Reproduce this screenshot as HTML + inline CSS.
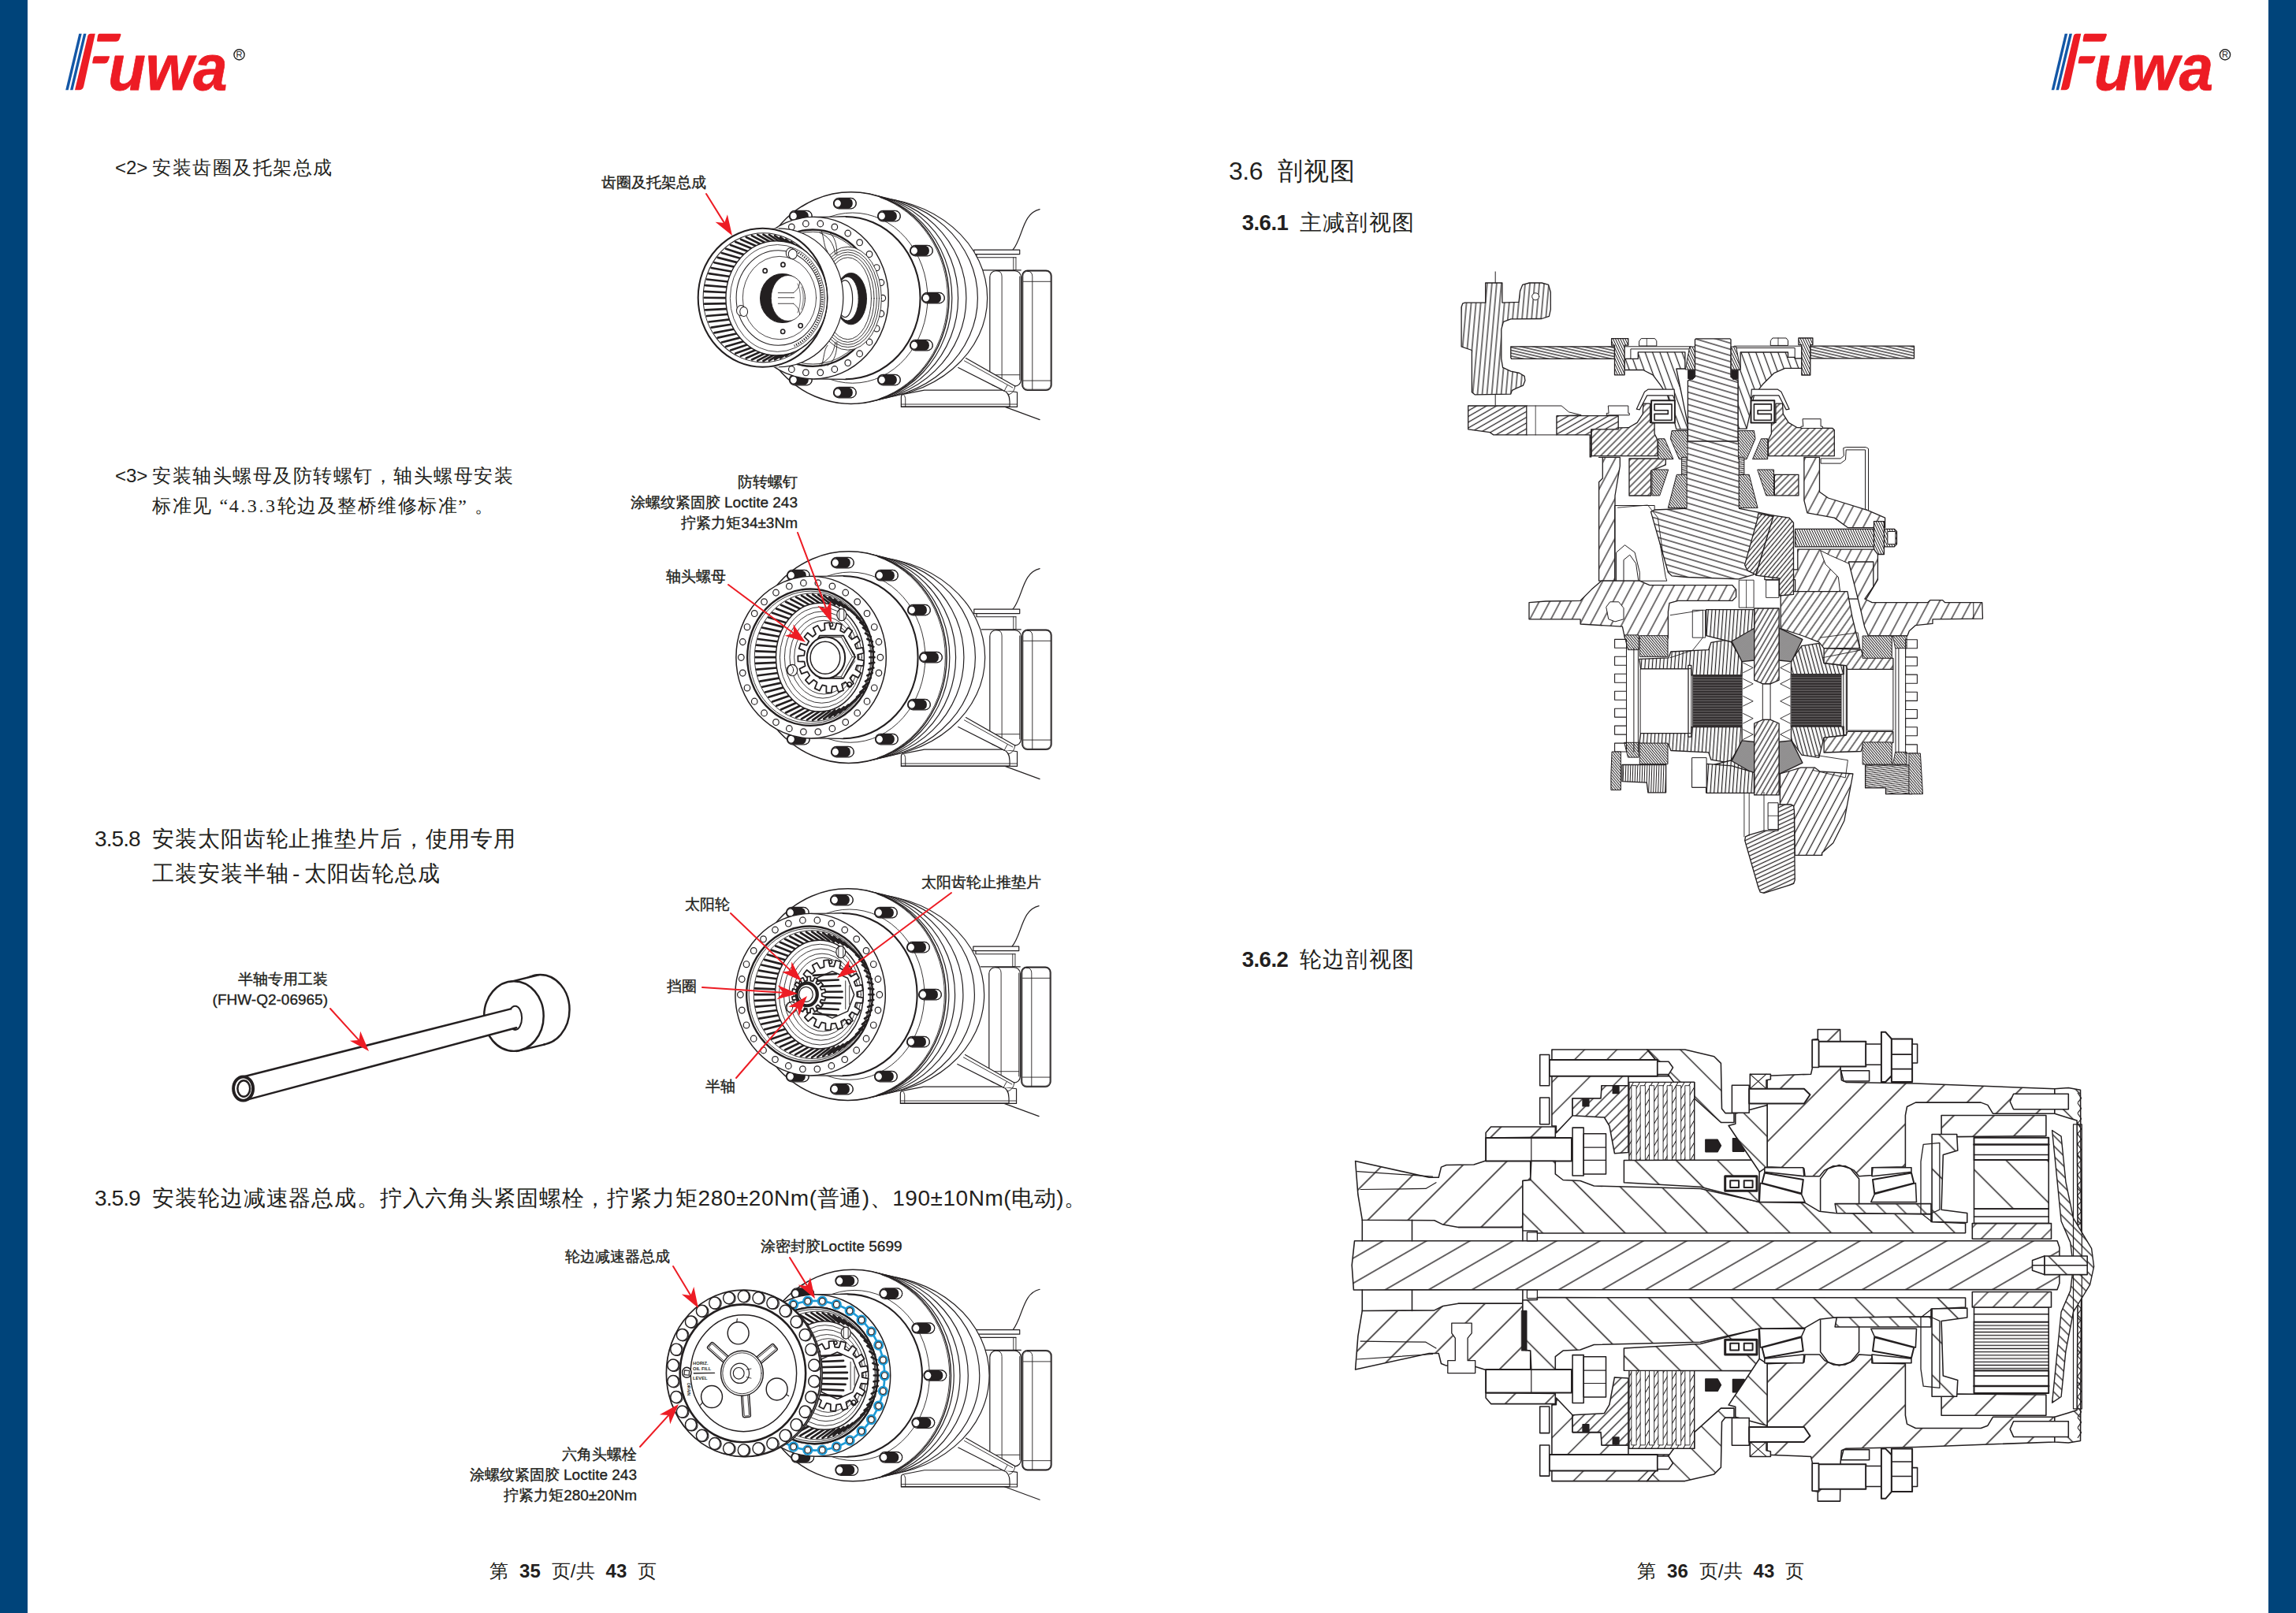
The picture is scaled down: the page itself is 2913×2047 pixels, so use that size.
<!DOCTYPE html>
<html lang="zh"><head><meta charset="utf-8"><title>Fuwa manual p35-36</title>
<style>
html,body{margin:0;padding:0;background:#fff;}
body{width:2913px;height:2047px;position:relative;overflow:hidden;font-family:"Liberation Sans",sans-serif;color:#231f20;}
.bar{position:absolute;top:0;width:35px;height:2047px;background:#00447a;}
svg.g{position:absolute;left:0;top:0;}
.t{position:absolute;white-space:nowrap;line-height:1.5;font-family:"Liberation Sans",sans-serif;}
.serif{font-family:"Liberation Serif",serif;}
.b{font-weight:500;-webkit-text-stroke:0.35px #231f20;}
</style></head><body>
<div class="bar" style="left:0"></div><div class="bar" style="right:0"></div>
<svg class="g" width="2913" height="2047" viewBox="0 0 2913 2047" fill="none" stroke-linecap="round" stroke-linejoin="round">
<defs><pattern id="HP" width="7.50" height="7.50" patternUnits="userSpaceOnUse" patternTransform="rotate(16.7)"><path d="M-1,3.75 L8.50,3.75" stroke="#231f20" stroke-width="1.25" stroke-linecap="butt"/></pattern><pattern id="HY" width="8.80" height="8.80" patternUnits="userSpaceOnUse" patternTransform="rotate(70.0)"><path d="M-1,4.40 L9.80,4.40" stroke="#231f20" stroke-width="1.25" stroke-linecap="butt"/></pattern><pattern id="HC" width="6.00" height="6.00" patternUnits="userSpaceOnUse" patternTransform="rotate(-85.0)"><path d="M-1,3.00 L7.00,3.00" stroke="#231f20" stroke-width="1.25" stroke-linecap="butt"/></pattern><pattern id="HD" width="3.60" height="3.60" patternUnits="userSpaceOnUse" patternTransform="rotate(13.0)"><path d="M-1,1.80 L4.60,1.80" stroke="#231f20" stroke-width="1.25" stroke-linecap="butt"/></pattern><pattern id="H45" width="6.00" height="6.00" patternUnits="userSpaceOnUse" patternTransform="rotate(-45.0)"><path d="M-1,3.00 L7.00,3.00" stroke="#231f20" stroke-width="1.25" stroke-linecap="butt"/></pattern><pattern id="H45s" width="11.80" height="11.80" patternUnits="userSpaceOnUse" patternTransform="rotate(-62.0)"><path d="M-1,5.90 L12.80,5.90" stroke="#231f20" stroke-width="1.25" stroke-linecap="butt"/></pattern><pattern id="HB" width="2.50" height="2.50" patternUnits="userSpaceOnUse" patternTransform="rotate(50.0)"><path d="M-1,1.25 L3.50,1.25" stroke="#231f20" stroke-width="1.00" stroke-linecap="butt"/></pattern><pattern id="HBh" width="2.40" height="2.40" patternUnits="userSpaceOnUse" patternTransform="rotate(-8.0)"><path d="M-1,1.20 L3.40,1.20" stroke="#231f20" stroke-width="1.00" stroke-linecap="butt"/></pattern><pattern id="HBv" width="2.50" height="2.50" patternUnits="userSpaceOnUse" patternTransform="rotate(-80.0)"><path d="M-1,1.25 L3.50,1.25" stroke="#231f20" stroke-width="1.00" stroke-linecap="butt"/></pattern><pattern id="HR" width="4.40" height="4.40" patternUnits="userSpaceOnUse" patternTransform="rotate(-50.0)"><path d="M-1,2.20 L5.40,2.20" stroke="#231f20" stroke-width="1.25" stroke-linecap="butt"/></pattern><pattern id="HV" width="4.70" height="4.70" patternUnits="userSpaceOnUse" patternTransform="rotate(-86.0)"><path d="M-1,2.35 L5.70,2.35" stroke="#231f20" stroke-width="1.25" stroke-linecap="butt"/></pattern><pattern id="HRG" width="5.00" height="5.00" patternUnits="userSpaceOnUse" patternTransform="rotate(-25.0)"><path d="M-1,2.50 L6.00,2.50" stroke="#231f20" stroke-width="1.25" stroke-linecap="butt"/></pattern><pattern id="HX" width="5.50" height="5.50" patternUnits="userSpaceOnUse" patternTransform="rotate(-60.0)"><path d="M-1,2.75 L6.50,2.75" stroke="#231f20" stroke-width="1.25" stroke-linecap="butt"/></pattern><pattern id="HS" width="4.70" height="4.70" patternUnits="userSpaceOnUse" patternTransform="rotate(75.0)"><path d="M-1,2.35 L5.70,2.35" stroke="#231f20" stroke-width="1.25" stroke-linecap="butt"/></pattern><pattern id="HCR" width="8.00" height="8.00" patternUnits="userSpaceOnUse" patternTransform="rotate(-55.0)"><path d="M-1,4.00 L9.00,4.00" stroke="#231f20" stroke-width="1.25" stroke-linecap="butt"/></pattern><pattern id="HVd" width="3.00" height="3.00" patternUnits="userSpaceOnUse" patternTransform="rotate(-88.0)"><path d="M-1,1.50 L4.00,1.50" stroke="#231f20" stroke-width="1.00" stroke-linecap="butt"/></pattern><pattern id="W1" width="19.00" height="19.00" patternUnits="userSpaceOnUse" patternTransform="rotate(-45.0)"><path d="M-1,9.50 L20.00,9.50" stroke="#231f20" stroke-width="1.25" stroke-linecap="butt"/></pattern><pattern id="W2" width="19.00" height="19.00" patternUnits="userSpaceOnUse" patternTransform="rotate(45.0)"><path d="M-1,9.50 L20.00,9.50" stroke="#231f20" stroke-width="1.25" stroke-linecap="butt"/></pattern><pattern id="W3" width="9.00" height="9.00" patternUnits="userSpaceOnUse" patternTransform="rotate(-45.0)"><path d="M-1,4.50 L10.00,4.50" stroke="#231f20" stroke-width="1.25" stroke-linecap="butt"/></pattern><pattern id="W4" width="9.00" height="9.00" patternUnits="userSpaceOnUse" patternTransform="rotate(45.0)"><path d="M-1,4.50 L10.00,4.50" stroke="#231f20" stroke-width="1.25" stroke-linecap="butt"/></pattern><pattern id="W5" width="5.00" height="5.00" patternUnits="userSpaceOnUse" patternTransform="rotate(-45.0)"><path d="M-1,2.50 L6.00,2.50" stroke="#231f20" stroke-width="1.25" stroke-linecap="butt"/></pattern><pattern id="HSc" width="2.80" height="2.80" patternUnits="userSpaceOnUse" patternTransform="rotate(65.0)"><path d="M-1,1.40 L3.80,1.40" stroke="#231f20" stroke-width="1.00" stroke-linecap="butt"/></pattern><pattern id="H45b" width="6.30" height="6.30" patternUnits="userSpaceOnUse" patternTransform="rotate(-30.0)"><path d="M-1,3.15 L7.30,3.15" stroke="#231f20" stroke-width="1.25" stroke-linecap="butt"/></pattern><pattern id="HBd" width="1.70" height="1.70" patternUnits="userSpaceOnUse" patternTransform="rotate(-45.0)"><path d="M-1,0.85 L2.70,0.85" stroke="#231f20" stroke-width="0.85" stroke-linecap="butt"/></pattern><pattern id="HSP" width="3.30" height="3.30" patternUnits="userSpaceOnUse" patternTransform="rotate(0.0)"><path d="M-1,1.65 L4.30,1.65" stroke="#9a9697" stroke-width="0.70" stroke-linecap="butt"/></pattern><pattern id="HCR2" width="8.60" height="8.60" patternUnits="userSpaceOnUse" patternTransform="rotate(-62.0)"><path d="M-1,4.30 L9.60,4.30" stroke="#231f20" stroke-width="1.25" stroke-linecap="butt"/></pattern><pattern id="WA" width="36.00" height="36.00" patternUnits="userSpaceOnUse" patternTransform="rotate(-45.0)"><path d="M-1,18.00 L37.00,18.00" stroke="#231f20" stroke-width="1.40" stroke-linecap="butt"/></pattern><pattern id="WS" width="37.00" height="37.00" patternUnits="userSpaceOnUse" patternTransform="rotate(45.0)"><path d="M-1,18.50 L38.00,18.50" stroke="#231f20" stroke-width="1.40" stroke-linecap="butt"/></pattern><pattern id="WSh" width="27.50" height="27.50" patternUnits="userSpaceOnUse" patternTransform="rotate(-30.0)"><path d="M-1,13.75 L28.50,13.75" stroke="#231f20" stroke-width="1.40" stroke-linecap="butt"/></pattern><pattern id="WB" width="29.00" height="29.00" patternUnits="userSpaceOnUse" patternTransform="rotate(-45.0)"><path d="M-1,14.50 L30.00,14.50" stroke="#231f20" stroke-width="1.40" stroke-linecap="butt"/></pattern><pattern id="WBr" width="29.00" height="29.00" patternUnits="userSpaceOnUse" patternTransform="rotate(45.0)"><path d="M-1,14.50 L30.00,14.50" stroke="#231f20" stroke-width="1.40" stroke-linecap="butt"/></pattern><pattern id="WP" width="9.20" height="9.20" patternUnits="userSpaceOnUse" patternTransform="rotate(-45.0)"><path d="M-1,4.60 L10.20,4.60" stroke="#231f20" stroke-width="1.30" stroke-linecap="butt"/></pattern><pattern id="WPr" width="9.20" height="9.20" patternUnits="userSpaceOnUse" patternTransform="rotate(45.0)"><path d="M-1,4.60 L10.20,4.60" stroke="#231f20" stroke-width="1.30" stroke-linecap="butt"/></pattern><pattern id="WH" width="36.00" height="36.00" patternUnits="userSpaceOnUse" patternTransform="rotate(-45.0)"><path d="M-1,18.00 L37.00,18.00" stroke="#231f20" stroke-width="1.40" stroke-linecap="butt"/></pattern><pattern id="WHd" width="18.00" height="18.00" patternUnits="userSpaceOnUse" patternTransform="rotate(-45.0)"><path d="M-1,9.00 L19.00,9.00" stroke="#231f20" stroke-width="1.30" stroke-linecap="butt"/></pattern><pattern id="WSd" width="18.00" height="18.00" patternUnits="userSpaceOnUse" patternTransform="rotate(45.0)"><path d="M-1,9.00 L19.00,9.00" stroke="#231f20" stroke-width="1.30" stroke-linecap="butt"/></pattern><pattern id="WDK" width="7.00" height="7.00" patternUnits="userSpaceOnUse" patternTransform="rotate(-60.0)"><path d="M-1,3.50 L8.00,3.50" stroke="#231f20" stroke-width="1.00" stroke-linecap="butt"/></pattern><pattern id="WVL" width="4.20" height="4.20" patternUnits="userSpaceOnUse" patternTransform="rotate(0.0)"><path d="M-1,2.10 L5.20,2.10" stroke="#231f20" stroke-width="1.30" stroke-linecap="butt"/></pattern></defs>
<g transform="translate(0.0,0)"><polygon points="83.2,114.3 86.7,114.3 103.7,42.8 100.2,42.8" fill="#1357a6"/><polygon points="89.0,114.3 92.5,114.3 109.5,42.8 106.0,42.8" fill="#1357a6"/><path d="M95,114.3 L111.2,46 Q112,42.8 115,42.8 L120.8,42.8 L106.2,109.5 Q105,114.3 100.5,114.3 Z" fill="#ed1c24"/><path d="M126.3,42.8 L152.4,42.8 Q153.8,42.8 153.4,44.5 L151.6,49.5 Q150.4,52.7 146.9,52.7 L123.9,52.7 Q122.7,52.7 123.1,51 L123.9,46 Q124.5,42.8 126.3,42.8 Z" fill="#ed1c24"/><path d="M120.6,71.3 L138.4,71.3 Q139.4,71.3 139,72.6 L137,77.8 Q136,80.4 132.9,80.4 L117.9,80.4 Q116.9,80.4 117.2,79.2 L118.1,74.5 Q118.7,71.3 120.6,71.3 Z" fill="#ed1c24"/><text x="0" y="0" transform="translate(137.2,113.6) scale(0.955,1)" stroke="#ed1c24" stroke-width="0.8" font-family="Liberation Sans, sans-serif" font-weight="bold" font-style="italic" font-size="81.5" fill="#ed1c24">uwa</text><circle cx="303.5" cy="69.4" r="6.6" fill="none" stroke="#222" stroke-width="1.4"/><text x="303.5" y="73.4" text-anchor="middle" font-family="Liberation Sans, sans-serif" font-size="11" fill="#222">R</text></g>
<g transform="translate(2519.5,0)"><polygon points="83.2,114.3 86.7,114.3 103.7,42.8 100.2,42.8" fill="#1357a6"/><polygon points="89.0,114.3 92.5,114.3 109.5,42.8 106.0,42.8" fill="#1357a6"/><path d="M95,114.3 L111.2,46 Q112,42.8 115,42.8 L120.8,42.8 L106.2,109.5 Q105,114.3 100.5,114.3 Z" fill="#ed1c24"/><path d="M126.3,42.8 L152.4,42.8 Q153.8,42.8 153.4,44.5 L151.6,49.5 Q150.4,52.7 146.9,52.7 L123.9,52.7 Q122.7,52.7 123.1,51 L123.9,46 Q124.5,42.8 126.3,42.8 Z" fill="#ed1c24"/><path d="M120.6,71.3 L138.4,71.3 Q139.4,71.3 139,72.6 L137,77.8 Q136,80.4 132.9,80.4 L117.9,80.4 Q116.9,80.4 117.2,79.2 L118.1,74.5 Q118.7,71.3 120.6,71.3 Z" fill="#ed1c24"/><text x="0" y="0" transform="translate(137.2,113.6) scale(0.955,1)" stroke="#ed1c24" stroke-width="0.8" font-family="Liberation Sans, sans-serif" font-weight="bold" font-style="italic" font-size="81.5" fill="#ed1c24">uwa</text><circle cx="303.5" cy="69.4" r="6.6" fill="none" stroke="#222" stroke-width="1.4"/><text x="303.5" y="73.4" text-anchor="middle" font-family="Liberation Sans, sans-serif" font-size="11" fill="#222">R</text></g>
<g transform="translate(0,-456)"><g transform="translate(920,680) scale(0.19837)"><path d="M1840,470 C1905,390 1900,235 2012,210" stroke="#231f20" stroke-width="6.00" fill="none" /><path d="M1780.0,1470.0 L2012.0,1556.0" stroke="#231f20" stroke-width="6.00"/><path d="M1592.0,469.0 L1884.0,469.0 L1884.0,497.0 L1592.0,497.0Z" stroke="#231f20" stroke-width="6.00" fill="#fff" /><path d="M1608.0,497.0 L1608.0,518.0 L1860.0,518.0" stroke="#231f20" stroke-width="6.00" fill="none" /><path d="M1844.0,518.0 L1844.0,599.0 L1860.0,599.0 L1860.0,518.0" stroke="#231f20" stroke-width="4.50" fill="none" /><path d="M1640.0,599.0 L1892.0,599.0" stroke="#231f20" stroke-width="6.00"/><rect x="1693.0" y="603.0" width="199.0" height="739.0" rx="40.0" stroke="#231f20" stroke-width="6.00" fill="#fff"/><path d="M1770,1342 L1770,640 Q1770,603 1735,603" stroke="#231f20" stroke-width="4.50" fill="none" /><path d="M1884.0,640.0 L1884.0,1300.0" stroke="#231f20" stroke-width="4.50"/><path d="M1700.0,1269.0 L1884.0,1269.0" stroke="#231f20" stroke-width="4.50"/><rect x="1900.0" y="601.0" width="187.0" height="766.0" rx="34.0" stroke="#231f20" stroke-width="7.50" fill="#fff"/><rect x="1905.0" y="606.0" width="177.0" height="756.0" rx="30.0" stroke="#231f20" stroke-width="3.75" fill="none"/><path d="M1965,1362 L1965,640 Q1965,606 1935,606" stroke="#231f20" stroke-width="4.50" fill="none" /><path d="M1908.0,672.0 L2082.0,672.0" stroke="#231f20" stroke-width="4.50"/><path d="M1908.0,1306.0 L2082.0,1306.0" stroke="#231f20" stroke-width="4.50"/><path d="M1274,1367 L1776,1367 Q1820,1380 1820,1440 L1820,1472 L1126,1472 L1126,1410 Q1126,1394 1145,1392 Z" stroke="#231f20" stroke-width="6.00" fill="#fff" /><path d="M1776.0,1367.0 L1868.0,1380.0 L1868.0,1474.0 L1126.0,1474.0" stroke="#231f20" stroke-width="6.00" fill="none" /><path d="M1126.0,1457.0 L1868.0,1457.0" stroke="#231f20" stroke-width="4.50"/><path d="M1153,1472 L1153,1420 Q1150,1398 1140,1394" stroke="#231f20" stroke-width="4.50" fill="none" /><path d="M1540.0,1162.0 L1854.0,1341.0 L1845.0,1372.0 L1786.0,1372.0 L1491.0,1222.0Z" stroke="none" stroke-width="0.00" fill="#fff" /><path d="M1540.0,1162.0 L1854.0,1341.0" stroke="#231f20" stroke-width="6.00"/><path d="M1530.0,1179.0 L1839.0,1351.0" stroke="#231f20" stroke-width="4.50"/><path d="M1491.0,1222.0 L1786.0,1372.0" stroke="#231f20" stroke-width="6.00"/><path d="M1854,1341 Q1850,1385 1815,1395" stroke="#231f20" stroke-width="4.50" fill="none" /><path d="M1805,1336 Q1790,1360 1786,1372" stroke="#231f20" stroke-width="4.50" fill="none" /><g transform="translate(15,0)"><ellipse cx="904.0" cy="777.0" rx="758.0" ry="642.0" stroke="#231f20" stroke-width="6.00" fill="#fff" /><ellipse cx="875.2" cy="777.0" rx="724.8" ry="650.9" stroke="#231f20" stroke-width="6.00" fill="#fff" /><ellipse cx="841.2" cy="777.0" rx="685.8" ry="661.3" stroke="#231f20" stroke-width="6.00" fill="#fff" /><ellipse cx="817.0" cy="777.0" rx="658.0" ry="668.7" stroke="#231f20" stroke-width="6.00" fill="#fff" /><ellipse cx="798.8" cy="777.0" rx="637.2" ry="674.3" stroke="#231f20" stroke-width="6.00" fill="#fff" /><ellipse cx="790.0" cy="777.0" rx="627.0" ry="677.0" stroke="#231f20" stroke-width="7.50" fill="#fff" /><path d="M974.8,133.1 A627.0,677.0 0 0 1 974.8,1420.9" stroke="#231f20" stroke-width="4.50" fill="none" /><ellipse cx="800.0" cy="777.0" rx="480.0" ry="545.0" stroke="#231f20" stroke-width="4.50" fill="none" /><rect x="395.5" y="219.1" width="145.0" height="68.0" rx="34.0" stroke="#231f20" stroke-width="6.00" fill="#fff"/><path d="M427.5,220.1 L492.5,220.1 A34,34 0 0 1 492.5,286.1 L427.5,286.1 Z" fill="#231f20" stroke="none"/><path d="M512.4,219.6 A34.0,34.0 0 0 1 512.4,286.5" stroke="#231f20" stroke-width="4.50" fill="none" /><ellipse cx="422.5" cy="253.1" rx="24.0" ry="26.0" stroke="#231f20" stroke-width="7.50" fill="#fff" /><rect x="678.0" y="138.0" width="145.0" height="68.0" rx="34.0" stroke="#231f20" stroke-width="6.00" fill="#fff"/><path d="M710.0,139.0 L775.0,139.0 A34,34 0 0 1 775.0,205.0 L710.0,205.0 Z" fill="#231f20" stroke="none"/><path d="M794.9,138.5 A34.0,34.0 0 0 1 794.9,205.5" stroke="#231f20" stroke-width="4.50" fill="none" /><ellipse cx="705.0" cy="172.0" rx="24.0" ry="26.0" stroke="#231f20" stroke-width="7.50" fill="#fff" /><rect x="960.5" y="219.1" width="145.0" height="68.0" rx="34.0" stroke="#231f20" stroke-width="6.00" fill="#fff"/><path d="M992.5,220.1 L1057.5,220.1 A34,34 0 0 1 1057.5,286.1 L992.5,286.1 Z" fill="#231f20" stroke="none"/><path d="M1077.4,219.6 A34.0,34.0 0 0 1 1077.4,286.5" stroke="#231f20" stroke-width="4.50" fill="none" /><ellipse cx="987.5" cy="253.1" rx="24.0" ry="26.0" stroke="#231f20" stroke-width="7.50" fill="#fff" /><rect x="1167.3" y="440.5" width="145.0" height="68.0" rx="34.0" stroke="#231f20" stroke-width="6.00" fill="#fff"/><path d="M1199.3,441.5 L1264.3,441.5 A34,34 0 0 1 1264.3,507.5 L1199.3,507.5 Z" fill="#231f20" stroke="none"/><path d="M1284.2,441.0 A34.0,34.0 0 0 1 1284.2,508.0" stroke="#231f20" stroke-width="4.50" fill="none" /><ellipse cx="1194.3" cy="474.5" rx="24.0" ry="26.0" stroke="#231f20" stroke-width="7.50" fill="#fff" /><rect x="1243.0" y="743.0" width="145.0" height="68.0" rx="34.0" stroke="#231f20" stroke-width="6.00" fill="#fff"/><path d="M1275.0,744.0 L1340.0,744.0 A34,34 0 0 1 1340.0,810.0 L1275.0,810.0 Z" fill="#231f20" stroke="none"/><path d="M1359.9,743.5 A34.0,34.0 0 0 1 1359.9,810.5" stroke="#231f20" stroke-width="4.50" fill="none" /><ellipse cx="1270.0" cy="777.0" rx="24.0" ry="26.0" stroke="#231f20" stroke-width="7.50" fill="#fff" /><rect x="1167.3" y="1045.5" width="145.0" height="68.0" rx="34.0" stroke="#231f20" stroke-width="6.00" fill="#fff"/><path d="M1199.3,1046.5 L1264.3,1046.5 A34,34 0 0 1 1264.3,1112.5 L1199.3,1112.5 Z" fill="#231f20" stroke="none"/><path d="M1284.2,1046.0 A34.0,34.0 0 0 1 1284.2,1113.0" stroke="#231f20" stroke-width="4.50" fill="none" /><ellipse cx="1194.3" cy="1079.5" rx="24.0" ry="26.0" stroke="#231f20" stroke-width="7.50" fill="#fff" /><rect x="960.5" y="1266.9" width="145.0" height="68.0" rx="34.0" stroke="#231f20" stroke-width="6.00" fill="#fff"/><path d="M992.5,1267.9 L1057.5,1267.9 A34,34 0 0 1 1057.5,1333.9 L992.5,1333.9 Z" fill="#231f20" stroke="none"/><path d="M1077.4,1267.5 A34.0,34.0 0 0 1 1077.4,1334.4" stroke="#231f20" stroke-width="4.50" fill="none" /><ellipse cx="987.5" cy="1300.9" rx="24.0" ry="26.0" stroke="#231f20" stroke-width="7.50" fill="#fff" /><rect x="678.0" y="1348.0" width="145.0" height="68.0" rx="34.0" stroke="#231f20" stroke-width="6.00" fill="#fff"/><path d="M710.0,1349.0 L775.0,1349.0 A34,34 0 0 1 775.0,1415.0 L710.0,1415.0 Z" fill="#231f20" stroke="none"/><path d="M794.9,1348.5 A34.0,34.0 0 0 1 794.9,1415.5" stroke="#231f20" stroke-width="4.50" fill="none" /><ellipse cx="705.0" cy="1382.0" rx="24.0" ry="26.0" stroke="#231f20" stroke-width="7.50" fill="#fff" /><rect x="395.5" y="1266.9" width="145.0" height="68.0" rx="34.0" stroke="#231f20" stroke-width="6.00" fill="#fff"/><path d="M427.5,1267.9 L492.5,1267.9 A34,34 0 0 1 492.5,1333.9 L427.5,1333.9 Z" fill="#231f20" stroke="none"/><path d="M512.4,1267.5 A34.0,34.0 0 0 1 512.4,1334.4" stroke="#231f20" stroke-width="4.50" fill="none" /><ellipse cx="422.5" cy="1300.9" rx="24.0" ry="26.0" stroke="#231f20" stroke-width="7.50" fill="#fff" /><ellipse cx="755.0" cy="777.0" rx="478.0" ry="520.0" stroke="#231f20" stroke-width="10.50" fill="#fff" /><path d="M550.0,259.0 L755.0,257.0 L755.0,1297.0 L550.0,1295.0Z" stroke="none" stroke-width="0.00" fill="#fff" /><path d="M550.0,259.0 L760.0,257.0" stroke="#231f20" stroke-width="6.00"/><path d="M550.0,1295.0 L760.0,1297.0" stroke="#231f20" stroke-width="6.00"/><ellipse cx="550.0" cy="777.0" rx="480.0" ry="518.0" stroke="#231f20" stroke-width="7.50" fill="#fff" /><ellipse cx="594.0" cy="302.0" rx="19.0" ry="20.0" stroke="#231f20" stroke-width="6.00" fill="none" /><ellipse cx="685.0" cy="322.8" rx="19.0" ry="20.0" stroke="#231f20" stroke-width="6.00" fill="none" /><ellipse cx="770.0" cy="363.5" rx="19.0" ry="20.0" stroke="#231f20" stroke-width="6.00" fill="none" /><ellipse cx="845.3" cy="422.3" rx="19.0" ry="20.0" stroke="#231f20" stroke-width="6.00" fill="none" /><ellipse cx="907.5" cy="496.7" rx="19.0" ry="20.0" stroke="#231f20" stroke-width="6.00" fill="none" /><ellipse cx="954.0" cy="583.3" rx="19.0" ry="20.0" stroke="#231f20" stroke-width="6.00" fill="none" /><ellipse cx="982.8" cy="678.5" rx="19.0" ry="20.0" stroke="#231f20" stroke-width="6.00" fill="none" /><ellipse cx="992.5" cy="778.0" rx="19.0" ry="20.0" stroke="#231f20" stroke-width="6.00" fill="none" /><ellipse cx="982.8" cy="877.5" rx="19.0" ry="20.0" stroke="#231f20" stroke-width="6.00" fill="none" /><ellipse cx="954.0" cy="972.7" rx="19.0" ry="20.0" stroke="#231f20" stroke-width="6.00" fill="none" /><ellipse cx="907.5" cy="1059.3" rx="19.0" ry="20.0" stroke="#231f20" stroke-width="6.00" fill="none" /><ellipse cx="845.3" cy="1133.7" rx="19.0" ry="20.0" stroke="#231f20" stroke-width="6.00" fill="none" /><ellipse cx="770.0" cy="1192.5" rx="19.0" ry="20.0" stroke="#231f20" stroke-width="6.00" fill="none" /><ellipse cx="685.0" cy="1233.2" rx="19.0" ry="20.0" stroke="#231f20" stroke-width="6.00" fill="none" /><ellipse cx="594.0" cy="1254.0" rx="19.0" ry="20.0" stroke="#231f20" stroke-width="6.00" fill="none" /><ellipse cx="501.0" cy="1254.0" rx="19.0" ry="20.0" stroke="#231f20" stroke-width="6.00" fill="none" /><ellipse cx="410.0" cy="1233.2" rx="19.0" ry="20.0" stroke="#231f20" stroke-width="6.00" fill="none" /><ellipse cx="325.0" cy="1192.5" rx="19.0" ry="20.0" stroke="#231f20" stroke-width="6.00" fill="none" /><ellipse cx="249.7" cy="1133.7" rx="19.0" ry="20.0" stroke="#231f20" stroke-width="6.00" fill="none" /><ellipse cx="187.5" cy="1059.3" rx="19.0" ry="20.0" stroke="#231f20" stroke-width="6.00" fill="none" /><ellipse cx="141.0" cy="972.7" rx="19.0" ry="20.0" stroke="#231f20" stroke-width="6.00" fill="none" /><ellipse cx="112.2" cy="877.5" rx="19.0" ry="20.0" stroke="#231f20" stroke-width="6.00" fill="none" /><ellipse cx="102.5" cy="778.0" rx="19.0" ry="20.0" stroke="#231f20" stroke-width="6.00" fill="none" /><ellipse cx="112.2" cy="678.5" rx="19.0" ry="20.0" stroke="#231f20" stroke-width="6.00" fill="none" /><ellipse cx="141.0" cy="583.3" rx="19.0" ry="20.0" stroke="#231f20" stroke-width="6.00" fill="none" /><ellipse cx="187.5" cy="496.7" rx="19.0" ry="20.0" stroke="#231f20" stroke-width="6.00" fill="none" /><ellipse cx="249.7" cy="422.3" rx="19.0" ry="20.0" stroke="#231f20" stroke-width="6.00" fill="none" /><ellipse cx="325.0" cy="363.5" rx="19.0" ry="20.0" stroke="#231f20" stroke-width="6.00" fill="none" /><ellipse cx="410.0" cy="322.8" rx="19.0" ry="20.0" stroke="#231f20" stroke-width="6.00" fill="none" /><ellipse cx="501.0" cy="302.0" rx="19.0" ry="20.0" stroke="#231f20" stroke-width="6.00" fill="none" /><ellipse cx="545.0" cy="777.0" rx="403.0" ry="437.0" stroke="#231f20" stroke-width="12.00" fill="#fff" /><ellipse cx="547.0" cy="777.0" rx="390.0" ry="423.0" stroke="#231f20" stroke-width="4.50" fill="none" /><ellipse cx="770.0" cy="780.0" rx="215.0" ry="330.0" stroke="#231f20" stroke-width="4.50" fill="#fff" /><ellipse cx="770.0" cy="780.0" rx="200.0" ry="312.0" stroke="#231f20" stroke-width="4.50" fill="#fff" /><ellipse cx="770.0" cy="780.0" rx="185.0" ry="296.0" stroke="#231f20" stroke-width="4.50" fill="#fff" /><ellipse cx="770.0" cy="780.0" rx="168.0" ry="280.0" stroke="#231f20" stroke-width="4.50" fill="#fff" /><ellipse cx="770.0" cy="780.0" rx="150.0" ry="262.0" stroke="#231f20" stroke-width="4.50" fill="#fff" /><ellipse cx="790.0" cy="782.0" rx="100.0" ry="165.0" stroke="#231f20" stroke-width="4.50" fill="#231f20" /><ellipse cx="768.0" cy="782.0" rx="70.0" ry="140.0" stroke="#231f20" stroke-width="4.50" fill="#fff" /><ellipse cx="752.0" cy="782.0" rx="48.0" ry="118.0" stroke="#231f20" stroke-width="6.00" fill="none" /><path d="M590,360 C640,380 680,420 690,500" stroke="#231f20" stroke-width="4.50" fill="none" /><path d="M640,350 C690,380 700,440 700,500" stroke="#231f20" stroke-width="4.50" fill="none" /><path d="M600,345 C620,400 615,450 640,480" stroke="#231f20" stroke-width="4.50" fill="none" /><path d="M590,1200 C640,1180 680,1140 690,1060" stroke="#231f20" stroke-width="4.50" fill="none" /><path d="M640,1210 C690,1180 700,1120 700,1060" stroke="#231f20" stroke-width="4.50" fill="none" /><path d="M600,1215 C620,1160 615,1110 640,1080" stroke="#231f20" stroke-width="4.50" fill="none" /></g></g></g><g transform="translate(870,270) scale(0.13641)"><ellipse cx="865.0" cy="790.0" rx="600.0" ry="645.0" stroke="#231f20" stroke-width="9.00" fill="#fff" /><path d="M715.0,145.0 L865.0,145.0 L865.0,1435.0 L715.0,1435.0Z" stroke="none" stroke-width="0.00" fill="#fff" /><ellipse cx="715.0" cy="790.0" rx="600.0" ry="645.0" stroke="#231f20" stroke-width="15.00" fill="#fff" /><ellipse cx="722.0" cy="790.0" rx="560.0" ry="602.0" stroke="#231f20" stroke-width="7.50" fill="none" /><path d="M1270.0,790.0 L1300.0,793.0 M1267.4,847.6 L1297.8,843.5 M1259.5,904.7 L1291.3,893.5 M1246.4,960.7 L1280.4,942.5 M1228.3,1015.0 L1265.4,990.1 M1205.3,1067.2 L1246.3,1035.8 M1177.6,1116.7 L1223.3,1079.1 M1145.6,1163.0 L1196.7,1119.7 M1109.5,1205.8 L1166.7,1157.2 M1069.6,1244.5 L1133.6,1191.1 M1026.5,1278.9 L1097.8,1221.2 M980.3,1308.6 L1059.5,1247.2 M931.7,1333.2 L1019.1,1268.8 M881.1,1352.7 L977.1,1285.8 M828.9,1366.7 L933.8,1298.1 M775.7,1375.2 L889.6,1305.5 M722.0,1378.0 L845.0,1308.0 M668.3,1375.2 L800.4,1305.5 M615.1,1366.7 L756.2,1298.1 M562.9,1352.7 L712.9,1285.8 M512.3,1333.2 L670.9,1268.8 M463.7,1308.6 L630.5,1247.2 M417.5,1278.9 L592.2,1221.2 M374.4,1244.5 L556.4,1191.1 M334.5,1205.8 L523.3,1157.2 M298.4,1163.0 L493.3,1119.7 M266.4,1116.7 L466.7,1079.1 M238.7,1067.2 L443.7,1035.8 M215.7,1015.0 L424.6,990.1 M197.6,960.7 L409.6,942.5 M184.5,904.7 L398.7,893.5 M176.6,847.6 L392.2,843.5 M174.0,790.0 L390.0,793.0 M176.6,732.4 L392.2,742.5 M184.5,675.3 L398.7,692.5 M197.6,619.3 L409.6,643.5 M215.7,565.0 L424.6,595.9 M238.7,512.8 L443.7,550.2 M266.4,463.3 L466.7,506.9 M298.4,417.0 L493.3,466.3 M334.5,374.2 L523.3,428.8 M374.4,335.5 L556.4,394.9 M417.5,301.1 L592.2,364.8 M463.7,271.4 L630.5,338.8 M512.3,246.8 L670.9,317.2 M562.9,227.3 L712.9,300.2 M615.1,213.3 L756.2,287.9 M668.3,204.8 L800.4,280.5 M722.0,202.0 L845.0,278.0 M775.7,204.8 L889.6,280.5 M828.9,213.3 L933.8,287.9 M881.1,227.3 L977.1,300.2 M931.7,246.8 L1019.1,317.2 M980.3,271.4 L1059.5,338.8 M1026.5,301.1 L1097.8,364.8 M1069.6,335.5 L1133.6,394.9 M1109.5,374.2 L1166.7,428.8 M1145.6,417.0 L1196.7,466.3 M1177.6,463.3 L1223.3,506.9 M1205.3,512.8 L1246.3,550.2 M1228.3,565.0 L1265.4,595.9 M1246.4,619.3 L1280.4,643.5 M1259.5,675.3 L1291.3,692.5 M1267.4,732.4 L1297.8,742.5 " stroke="#231f20" stroke-width="19.50" fill="none" /><ellipse cx="845.0" cy="795.0" rx="472.0" ry="532.0" stroke="#231f20" stroke-width="10.50" fill="#fff" /><ellipse cx="853.0" cy="795.0" rx="440.0" ry="498.0" stroke="#231f20" stroke-width="6.00" fill="none" /><ellipse cx="862.0" cy="792.0" rx="392.0" ry="442.0" stroke="#231f20" stroke-width="7.50" fill="none" /><ellipse cx="872.0" cy="792.0" rx="342.0" ry="386.0" stroke="#231f20" stroke-width="6.00" fill="none" /><path d="M1009.6,351.8 A418,478 0 0 1 1009.6,1238.2" stroke="#231f20" stroke-width="22" stroke-dasharray="9 13" stroke-linecap="butt" fill="none"/><ellipse cx="900.0" cy="795.0" rx="207.0" ry="227.0" stroke="#231f20" stroke-width="7.50" fill="#231f20" /><ellipse cx="952.0" cy="795.0" rx="158.0" ry="212.0" stroke="#231f20" stroke-width="6.00" fill="#fff" /><path d="M860,745 L1000,745 M860,790 L985,790 M860,845 L1000,845" stroke="#231f20" stroke-width="6.00" fill="none" /><path d="M1000,745 C1040,720 1060,680 1060,640 M1000,845 C1040,870 1060,910 1060,950 M985,790 L1010,790" stroke="#231f20" stroke-width="6.00" fill="none" /><path d="M1040,660 C1075,720 1075,860 1040,930 M1075,690 C1100,740 1100,840 1075,900" stroke="#231f20" stroke-width="4.50" fill="none" /><ellipse cx="738.0" cy="540.0" rx="19.0" ry="20.0" stroke="#231f20" stroke-width="12.00" fill="none" /><ellipse cx="905.0" cy="483.0" rx="19.0" ry="20.0" stroke="#231f20" stroke-width="12.00" fill="none" /><ellipse cx="1068.0" cy="1050.0" rx="19.0" ry="20.0" stroke="#231f20" stroke-width="12.00" fill="none" /><ellipse cx="903.0" cy="1105.0" rx="19.0" ry="20.0" stroke="#231f20" stroke-width="12.00" fill="none" /><ellipse cx="975.0" cy="375.0" rx="42.0" ry="48.0" stroke="#231f20" stroke-width="7.50" fill="#fff" /><ellipse cx="995.0" cy="385.0" rx="40.0" ry="46.0" stroke="#231f20" stroke-width="7.50" fill="#fff" /><ellipse cx="515.0" cy="910.0" rx="42.0" ry="48.0" stroke="#231f20" stroke-width="7.50" fill="#fff" /><ellipse cx="540.0" cy="920.0" rx="36.0" ry="44.0" stroke="#231f20" stroke-width="7.50" fill="#fff" /></g><path d="M896.0,246.0 L919.1,283.1" stroke="#ed1c24" stroke-width="2.0"/><path d="M929.0,299.0 L907.6,281.7 L919.1,283.1 L922.9,272.2 Z" fill="#ed1c24" stroke="none"/>
<g transform="translate(920,680) scale(0.19837)"><path d="M1840,470 C1905,390 1900,235 2012,210" stroke="#231f20" stroke-width="6.00" fill="none" /><path d="M1780.0,1470.0 L2012.0,1556.0" stroke="#231f20" stroke-width="6.00"/><path d="M1592.0,469.0 L1884.0,469.0 L1884.0,497.0 L1592.0,497.0Z" stroke="#231f20" stroke-width="6.00" fill="#fff" /><path d="M1608.0,497.0 L1608.0,518.0 L1860.0,518.0" stroke="#231f20" stroke-width="6.00" fill="none" /><path d="M1844.0,518.0 L1844.0,599.0 L1860.0,599.0 L1860.0,518.0" stroke="#231f20" stroke-width="4.50" fill="none" /><path d="M1640.0,599.0 L1892.0,599.0" stroke="#231f20" stroke-width="6.00"/><rect x="1693.0" y="603.0" width="199.0" height="739.0" rx="40.0" stroke="#231f20" stroke-width="6.00" fill="#fff"/><path d="M1770,1342 L1770,640 Q1770,603 1735,603" stroke="#231f20" stroke-width="4.50" fill="none" /><path d="M1884.0,640.0 L1884.0,1300.0" stroke="#231f20" stroke-width="4.50"/><path d="M1700.0,1269.0 L1884.0,1269.0" stroke="#231f20" stroke-width="4.50"/><rect x="1900.0" y="601.0" width="187.0" height="766.0" rx="34.0" stroke="#231f20" stroke-width="7.50" fill="#fff"/><rect x="1905.0" y="606.0" width="177.0" height="756.0" rx="30.0" stroke="#231f20" stroke-width="3.75" fill="none"/><path d="M1965,1362 L1965,640 Q1965,606 1935,606" stroke="#231f20" stroke-width="4.50" fill="none" /><path d="M1908.0,672.0 L2082.0,672.0" stroke="#231f20" stroke-width="4.50"/><path d="M1908.0,1306.0 L2082.0,1306.0" stroke="#231f20" stroke-width="4.50"/><path d="M1274,1367 L1776,1367 Q1820,1380 1820,1440 L1820,1472 L1126,1472 L1126,1410 Q1126,1394 1145,1392 Z" stroke="#231f20" stroke-width="6.00" fill="#fff" /><path d="M1776.0,1367.0 L1868.0,1380.0 L1868.0,1474.0 L1126.0,1474.0" stroke="#231f20" stroke-width="6.00" fill="none" /><path d="M1126.0,1457.0 L1868.0,1457.0" stroke="#231f20" stroke-width="4.50"/><path d="M1153,1472 L1153,1420 Q1150,1398 1140,1394" stroke="#231f20" stroke-width="4.50" fill="none" /><path d="M1540.0,1162.0 L1854.0,1341.0 L1845.0,1372.0 L1786.0,1372.0 L1491.0,1222.0Z" stroke="none" stroke-width="0.00" fill="#fff" /><path d="M1540.0,1162.0 L1854.0,1341.0" stroke="#231f20" stroke-width="6.00"/><path d="M1530.0,1179.0 L1839.0,1351.0" stroke="#231f20" stroke-width="4.50"/><path d="M1491.0,1222.0 L1786.0,1372.0" stroke="#231f20" stroke-width="6.00"/><path d="M1854,1341 Q1850,1385 1815,1395" stroke="#231f20" stroke-width="4.50" fill="none" /><path d="M1805,1336 Q1790,1360 1786,1372" stroke="#231f20" stroke-width="4.50" fill="none" /><ellipse cx="904.0" cy="777.0" rx="758.0" ry="642.0" stroke="#231f20" stroke-width="6.00" fill="#fff" /><ellipse cx="875.2" cy="777.0" rx="724.8" ry="650.9" stroke="#231f20" stroke-width="6.00" fill="#fff" /><ellipse cx="841.2" cy="777.0" rx="685.8" ry="661.3" stroke="#231f20" stroke-width="6.00" fill="#fff" /><ellipse cx="817.0" cy="777.0" rx="658.0" ry="668.7" stroke="#231f20" stroke-width="6.00" fill="#fff" /><ellipse cx="798.8" cy="777.0" rx="637.2" ry="674.3" stroke="#231f20" stroke-width="6.00" fill="#fff" /><ellipse cx="790.0" cy="777.0" rx="627.0" ry="677.0" stroke="#231f20" stroke-width="7.50" fill="#fff" /><path d="M974.8,133.1 A627.0,677.0 0 0 1 974.8,1420.9" stroke="#231f20" stroke-width="4.50" fill="none" /><ellipse cx="800.0" cy="777.0" rx="480.0" ry="545.0" stroke="#231f20" stroke-width="4.50" fill="none" /><rect x="395.5" y="219.1" width="145.0" height="68.0" rx="34.0" stroke="#231f20" stroke-width="6.00" fill="#fff"/><path d="M427.5,220.1 L492.5,220.1 A34,34 0 0 1 492.5,286.1 L427.5,286.1 Z" fill="#231f20" stroke="none"/><path d="M512.4,219.6 A34.0,34.0 0 0 1 512.4,286.5" stroke="#231f20" stroke-width="4.50" fill="none" /><ellipse cx="422.5" cy="253.1" rx="24.0" ry="26.0" stroke="#231f20" stroke-width="7.50" fill="#fff" /><rect x="678.0" y="138.0" width="145.0" height="68.0" rx="34.0" stroke="#231f20" stroke-width="6.00" fill="#fff"/><path d="M710.0,139.0 L775.0,139.0 A34,34 0 0 1 775.0,205.0 L710.0,205.0 Z" fill="#231f20" stroke="none"/><path d="M794.9,138.5 A34.0,34.0 0 0 1 794.9,205.5" stroke="#231f20" stroke-width="4.50" fill="none" /><ellipse cx="705.0" cy="172.0" rx="24.0" ry="26.0" stroke="#231f20" stroke-width="7.50" fill="#fff" /><rect x="960.5" y="219.1" width="145.0" height="68.0" rx="34.0" stroke="#231f20" stroke-width="6.00" fill="#fff"/><path d="M992.5,220.1 L1057.5,220.1 A34,34 0 0 1 1057.5,286.1 L992.5,286.1 Z" fill="#231f20" stroke="none"/><path d="M1077.4,219.6 A34.0,34.0 0 0 1 1077.4,286.5" stroke="#231f20" stroke-width="4.50" fill="none" /><ellipse cx="987.5" cy="253.1" rx="24.0" ry="26.0" stroke="#231f20" stroke-width="7.50" fill="#fff" /><rect x="1167.3" y="440.5" width="145.0" height="68.0" rx="34.0" stroke="#231f20" stroke-width="6.00" fill="#fff"/><path d="M1199.3,441.5 L1264.3,441.5 A34,34 0 0 1 1264.3,507.5 L1199.3,507.5 Z" fill="#231f20" stroke="none"/><path d="M1284.2,441.0 A34.0,34.0 0 0 1 1284.2,508.0" stroke="#231f20" stroke-width="4.50" fill="none" /><ellipse cx="1194.3" cy="474.5" rx="24.0" ry="26.0" stroke="#231f20" stroke-width="7.50" fill="#fff" /><rect x="1243.0" y="743.0" width="145.0" height="68.0" rx="34.0" stroke="#231f20" stroke-width="6.00" fill="#fff"/><path d="M1275.0,744.0 L1340.0,744.0 A34,34 0 0 1 1340.0,810.0 L1275.0,810.0 Z" fill="#231f20" stroke="none"/><path d="M1359.9,743.5 A34.0,34.0 0 0 1 1359.9,810.5" stroke="#231f20" stroke-width="4.50" fill="none" /><ellipse cx="1270.0" cy="777.0" rx="24.0" ry="26.0" stroke="#231f20" stroke-width="7.50" fill="#fff" /><rect x="1167.3" y="1045.5" width="145.0" height="68.0" rx="34.0" stroke="#231f20" stroke-width="6.00" fill="#fff"/><path d="M1199.3,1046.5 L1264.3,1046.5 A34,34 0 0 1 1264.3,1112.5 L1199.3,1112.5 Z" fill="#231f20" stroke="none"/><path d="M1284.2,1046.0 A34.0,34.0 0 0 1 1284.2,1113.0" stroke="#231f20" stroke-width="4.50" fill="none" /><ellipse cx="1194.3" cy="1079.5" rx="24.0" ry="26.0" stroke="#231f20" stroke-width="7.50" fill="#fff" /><rect x="960.5" y="1266.9" width="145.0" height="68.0" rx="34.0" stroke="#231f20" stroke-width="6.00" fill="#fff"/><path d="M992.5,1267.9 L1057.5,1267.9 A34,34 0 0 1 1057.5,1333.9 L992.5,1333.9 Z" fill="#231f20" stroke="none"/><path d="M1077.4,1267.5 A34.0,34.0 0 0 1 1077.4,1334.4" stroke="#231f20" stroke-width="4.50" fill="none" /><ellipse cx="987.5" cy="1300.9" rx="24.0" ry="26.0" stroke="#231f20" stroke-width="7.50" fill="#fff" /><rect x="678.0" y="1348.0" width="145.0" height="68.0" rx="34.0" stroke="#231f20" stroke-width="6.00" fill="#fff"/><path d="M710.0,1349.0 L775.0,1349.0 A34,34 0 0 1 775.0,1415.0 L710.0,1415.0 Z" fill="#231f20" stroke="none"/><path d="M794.9,1348.5 A34.0,34.0 0 0 1 794.9,1415.5" stroke="#231f20" stroke-width="4.50" fill="none" /><ellipse cx="705.0" cy="1382.0" rx="24.0" ry="26.0" stroke="#231f20" stroke-width="7.50" fill="#fff" /><rect x="395.5" y="1266.9" width="145.0" height="68.0" rx="34.0" stroke="#231f20" stroke-width="6.00" fill="#fff"/><path d="M427.5,1267.9 L492.5,1267.9 A34,34 0 0 1 492.5,1333.9 L427.5,1333.9 Z" fill="#231f20" stroke="none"/><path d="M512.4,1267.5 A34.0,34.0 0 0 1 512.4,1334.4" stroke="#231f20" stroke-width="4.50" fill="none" /><ellipse cx="422.5" cy="1300.9" rx="24.0" ry="26.0" stroke="#231f20" stroke-width="7.50" fill="#fff" /><ellipse cx="755.0" cy="777.0" rx="478.0" ry="520.0" stroke="#231f20" stroke-width="10.50" fill="#fff" /><path d="M550.0,259.0 L755.0,257.0 L755.0,1297.0 L550.0,1295.0Z" stroke="none" stroke-width="0.00" fill="#fff" /><path d="M550.0,259.0 L760.0,257.0" stroke="#231f20" stroke-width="6.00"/><path d="M550.0,1295.0 L760.0,1297.0" stroke="#231f20" stroke-width="6.00"/><ellipse cx="550.0" cy="777.0" rx="480.0" ry="518.0" stroke="#231f20" stroke-width="7.50" fill="#fff" /><ellipse cx="594.0" cy="302.0" rx="19.0" ry="20.0" stroke="#231f20" stroke-width="6.00" fill="none" /><ellipse cx="685.0" cy="322.8" rx="19.0" ry="20.0" stroke="#231f20" stroke-width="6.00" fill="none" /><ellipse cx="770.0" cy="363.5" rx="19.0" ry="20.0" stroke="#231f20" stroke-width="6.00" fill="none" /><ellipse cx="845.3" cy="422.3" rx="19.0" ry="20.0" stroke="#231f20" stroke-width="6.00" fill="none" /><ellipse cx="907.5" cy="496.7" rx="19.0" ry="20.0" stroke="#231f20" stroke-width="6.00" fill="none" /><ellipse cx="954.0" cy="583.3" rx="19.0" ry="20.0" stroke="#231f20" stroke-width="6.00" fill="none" /><ellipse cx="982.8" cy="678.5" rx="19.0" ry="20.0" stroke="#231f20" stroke-width="6.00" fill="none" /><ellipse cx="992.5" cy="778.0" rx="19.0" ry="20.0" stroke="#231f20" stroke-width="6.00" fill="none" /><ellipse cx="982.8" cy="877.5" rx="19.0" ry="20.0" stroke="#231f20" stroke-width="6.00" fill="none" /><ellipse cx="954.0" cy="972.7" rx="19.0" ry="20.0" stroke="#231f20" stroke-width="6.00" fill="none" /><ellipse cx="907.5" cy="1059.3" rx="19.0" ry="20.0" stroke="#231f20" stroke-width="6.00" fill="none" /><ellipse cx="845.3" cy="1133.7" rx="19.0" ry="20.0" stroke="#231f20" stroke-width="6.00" fill="none" /><ellipse cx="770.0" cy="1192.5" rx="19.0" ry="20.0" stroke="#231f20" stroke-width="6.00" fill="none" /><ellipse cx="685.0" cy="1233.2" rx="19.0" ry="20.0" stroke="#231f20" stroke-width="6.00" fill="none" /><ellipse cx="594.0" cy="1254.0" rx="19.0" ry="20.0" stroke="#231f20" stroke-width="6.00" fill="none" /><ellipse cx="501.0" cy="1254.0" rx="19.0" ry="20.0" stroke="#231f20" stroke-width="6.00" fill="none" /><ellipse cx="410.0" cy="1233.2" rx="19.0" ry="20.0" stroke="#231f20" stroke-width="6.00" fill="none" /><ellipse cx="325.0" cy="1192.5" rx="19.0" ry="20.0" stroke="#231f20" stroke-width="6.00" fill="none" /><ellipse cx="249.7" cy="1133.7" rx="19.0" ry="20.0" stroke="#231f20" stroke-width="6.00" fill="none" /><ellipse cx="187.5" cy="1059.3" rx="19.0" ry="20.0" stroke="#231f20" stroke-width="6.00" fill="none" /><ellipse cx="141.0" cy="972.7" rx="19.0" ry="20.0" stroke="#231f20" stroke-width="6.00" fill="none" /><ellipse cx="112.2" cy="877.5" rx="19.0" ry="20.0" stroke="#231f20" stroke-width="6.00" fill="none" /><ellipse cx="102.5" cy="778.0" rx="19.0" ry="20.0" stroke="#231f20" stroke-width="6.00" fill="none" /><ellipse cx="112.2" cy="678.5" rx="19.0" ry="20.0" stroke="#231f20" stroke-width="6.00" fill="none" /><ellipse cx="141.0" cy="583.3" rx="19.0" ry="20.0" stroke="#231f20" stroke-width="6.00" fill="none" /><ellipse cx="187.5" cy="496.7" rx="19.0" ry="20.0" stroke="#231f20" stroke-width="6.00" fill="none" /><ellipse cx="249.7" cy="422.3" rx="19.0" ry="20.0" stroke="#231f20" stroke-width="6.00" fill="none" /><ellipse cx="325.0" cy="363.5" rx="19.0" ry="20.0" stroke="#231f20" stroke-width="6.00" fill="none" /><ellipse cx="410.0" cy="322.8" rx="19.0" ry="20.0" stroke="#231f20" stroke-width="6.00" fill="none" /><ellipse cx="501.0" cy="302.0" rx="19.0" ry="20.0" stroke="#231f20" stroke-width="6.00" fill="none" /><ellipse cx="545.0" cy="777.0" rx="403.0" ry="437.0" stroke="#231f20" stroke-width="12.00" fill="#fff" /><ellipse cx="547.0" cy="777.0" rx="390.0" ry="423.0" stroke="#231f20" stroke-width="4.50" fill="none" /><ellipse cx="560.0" cy="777.0" rx="372.0" ry="410.0" stroke="#231f20" stroke-width="4.50" fill="none" /><path d="M925.0,777.0 L955.0,777.0 M923.2,816.4 L953.5,810.8 M918.0,855.4 L948.9,844.3 M909.3,893.7 L941.4,877.1 M897.2,930.8 L931.0,909.0 M881.9,966.5 L917.8,939.6 M863.5,1000.3 L901.9,968.7 M842.1,1032.0 L883.5,995.9 M818.1,1061.3 L862.7,1021.0 M791.6,1087.8 L839.8,1043.7 M762.8,1111.3 L815.0,1063.9 M732.1,1131.5 L788.5,1081.3 M699.7,1148.4 L760.5,1095.7 M666.0,1161.7 L731.4,1107.1 M631.2,1171.3 L701.5,1115.4 M595.8,1177.1 L670.9,1120.3 M560.0,1179.0 L640.0,1122.0 M524.2,1177.1 L609.1,1120.3 M488.8,1171.3 L578.5,1115.4 M454.0,1161.7 L548.6,1107.1 M420.3,1148.4 L519.5,1095.7 M387.9,1131.5 L491.5,1081.3 M357.2,1111.3 L465.0,1063.9 M328.4,1087.8 L440.2,1043.7 M301.9,1061.3 L417.3,1021.0 M277.9,1032.0 L396.5,995.9 M256.5,1000.3 L378.1,968.7 M238.1,966.5 L362.2,939.6 M222.8,930.8 L349.0,909.0 M210.7,893.7 L338.6,877.1 M202.0,855.4 L331.1,844.3 M196.8,816.4 L326.5,810.8 M195.0,777.0 L325.0,777.0 M196.8,737.6 L326.5,743.2 M202.0,698.6 L331.1,709.7 M210.7,660.3 L338.6,676.9 M222.8,623.2 L349.0,645.0 M238.1,587.5 L362.2,614.4 M256.5,553.7 L378.1,585.3 M277.9,522.0 L396.5,558.1 M301.9,492.7 L417.3,533.0 M328.4,466.2 L440.2,510.3 M357.2,442.7 L465.0,490.1 M387.9,422.5 L491.5,472.7 M420.3,405.6 L519.5,458.3 M454.0,392.3 L548.6,446.9 M488.8,382.7 L578.5,438.6 M524.2,376.9 L609.1,433.7 M560.0,375.0 L640.0,432.0 M595.8,376.9 L670.9,433.7 M631.2,382.7 L701.5,438.6 M666.0,392.3 L731.4,446.9 M699.7,405.6 L760.5,458.3 M732.1,422.5 L788.5,472.7 M762.8,442.7 L815.0,490.1 M791.6,466.2 L839.8,510.3 M818.1,492.7 L862.7,533.0 M842.1,522.0 L883.5,558.1 M863.5,553.7 L901.9,585.3 M881.9,587.5 L917.8,614.4 M897.2,623.2 L931.0,645.0 M909.3,660.3 L941.4,676.9 M918.0,698.6 L948.9,709.7 M923.2,737.6 L953.5,743.2 " stroke="#231f20" stroke-width="13.50" fill="none" /><ellipse cx="607.0" cy="777.0" rx="282.0" ry="347.0" stroke="#231f20" stroke-width="7.50" fill="#fff" /><ellipse cx="612.0" cy="777.0" rx="262.0" ry="322.0" stroke="#231f20" stroke-width="4.50" fill="#fff" /><ellipse cx="618.0" cy="777.0" rx="238.0" ry="293.0" stroke="#231f20" stroke-width="4.50" fill="#fff" /><ellipse cx="625.0" cy="777.0" rx="212.0" ry="262.0" stroke="#231f20" stroke-width="4.50" fill="#fff" /><ellipse cx="632.0" cy="777.0" rx="190.0" ry="236.0" stroke="#231f20" stroke-width="4.50" fill="#fff" /><ellipse cx="745.0" cy="505.0" rx="30.0" ry="38.0" stroke="#231f20" stroke-width="6.00" fill="#fff" /><path d="M730.0,470.0 L730.0,540.0" stroke="#231f20" stroke-width="4.50"/><path d="M760.0,470.0 L760.0,540.0" stroke="#231f20" stroke-width="4.50"/><ellipse cx="430.0" cy="860.0" rx="32.0" ry="36.0" stroke="#231f20" stroke-width="6.00" fill="#fff" /><ellipse cx="415.0" cy="858.0" rx="22.0" ry="30.0" stroke="#231f20" stroke-width="4.50" fill="none" /><path d="M848.8,789.2 L888.3,797.9 L883.2,832.3 L843.0,828.1 L834.1,855.0 L868.0,877.7 L851.4,907.9 L815.6,889.0 L798.2,910.6 L821.8,944.3 L796.1,966.1 L769.4,935.2 L745.9,948.6 L756.1,988.7 L724.8,999.2 L710.8,960.4 L684.3,963.8 L679.7,1005.0 L646.9,1002.7 L647.6,961.3 L621.7,954.2 L603.0,990.8 L573.1,976.1 L588.3,937.7 L566.6,921.1 L536.2,948.2 L513.4,923.1 L541.1,892.8 L526.4,868.9 L488.5,882.9 L475.7,850.7 L512.2,832.6 L506.6,804.7 L466.2,803.6 L465.3,768.8 L505.5,765.4 L509.7,737.2 L472.4,721.2 L483.4,688.3 L522.1,700.1 L535.5,675.4 L506.2,646.7 L527.7,620.3 L559.5,645.6 L580.3,627.8 L563.1,590.2 L592.1,573.8 L612.8,609.3 L638.3,600.7 L635.4,559.4 L668.0,555.2 L674.8,596.0 L701.4,597.9 L713.3,558.3 L745.1,566.9 L737.1,607.6 L761.3,619.6 L786.3,587.2 L813.1,607.4 L791.2,642.4 L809.7,663.0 L844.5,642.1 L862.6,671.3 L830.0,695.9 L840.3,722.2 L880.1,715.7 L887.1,749.8 L848.0,760.7Z" stroke="#231f20" stroke-width="9.00" fill="#fff" /><path d="M832.0,775.0 L756.0,911.8 L604.0,911.8 L528.0,775.0 L604.0,638.2 L756.0,638.2Z" stroke="#231f20" stroke-width="9.00" fill="#fff" /><path d="M812.0,775.0 L742.0,901.4 L602.0,901.4 L532.0,775.0 L602.0,648.6 L742.0,648.6Z" stroke="#231f20" stroke-width="4.50" fill="none" /><path d="M832.0,775.0 L812.0,775.0" stroke="#231f20" stroke-width="4.50"/><path d="M756.0,911.8 L742.0,901.4" stroke="#231f20" stroke-width="4.50"/><path d="M756.0,638.2 L742.0,648.6" stroke="#231f20" stroke-width="4.50"/><path d="M770.0,670.0 L830.0,760.0" stroke="#231f20" stroke-width="4.50"/><path d="M770.0,890.0 L830.0,800.0" stroke="#231f20" stroke-width="4.50"/><ellipse cx="645.0" cy="780.0" rx="122.0" ry="132.0" stroke="#231f20" stroke-width="10.50" fill="#fff" /><ellipse cx="640.0" cy="780.0" rx="95.0" ry="103.0" stroke="#231f20" stroke-width="7.50" fill="#fff" /><ellipse cx="678.0" cy="568.0" rx="11.0" ry="11.0" stroke="#231f20" stroke-width="7.50" fill="none" /><ellipse cx="795.0" cy="952.0" rx="14.0" ry="16.0" stroke="#231f20" stroke-width="7.50" fill="none" /></g><path d="M1012.0,676.0 L1048.4,772.5" stroke="#ed1c24" stroke-width="2.0"/><path d="M1055.0,790.0 L1037.4,768.8 L1048.4,772.5 L1054.2,762.5 Z" fill="#ed1c24" stroke="none"/><path d="M924.0,742.0 L1007.0,803.8" stroke="#ed1c24" stroke-width="2.0"/><path d="M1022.0,815.0 L995.8,806.7 L1007.0,803.8 L1006.5,792.3 Z" fill="#ed1c24" stroke="none"/>
<g transform="translate(-1,428)"><g transform="translate(920,680) scale(0.19837)"><path d="M1840,470 C1905,390 1900,235 2012,210" stroke="#231f20" stroke-width="6.00" fill="none" /><path d="M1780.0,1470.0 L2012.0,1556.0" stroke="#231f20" stroke-width="6.00"/><path d="M1592.0,469.0 L1884.0,469.0 L1884.0,497.0 L1592.0,497.0Z" stroke="#231f20" stroke-width="6.00" fill="#fff" /><path d="M1608.0,497.0 L1608.0,518.0 L1860.0,518.0" stroke="#231f20" stroke-width="6.00" fill="none" /><path d="M1844.0,518.0 L1844.0,599.0 L1860.0,599.0 L1860.0,518.0" stroke="#231f20" stroke-width="4.50" fill="none" /><path d="M1640.0,599.0 L1892.0,599.0" stroke="#231f20" stroke-width="6.00"/><rect x="1693.0" y="603.0" width="199.0" height="739.0" rx="40.0" stroke="#231f20" stroke-width="6.00" fill="#fff"/><path d="M1770,1342 L1770,640 Q1770,603 1735,603" stroke="#231f20" stroke-width="4.50" fill="none" /><path d="M1884.0,640.0 L1884.0,1300.0" stroke="#231f20" stroke-width="4.50"/><path d="M1700.0,1269.0 L1884.0,1269.0" stroke="#231f20" stroke-width="4.50"/><rect x="1900.0" y="601.0" width="187.0" height="766.0" rx="34.0" stroke="#231f20" stroke-width="7.50" fill="#fff"/><rect x="1905.0" y="606.0" width="177.0" height="756.0" rx="30.0" stroke="#231f20" stroke-width="3.75" fill="none"/><path d="M1965,1362 L1965,640 Q1965,606 1935,606" stroke="#231f20" stroke-width="4.50" fill="none" /><path d="M1908.0,672.0 L2082.0,672.0" stroke="#231f20" stroke-width="4.50"/><path d="M1908.0,1306.0 L2082.0,1306.0" stroke="#231f20" stroke-width="4.50"/><path d="M1274,1367 L1776,1367 Q1820,1380 1820,1440 L1820,1472 L1126,1472 L1126,1410 Q1126,1394 1145,1392 Z" stroke="#231f20" stroke-width="6.00" fill="#fff" /><path d="M1776.0,1367.0 L1868.0,1380.0 L1868.0,1474.0 L1126.0,1474.0" stroke="#231f20" stroke-width="6.00" fill="none" /><path d="M1126.0,1457.0 L1868.0,1457.0" stroke="#231f20" stroke-width="4.50"/><path d="M1153,1472 L1153,1420 Q1150,1398 1140,1394" stroke="#231f20" stroke-width="4.50" fill="none" /><path d="M1540.0,1162.0 L1854.0,1341.0 L1845.0,1372.0 L1786.0,1372.0 L1491.0,1222.0Z" stroke="none" stroke-width="0.00" fill="#fff" /><path d="M1540.0,1162.0 L1854.0,1341.0" stroke="#231f20" stroke-width="6.00"/><path d="M1530.0,1179.0 L1839.0,1351.0" stroke="#231f20" stroke-width="4.50"/><path d="M1491.0,1222.0 L1786.0,1372.0" stroke="#231f20" stroke-width="6.00"/><path d="M1854,1341 Q1850,1385 1815,1395" stroke="#231f20" stroke-width="4.50" fill="none" /><path d="M1805,1336 Q1790,1360 1786,1372" stroke="#231f20" stroke-width="4.50" fill="none" /><ellipse cx="904.0" cy="777.0" rx="758.0" ry="642.0" stroke="#231f20" stroke-width="6.00" fill="#fff" /><ellipse cx="875.2" cy="777.0" rx="724.8" ry="650.9" stroke="#231f20" stroke-width="6.00" fill="#fff" /><ellipse cx="841.2" cy="777.0" rx="685.8" ry="661.3" stroke="#231f20" stroke-width="6.00" fill="#fff" /><ellipse cx="817.0" cy="777.0" rx="658.0" ry="668.7" stroke="#231f20" stroke-width="6.00" fill="#fff" /><ellipse cx="798.8" cy="777.0" rx="637.2" ry="674.3" stroke="#231f20" stroke-width="6.00" fill="#fff" /><ellipse cx="790.0" cy="777.0" rx="627.0" ry="677.0" stroke="#231f20" stroke-width="7.50" fill="#fff" /><path d="M974.8,133.1 A627.0,677.0 0 0 1 974.8,1420.9" stroke="#231f20" stroke-width="4.50" fill="none" /><ellipse cx="800.0" cy="777.0" rx="480.0" ry="545.0" stroke="#231f20" stroke-width="4.50" fill="none" /><rect x="395.5" y="219.1" width="145.0" height="68.0" rx="34.0" stroke="#231f20" stroke-width="6.00" fill="#fff"/><path d="M427.5,220.1 L492.5,220.1 A34,34 0 0 1 492.5,286.1 L427.5,286.1 Z" fill="#231f20" stroke="none"/><path d="M512.4,219.6 A34.0,34.0 0 0 1 512.4,286.5" stroke="#231f20" stroke-width="4.50" fill="none" /><ellipse cx="422.5" cy="253.1" rx="24.0" ry="26.0" stroke="#231f20" stroke-width="7.50" fill="#fff" /><rect x="678.0" y="138.0" width="145.0" height="68.0" rx="34.0" stroke="#231f20" stroke-width="6.00" fill="#fff"/><path d="M710.0,139.0 L775.0,139.0 A34,34 0 0 1 775.0,205.0 L710.0,205.0 Z" fill="#231f20" stroke="none"/><path d="M794.9,138.5 A34.0,34.0 0 0 1 794.9,205.5" stroke="#231f20" stroke-width="4.50" fill="none" /><ellipse cx="705.0" cy="172.0" rx="24.0" ry="26.0" stroke="#231f20" stroke-width="7.50" fill="#fff" /><rect x="960.5" y="219.1" width="145.0" height="68.0" rx="34.0" stroke="#231f20" stroke-width="6.00" fill="#fff"/><path d="M992.5,220.1 L1057.5,220.1 A34,34 0 0 1 1057.5,286.1 L992.5,286.1 Z" fill="#231f20" stroke="none"/><path d="M1077.4,219.6 A34.0,34.0 0 0 1 1077.4,286.5" stroke="#231f20" stroke-width="4.50" fill="none" /><ellipse cx="987.5" cy="253.1" rx="24.0" ry="26.0" stroke="#231f20" stroke-width="7.50" fill="#fff" /><rect x="1167.3" y="440.5" width="145.0" height="68.0" rx="34.0" stroke="#231f20" stroke-width="6.00" fill="#fff"/><path d="M1199.3,441.5 L1264.3,441.5 A34,34 0 0 1 1264.3,507.5 L1199.3,507.5 Z" fill="#231f20" stroke="none"/><path d="M1284.2,441.0 A34.0,34.0 0 0 1 1284.2,508.0" stroke="#231f20" stroke-width="4.50" fill="none" /><ellipse cx="1194.3" cy="474.5" rx="24.0" ry="26.0" stroke="#231f20" stroke-width="7.50" fill="#fff" /><rect x="1243.0" y="743.0" width="145.0" height="68.0" rx="34.0" stroke="#231f20" stroke-width="6.00" fill="#fff"/><path d="M1275.0,744.0 L1340.0,744.0 A34,34 0 0 1 1340.0,810.0 L1275.0,810.0 Z" fill="#231f20" stroke="none"/><path d="M1359.9,743.5 A34.0,34.0 0 0 1 1359.9,810.5" stroke="#231f20" stroke-width="4.50" fill="none" /><ellipse cx="1270.0" cy="777.0" rx="24.0" ry="26.0" stroke="#231f20" stroke-width="7.50" fill="#fff" /><rect x="1167.3" y="1045.5" width="145.0" height="68.0" rx="34.0" stroke="#231f20" stroke-width="6.00" fill="#fff"/><path d="M1199.3,1046.5 L1264.3,1046.5 A34,34 0 0 1 1264.3,1112.5 L1199.3,1112.5 Z" fill="#231f20" stroke="none"/><path d="M1284.2,1046.0 A34.0,34.0 0 0 1 1284.2,1113.0" stroke="#231f20" stroke-width="4.50" fill="none" /><ellipse cx="1194.3" cy="1079.5" rx="24.0" ry="26.0" stroke="#231f20" stroke-width="7.50" fill="#fff" /><rect x="960.5" y="1266.9" width="145.0" height="68.0" rx="34.0" stroke="#231f20" stroke-width="6.00" fill="#fff"/><path d="M992.5,1267.9 L1057.5,1267.9 A34,34 0 0 1 1057.5,1333.9 L992.5,1333.9 Z" fill="#231f20" stroke="none"/><path d="M1077.4,1267.5 A34.0,34.0 0 0 1 1077.4,1334.4" stroke="#231f20" stroke-width="4.50" fill="none" /><ellipse cx="987.5" cy="1300.9" rx="24.0" ry="26.0" stroke="#231f20" stroke-width="7.50" fill="#fff" /><rect x="678.0" y="1348.0" width="145.0" height="68.0" rx="34.0" stroke="#231f20" stroke-width="6.00" fill="#fff"/><path d="M710.0,1349.0 L775.0,1349.0 A34,34 0 0 1 775.0,1415.0 L710.0,1415.0 Z" fill="#231f20" stroke="none"/><path d="M794.9,1348.5 A34.0,34.0 0 0 1 794.9,1415.5" stroke="#231f20" stroke-width="4.50" fill="none" /><ellipse cx="705.0" cy="1382.0" rx="24.0" ry="26.0" stroke="#231f20" stroke-width="7.50" fill="#fff" /><rect x="395.5" y="1266.9" width="145.0" height="68.0" rx="34.0" stroke="#231f20" stroke-width="6.00" fill="#fff"/><path d="M427.5,1267.9 L492.5,1267.9 A34,34 0 0 1 492.5,1333.9 L427.5,1333.9 Z" fill="#231f20" stroke="none"/><path d="M512.4,1267.5 A34.0,34.0 0 0 1 512.4,1334.4" stroke="#231f20" stroke-width="4.50" fill="none" /><ellipse cx="422.5" cy="1300.9" rx="24.0" ry="26.0" stroke="#231f20" stroke-width="7.50" fill="#fff" /><ellipse cx="755.0" cy="777.0" rx="478.0" ry="520.0" stroke="#231f20" stroke-width="10.50" fill="#fff" /><path d="M550.0,259.0 L755.0,257.0 L755.0,1297.0 L550.0,1295.0Z" stroke="none" stroke-width="0.00" fill="#fff" /><path d="M550.0,259.0 L760.0,257.0" stroke="#231f20" stroke-width="6.00"/><path d="M550.0,1295.0 L760.0,1297.0" stroke="#231f20" stroke-width="6.00"/><ellipse cx="550.0" cy="777.0" rx="480.0" ry="518.0" stroke="#231f20" stroke-width="7.50" fill="#fff" /><ellipse cx="594.0" cy="302.0" rx="19.0" ry="20.0" stroke="#231f20" stroke-width="6.00" fill="none" /><ellipse cx="685.0" cy="322.8" rx="19.0" ry="20.0" stroke="#231f20" stroke-width="6.00" fill="none" /><ellipse cx="770.0" cy="363.5" rx="19.0" ry="20.0" stroke="#231f20" stroke-width="6.00" fill="none" /><ellipse cx="845.3" cy="422.3" rx="19.0" ry="20.0" stroke="#231f20" stroke-width="6.00" fill="none" /><ellipse cx="907.5" cy="496.7" rx="19.0" ry="20.0" stroke="#231f20" stroke-width="6.00" fill="none" /><ellipse cx="954.0" cy="583.3" rx="19.0" ry="20.0" stroke="#231f20" stroke-width="6.00" fill="none" /><ellipse cx="982.8" cy="678.5" rx="19.0" ry="20.0" stroke="#231f20" stroke-width="6.00" fill="none" /><ellipse cx="992.5" cy="778.0" rx="19.0" ry="20.0" stroke="#231f20" stroke-width="6.00" fill="none" /><ellipse cx="982.8" cy="877.5" rx="19.0" ry="20.0" stroke="#231f20" stroke-width="6.00" fill="none" /><ellipse cx="954.0" cy="972.7" rx="19.0" ry="20.0" stroke="#231f20" stroke-width="6.00" fill="none" /><ellipse cx="907.5" cy="1059.3" rx="19.0" ry="20.0" stroke="#231f20" stroke-width="6.00" fill="none" /><ellipse cx="845.3" cy="1133.7" rx="19.0" ry="20.0" stroke="#231f20" stroke-width="6.00" fill="none" /><ellipse cx="770.0" cy="1192.5" rx="19.0" ry="20.0" stroke="#231f20" stroke-width="6.00" fill="none" /><ellipse cx="685.0" cy="1233.2" rx="19.0" ry="20.0" stroke="#231f20" stroke-width="6.00" fill="none" /><ellipse cx="594.0" cy="1254.0" rx="19.0" ry="20.0" stroke="#231f20" stroke-width="6.00" fill="none" /><ellipse cx="501.0" cy="1254.0" rx="19.0" ry="20.0" stroke="#231f20" stroke-width="6.00" fill="none" /><ellipse cx="410.0" cy="1233.2" rx="19.0" ry="20.0" stroke="#231f20" stroke-width="6.00" fill="none" /><ellipse cx="325.0" cy="1192.5" rx="19.0" ry="20.0" stroke="#231f20" stroke-width="6.00" fill="none" /><ellipse cx="249.7" cy="1133.7" rx="19.0" ry="20.0" stroke="#231f20" stroke-width="6.00" fill="none" /><ellipse cx="187.5" cy="1059.3" rx="19.0" ry="20.0" stroke="#231f20" stroke-width="6.00" fill="none" /><ellipse cx="141.0" cy="972.7" rx="19.0" ry="20.0" stroke="#231f20" stroke-width="6.00" fill="none" /><ellipse cx="112.2" cy="877.5" rx="19.0" ry="20.0" stroke="#231f20" stroke-width="6.00" fill="none" /><ellipse cx="102.5" cy="778.0" rx="19.0" ry="20.0" stroke="#231f20" stroke-width="6.00" fill="none" /><ellipse cx="112.2" cy="678.5" rx="19.0" ry="20.0" stroke="#231f20" stroke-width="6.00" fill="none" /><ellipse cx="141.0" cy="583.3" rx="19.0" ry="20.0" stroke="#231f20" stroke-width="6.00" fill="none" /><ellipse cx="187.5" cy="496.7" rx="19.0" ry="20.0" stroke="#231f20" stroke-width="6.00" fill="none" /><ellipse cx="249.7" cy="422.3" rx="19.0" ry="20.0" stroke="#231f20" stroke-width="6.00" fill="none" /><ellipse cx="325.0" cy="363.5" rx="19.0" ry="20.0" stroke="#231f20" stroke-width="6.00" fill="none" /><ellipse cx="410.0" cy="322.8" rx="19.0" ry="20.0" stroke="#231f20" stroke-width="6.00" fill="none" /><ellipse cx="501.0" cy="302.0" rx="19.0" ry="20.0" stroke="#231f20" stroke-width="6.00" fill="none" /><ellipse cx="545.0" cy="777.0" rx="403.0" ry="437.0" stroke="#231f20" stroke-width="12.00" fill="#fff" /><ellipse cx="547.0" cy="777.0" rx="390.0" ry="423.0" stroke="#231f20" stroke-width="4.50" fill="none" /><ellipse cx="560.0" cy="777.0" rx="372.0" ry="410.0" stroke="#231f20" stroke-width="4.50" fill="none" /><path d="M925.0,777.0 L955.0,777.0 M923.2,816.4 L953.5,810.8 M918.0,855.4 L948.9,844.3 M909.3,893.7 L941.4,877.1 M897.2,930.8 L931.0,909.0 M881.9,966.5 L917.8,939.6 M863.5,1000.3 L901.9,968.7 M842.1,1032.0 L883.5,995.9 M818.1,1061.3 L862.7,1021.0 M791.6,1087.8 L839.8,1043.7 M762.8,1111.3 L815.0,1063.9 M732.1,1131.5 L788.5,1081.3 M699.7,1148.4 L760.5,1095.7 M666.0,1161.7 L731.4,1107.1 M631.2,1171.3 L701.5,1115.4 M595.8,1177.1 L670.9,1120.3 M560.0,1179.0 L640.0,1122.0 M524.2,1177.1 L609.1,1120.3 M488.8,1171.3 L578.5,1115.4 M454.0,1161.7 L548.6,1107.1 M420.3,1148.4 L519.5,1095.7 M387.9,1131.5 L491.5,1081.3 M357.2,1111.3 L465.0,1063.9 M328.4,1087.8 L440.2,1043.7 M301.9,1061.3 L417.3,1021.0 M277.9,1032.0 L396.5,995.9 M256.5,1000.3 L378.1,968.7 M238.1,966.5 L362.2,939.6 M222.8,930.8 L349.0,909.0 M210.7,893.7 L338.6,877.1 M202.0,855.4 L331.1,844.3 M196.8,816.4 L326.5,810.8 M195.0,777.0 L325.0,777.0 M196.8,737.6 L326.5,743.2 M202.0,698.6 L331.1,709.7 M210.7,660.3 L338.6,676.9 M222.8,623.2 L349.0,645.0 M238.1,587.5 L362.2,614.4 M256.5,553.7 L378.1,585.3 M277.9,522.0 L396.5,558.1 M301.9,492.7 L417.3,533.0 M328.4,466.2 L440.2,510.3 M357.2,442.7 L465.0,490.1 M387.9,422.5 L491.5,472.7 M420.3,405.6 L519.5,458.3 M454.0,392.3 L548.6,446.9 M488.8,382.7 L578.5,438.6 M524.2,376.9 L609.1,433.7 M560.0,375.0 L640.0,432.0 M595.8,376.9 L670.9,433.7 M631.2,382.7 L701.5,438.6 M666.0,392.3 L731.4,446.9 M699.7,405.6 L760.5,458.3 M732.1,422.5 L788.5,472.7 M762.8,442.7 L815.0,490.1 M791.6,466.2 L839.8,510.3 M818.1,492.7 L862.7,533.0 M842.1,522.0 L883.5,558.1 M863.5,553.7 L901.9,585.3 M881.9,587.5 L917.8,614.4 M897.2,623.2 L931.0,645.0 M909.3,660.3 L941.4,676.9 M918.0,698.6 L948.9,709.7 M923.2,737.6 L953.5,743.2 " stroke="#231f20" stroke-width="13.50" fill="none" /><ellipse cx="607.0" cy="777.0" rx="282.0" ry="347.0" stroke="#231f20" stroke-width="7.50" fill="#fff" /><ellipse cx="612.0" cy="777.0" rx="262.0" ry="322.0" stroke="#231f20" stroke-width="4.50" fill="#fff" /><ellipse cx="618.0" cy="777.0" rx="238.0" ry="293.0" stroke="#231f20" stroke-width="4.50" fill="#fff" /><ellipse cx="625.0" cy="777.0" rx="212.0" ry="262.0" stroke="#231f20" stroke-width="4.50" fill="#fff" /><ellipse cx="632.0" cy="777.0" rx="190.0" ry="236.0" stroke="#231f20" stroke-width="4.50" fill="#fff" /><ellipse cx="745.0" cy="505.0" rx="30.0" ry="38.0" stroke="#231f20" stroke-width="6.00" fill="#fff" /><path d="M730.0,470.0 L730.0,540.0" stroke="#231f20" stroke-width="4.50"/><path d="M760.0,470.0 L760.0,540.0" stroke="#231f20" stroke-width="4.50"/><ellipse cx="430.0" cy="860.0" rx="32.0" ry="36.0" stroke="#231f20" stroke-width="6.00" fill="#fff" /><ellipse cx="415.0" cy="858.0" rx="22.0" ry="30.0" stroke="#231f20" stroke-width="4.50" fill="none" /><path d="M848.8,789.2 L888.3,797.9 L883.2,832.3 L843.0,828.1 L834.1,855.0 L868.0,877.7 L851.4,907.9 L815.6,889.0 L798.2,910.6 L821.8,944.3 L796.1,966.1 L769.4,935.2 L745.9,948.6 L756.1,988.7 L724.8,999.2 L710.8,960.4 L684.3,963.8 L679.7,1005.0 L646.9,1002.7 L647.6,961.3 L621.7,954.2 L603.0,990.8 L573.1,976.1 L588.3,937.7 L566.6,921.1 L536.2,948.2 L513.4,923.1 L541.1,892.8 L526.4,868.9 L488.5,882.9 L475.7,850.7 L512.2,832.6 L506.6,804.7 L466.2,803.6 L465.3,768.8 L505.5,765.4 L509.7,737.2 L472.4,721.2 L483.4,688.3 L522.1,700.1 L535.5,675.4 L506.2,646.7 L527.7,620.3 L559.5,645.6 L580.3,627.8 L563.1,590.2 L592.1,573.8 L612.8,609.3 L638.3,600.7 L635.4,559.4 L668.0,555.2 L674.8,596.0 L701.4,597.9 L713.3,558.3 L745.1,566.9 L737.1,607.6 L761.3,619.6 L786.3,587.2 L813.1,607.4 L791.2,642.4 L809.7,663.0 L844.5,642.1 L862.6,671.3 L830.0,695.9 L840.3,722.2 L880.1,715.7 L887.1,749.8 L848.0,760.7Z" stroke="#231f20" stroke-width="9.00" fill="#fff" /><ellipse cx="678.0" cy="568.0" rx="11.0" ry="11.0" stroke="#231f20" stroke-width="7.50" fill="none" /><ellipse cx="795.0" cy="952.0" rx="14.0" ry="16.0" stroke="#231f20" stroke-width="7.50" fill="none" /><path d="M830.0,778.0 L789.0,884.1 L690.0,928.0 L591.0,884.1 L550.0,778.0 L591.0,671.9 L690.0,628.0 L789.0,671.9Z" stroke="#231f20" stroke-width="7.50" fill="#fff" /><path d="M775.0,690.0 L775.0,870.0" stroke="#231f20" stroke-width="4.50"/><path d="M800.0,720.0 L800.0,840.0" stroke="#231f20" stroke-width="4.50"/><path d="M569.2,655.0 L717.0,645.2 M578.0,690.0 L729.2,683.0 M586.8,725.0 L741.5,720.8 M595.5,760.0 L753.7,758.6 M595.8,795.0 L754.0,796.4 M587.0,830.0 L741.8,834.2 M578.2,865.0 L729.5,872.0 M569.5,900.0 L717.3,909.8 " stroke="#231f20" stroke-width="13.50" fill="none" /><path d="M623.6,787.0 L647.0,793.7 L642.4,815.0 L618.6,809.7 L611.7,824.9 L630.1,842.0 L617.3,859.0 L598.0,843.1 L585.6,853.6 L595.3,877.7 L576.9,887.0 L565.9,863.6 L550.4,867.3 L549.5,893.5 L529.2,893.4 L528.6,867.2 L513.2,863.3 L501.9,886.6 L483.7,877.0 L493.6,853.0 L481.3,842.4 L461.8,858.1 L449.3,840.9 L467.8,824.1 L461.1,808.8 L437.2,813.7 L432.8,792.4 L456.3,786.0 L456.4,769.0 L433.0,762.3 L437.6,741.0 L461.4,746.3 L468.3,731.1 L449.9,714.0 L462.7,697.0 L482.0,712.9 L494.4,702.4 L484.7,678.3 L503.1,669.0 L514.1,692.4 L529.6,688.7 L530.5,662.5 L550.8,662.6 L551.4,688.8 L566.8,692.7 L578.1,669.4 L596.3,679.0 L586.4,703.0 L598.7,713.6 L618.2,697.9 L630.7,715.1 L612.2,731.9 L618.9,747.2 L642.8,742.3 L647.2,763.6 L623.7,770.0Z" stroke="#231f20" stroke-width="9.00" fill="#fff" /><ellipse cx="528.0" cy="776.0" rx="66.0" ry="72.0" stroke="#231f20" stroke-width="21.00" fill="#fff" /><ellipse cx="522.0" cy="776.0" rx="44.0" ry="48.0" stroke="#231f20" stroke-width="6.00" fill="#fff" /></g></g><path d="M927.0,1159.0 L1003.5,1232.1" stroke="#ed1c24" stroke-width="2.0"/><path d="M1017.0,1245.0 L992.0,1233.5 L1003.5,1232.1 L1004.4,1220.5 Z" fill="#ed1c24" stroke="none"/><path d="M1207.0,1133.0 L1077.0,1229.8" stroke="#ed1c24" stroke-width="2.0"/><path d="M1062.0,1241.0 L1077.5,1218.3 L1077.0,1229.8 L1088.2,1232.7 Z" fill="#ed1c24" stroke="none"/><path d="M891.0,1253.0 L993.3,1259.8" stroke="#ed1c24" stroke-width="2.0"/><path d="M1012.0,1261.0 L985.5,1268.3 L993.3,1259.8 L986.7,1250.3 Z" fill="#ed1c24" stroke="none"/><path d="M934.0,1368.0 L1011.8,1278.2" stroke="#ed1c24" stroke-width="2.0"/><path d="M1024.0,1264.0 L1013.8,1289.5 L1011.8,1278.2 L1000.2,1277.8 Z" fill="#ed1c24" stroke="none"/>
<g transform="translate(0,914.6)"><g transform="translate(920,680) scale(0.19837)"><path d="M1840,470 C1905,390 1900,235 2012,210" stroke="#231f20" stroke-width="6.00" fill="none" /><path d="M1780.0,1470.0 L2012.0,1556.0" stroke="#231f20" stroke-width="6.00"/><path d="M1592.0,469.0 L1884.0,469.0 L1884.0,497.0 L1592.0,497.0Z" stroke="#231f20" stroke-width="6.00" fill="#fff" /><path d="M1608.0,497.0 L1608.0,518.0 L1860.0,518.0" stroke="#231f20" stroke-width="6.00" fill="none" /><path d="M1844.0,518.0 L1844.0,599.0 L1860.0,599.0 L1860.0,518.0" stroke="#231f20" stroke-width="4.50" fill="none" /><path d="M1640.0,599.0 L1892.0,599.0" stroke="#231f20" stroke-width="6.00"/><rect x="1693.0" y="603.0" width="199.0" height="739.0" rx="40.0" stroke="#231f20" stroke-width="6.00" fill="#fff"/><path d="M1770,1342 L1770,640 Q1770,603 1735,603" stroke="#231f20" stroke-width="4.50" fill="none" /><path d="M1884.0,640.0 L1884.0,1300.0" stroke="#231f20" stroke-width="4.50"/><path d="M1700.0,1269.0 L1884.0,1269.0" stroke="#231f20" stroke-width="4.50"/><rect x="1900.0" y="601.0" width="187.0" height="766.0" rx="34.0" stroke="#231f20" stroke-width="7.50" fill="#fff"/><rect x="1905.0" y="606.0" width="177.0" height="756.0" rx="30.0" stroke="#231f20" stroke-width="3.75" fill="none"/><path d="M1965,1362 L1965,640 Q1965,606 1935,606" stroke="#231f20" stroke-width="4.50" fill="none" /><path d="M1908.0,672.0 L2082.0,672.0" stroke="#231f20" stroke-width="4.50"/><path d="M1908.0,1306.0 L2082.0,1306.0" stroke="#231f20" stroke-width="4.50"/><path d="M1274,1367 L1776,1367 Q1820,1380 1820,1440 L1820,1472 L1126,1472 L1126,1410 Q1126,1394 1145,1392 Z" stroke="#231f20" stroke-width="6.00" fill="#fff" /><path d="M1776.0,1367.0 L1868.0,1380.0 L1868.0,1474.0 L1126.0,1474.0" stroke="#231f20" stroke-width="6.00" fill="none" /><path d="M1126.0,1457.0 L1868.0,1457.0" stroke="#231f20" stroke-width="4.50"/><path d="M1153,1472 L1153,1420 Q1150,1398 1140,1394" stroke="#231f20" stroke-width="4.50" fill="none" /><path d="M1540.0,1162.0 L1854.0,1341.0 L1845.0,1372.0 L1786.0,1372.0 L1491.0,1222.0Z" stroke="none" stroke-width="0.00" fill="#fff" /><path d="M1540.0,1162.0 L1854.0,1341.0" stroke="#231f20" stroke-width="6.00"/><path d="M1530.0,1179.0 L1839.0,1351.0" stroke="#231f20" stroke-width="4.50"/><path d="M1491.0,1222.0 L1786.0,1372.0" stroke="#231f20" stroke-width="6.00"/><path d="M1854,1341 Q1850,1385 1815,1395" stroke="#231f20" stroke-width="4.50" fill="none" /><path d="M1805,1336 Q1790,1360 1786,1372" stroke="#231f20" stroke-width="4.50" fill="none" /></g></g><g transform="translate(5.4,911.4)"><g transform="translate(920,680) scale(0.19837)"><ellipse cx="904.0" cy="777.0" rx="758.0" ry="642.0" stroke="#231f20" stroke-width="6.00" fill="#fff" /><ellipse cx="875.2" cy="777.0" rx="724.8" ry="650.9" stroke="#231f20" stroke-width="6.00" fill="#fff" /><ellipse cx="841.2" cy="777.0" rx="685.8" ry="661.3" stroke="#231f20" stroke-width="6.00" fill="#fff" /><ellipse cx="817.0" cy="777.0" rx="658.0" ry="668.7" stroke="#231f20" stroke-width="6.00" fill="#fff" /><ellipse cx="798.8" cy="777.0" rx="637.2" ry="674.3" stroke="#231f20" stroke-width="6.00" fill="#fff" /><ellipse cx="790.0" cy="777.0" rx="627.0" ry="677.0" stroke="#231f20" stroke-width="7.50" fill="#fff" /><path d="M974.8,133.1 A627.0,677.0 0 0 1 974.8,1420.9" stroke="#231f20" stroke-width="4.50" fill="none" /><ellipse cx="800.0" cy="777.0" rx="480.0" ry="545.0" stroke="#231f20" stroke-width="4.50" fill="none" /><rect x="395.5" y="219.1" width="145.0" height="68.0" rx="34.0" stroke="#231f20" stroke-width="6.00" fill="#fff"/><path d="M427.5,220.1 L492.5,220.1 A34,34 0 0 1 492.5,286.1 L427.5,286.1 Z" fill="#231f20" stroke="none"/><path d="M512.4,219.6 A34.0,34.0 0 0 1 512.4,286.5" stroke="#231f20" stroke-width="4.50" fill="none" /><ellipse cx="422.5" cy="253.1" rx="24.0" ry="26.0" stroke="#231f20" stroke-width="7.50" fill="#fff" /><rect x="678.0" y="138.0" width="145.0" height="68.0" rx="34.0" stroke="#231f20" stroke-width="6.00" fill="#fff"/><path d="M710.0,139.0 L775.0,139.0 A34,34 0 0 1 775.0,205.0 L710.0,205.0 Z" fill="#231f20" stroke="none"/><path d="M794.9,138.5 A34.0,34.0 0 0 1 794.9,205.5" stroke="#231f20" stroke-width="4.50" fill="none" /><ellipse cx="705.0" cy="172.0" rx="24.0" ry="26.0" stroke="#231f20" stroke-width="7.50" fill="#fff" /><rect x="960.5" y="219.1" width="145.0" height="68.0" rx="34.0" stroke="#231f20" stroke-width="6.00" fill="#fff"/><path d="M992.5,220.1 L1057.5,220.1 A34,34 0 0 1 1057.5,286.1 L992.5,286.1 Z" fill="#231f20" stroke="none"/><path d="M1077.4,219.6 A34.0,34.0 0 0 1 1077.4,286.5" stroke="#231f20" stroke-width="4.50" fill="none" /><ellipse cx="987.5" cy="253.1" rx="24.0" ry="26.0" stroke="#231f20" stroke-width="7.50" fill="#fff" /><rect x="1167.3" y="440.5" width="145.0" height="68.0" rx="34.0" stroke="#231f20" stroke-width="6.00" fill="#fff"/><path d="M1199.3,441.5 L1264.3,441.5 A34,34 0 0 1 1264.3,507.5 L1199.3,507.5 Z" fill="#231f20" stroke="none"/><path d="M1284.2,441.0 A34.0,34.0 0 0 1 1284.2,508.0" stroke="#231f20" stroke-width="4.50" fill="none" /><ellipse cx="1194.3" cy="474.5" rx="24.0" ry="26.0" stroke="#231f20" stroke-width="7.50" fill="#fff" /><rect x="1243.0" y="743.0" width="145.0" height="68.0" rx="34.0" stroke="#231f20" stroke-width="6.00" fill="#fff"/><path d="M1275.0,744.0 L1340.0,744.0 A34,34 0 0 1 1340.0,810.0 L1275.0,810.0 Z" fill="#231f20" stroke="none"/><path d="M1359.9,743.5 A34.0,34.0 0 0 1 1359.9,810.5" stroke="#231f20" stroke-width="4.50" fill="none" /><ellipse cx="1270.0" cy="777.0" rx="24.0" ry="26.0" stroke="#231f20" stroke-width="7.50" fill="#fff" /><rect x="1167.3" y="1045.5" width="145.0" height="68.0" rx="34.0" stroke="#231f20" stroke-width="6.00" fill="#fff"/><path d="M1199.3,1046.5 L1264.3,1046.5 A34,34 0 0 1 1264.3,1112.5 L1199.3,1112.5 Z" fill="#231f20" stroke="none"/><path d="M1284.2,1046.0 A34.0,34.0 0 0 1 1284.2,1113.0" stroke="#231f20" stroke-width="4.50" fill="none" /><ellipse cx="1194.3" cy="1079.5" rx="24.0" ry="26.0" stroke="#231f20" stroke-width="7.50" fill="#fff" /><rect x="960.5" y="1266.9" width="145.0" height="68.0" rx="34.0" stroke="#231f20" stroke-width="6.00" fill="#fff"/><path d="M992.5,1267.9 L1057.5,1267.9 A34,34 0 0 1 1057.5,1333.9 L992.5,1333.9 Z" fill="#231f20" stroke="none"/><path d="M1077.4,1267.5 A34.0,34.0 0 0 1 1077.4,1334.4" stroke="#231f20" stroke-width="4.50" fill="none" /><ellipse cx="987.5" cy="1300.9" rx="24.0" ry="26.0" stroke="#231f20" stroke-width="7.50" fill="#fff" /><rect x="678.0" y="1348.0" width="145.0" height="68.0" rx="34.0" stroke="#231f20" stroke-width="6.00" fill="#fff"/><path d="M710.0,1349.0 L775.0,1349.0 A34,34 0 0 1 775.0,1415.0 L710.0,1415.0 Z" fill="#231f20" stroke="none"/><path d="M794.9,1348.5 A34.0,34.0 0 0 1 794.9,1415.5" stroke="#231f20" stroke-width="4.50" fill="none" /><ellipse cx="705.0" cy="1382.0" rx="24.0" ry="26.0" stroke="#231f20" stroke-width="7.50" fill="#fff" /><rect x="395.5" y="1266.9" width="145.0" height="68.0" rx="34.0" stroke="#231f20" stroke-width="6.00" fill="#fff"/><path d="M427.5,1267.9 L492.5,1267.9 A34,34 0 0 1 492.5,1333.9 L427.5,1333.9 Z" fill="#231f20" stroke="none"/><path d="M512.4,1267.5 A34.0,34.0 0 0 1 512.4,1334.4" stroke="#231f20" stroke-width="4.50" fill="none" /><ellipse cx="422.5" cy="1300.9" rx="24.0" ry="26.0" stroke="#231f20" stroke-width="7.50" fill="#fff" /><ellipse cx="755.0" cy="777.0" rx="478.0" ry="520.0" stroke="#231f20" stroke-width="10.50" fill="#fff" /><path d="M550.0,259.0 L755.0,257.0 L755.0,1297.0 L550.0,1295.0Z" stroke="none" stroke-width="0.00" fill="#fff" /><path d="M550.0,259.0 L760.0,257.0" stroke="#231f20" stroke-width="6.00"/><path d="M550.0,1295.0 L760.0,1297.0" stroke="#231f20" stroke-width="6.00"/><ellipse cx="550.0" cy="777.0" rx="480.0" ry="518.0" stroke="#231f20" stroke-width="7.50" fill="#fff" /><ellipse cx="545.0" cy="777.0" rx="403.0" ry="437.0" stroke="#231f20" stroke-width="12.00" fill="#fff" /><ellipse cx="547.0" cy="777.0" rx="390.0" ry="423.0" stroke="#231f20" stroke-width="4.50" fill="none" /><ellipse cx="547.5" cy="778.0" rx="445.0" ry="478.6" stroke="#1d9ad6" stroke-width="13.50" fill="none" /><ellipse cx="594.0" cy="302.0" rx="27.0" ry="28.0" stroke="#1d9ad6" stroke-width="12.00" fill="#fff" /><ellipse cx="594.0" cy="302.0" rx="19.0" ry="20.0" stroke="#231f20" stroke-width="6.00" fill="none" /><ellipse cx="685.0" cy="322.8" rx="27.0" ry="28.0" stroke="#1d9ad6" stroke-width="12.00" fill="#fff" /><ellipse cx="685.0" cy="322.8" rx="19.0" ry="20.0" stroke="#231f20" stroke-width="6.00" fill="none" /><ellipse cx="770.0" cy="363.5" rx="27.0" ry="28.0" stroke="#1d9ad6" stroke-width="12.00" fill="#fff" /><ellipse cx="770.0" cy="363.5" rx="19.0" ry="20.0" stroke="#231f20" stroke-width="6.00" fill="none" /><ellipse cx="845.3" cy="422.3" rx="27.0" ry="28.0" stroke="#1d9ad6" stroke-width="12.00" fill="#fff" /><ellipse cx="845.3" cy="422.3" rx="19.0" ry="20.0" stroke="#231f20" stroke-width="6.00" fill="none" /><ellipse cx="907.5" cy="496.7" rx="27.0" ry="28.0" stroke="#1d9ad6" stroke-width="12.00" fill="#fff" /><ellipse cx="907.5" cy="496.7" rx="19.0" ry="20.0" stroke="#231f20" stroke-width="6.00" fill="none" /><ellipse cx="954.0" cy="583.3" rx="27.0" ry="28.0" stroke="#1d9ad6" stroke-width="12.00" fill="#fff" /><ellipse cx="954.0" cy="583.3" rx="19.0" ry="20.0" stroke="#231f20" stroke-width="6.00" fill="none" /><ellipse cx="982.8" cy="678.5" rx="27.0" ry="28.0" stroke="#1d9ad6" stroke-width="12.00" fill="#fff" /><ellipse cx="982.8" cy="678.5" rx="19.0" ry="20.0" stroke="#231f20" stroke-width="6.00" fill="none" /><ellipse cx="992.5" cy="778.0" rx="27.0" ry="28.0" stroke="#1d9ad6" stroke-width="12.00" fill="#fff" /><ellipse cx="992.5" cy="778.0" rx="19.0" ry="20.0" stroke="#231f20" stroke-width="6.00" fill="none" /><ellipse cx="982.8" cy="877.5" rx="27.0" ry="28.0" stroke="#1d9ad6" stroke-width="12.00" fill="#fff" /><ellipse cx="982.8" cy="877.5" rx="19.0" ry="20.0" stroke="#231f20" stroke-width="6.00" fill="none" /><ellipse cx="954.0" cy="972.7" rx="27.0" ry="28.0" stroke="#1d9ad6" stroke-width="12.00" fill="#fff" /><ellipse cx="954.0" cy="972.7" rx="19.0" ry="20.0" stroke="#231f20" stroke-width="6.00" fill="none" /><ellipse cx="907.5" cy="1059.3" rx="27.0" ry="28.0" stroke="#1d9ad6" stroke-width="12.00" fill="#fff" /><ellipse cx="907.5" cy="1059.3" rx="19.0" ry="20.0" stroke="#231f20" stroke-width="6.00" fill="none" /><ellipse cx="845.3" cy="1133.7" rx="27.0" ry="28.0" stroke="#1d9ad6" stroke-width="12.00" fill="#fff" /><ellipse cx="845.3" cy="1133.7" rx="19.0" ry="20.0" stroke="#231f20" stroke-width="6.00" fill="none" /><ellipse cx="770.0" cy="1192.5" rx="27.0" ry="28.0" stroke="#1d9ad6" stroke-width="12.00" fill="#fff" /><ellipse cx="770.0" cy="1192.5" rx="19.0" ry="20.0" stroke="#231f20" stroke-width="6.00" fill="none" /><ellipse cx="685.0" cy="1233.2" rx="27.0" ry="28.0" stroke="#1d9ad6" stroke-width="12.00" fill="#fff" /><ellipse cx="685.0" cy="1233.2" rx="19.0" ry="20.0" stroke="#231f20" stroke-width="6.00" fill="none" /><ellipse cx="594.0" cy="1254.0" rx="27.0" ry="28.0" stroke="#1d9ad6" stroke-width="12.00" fill="#fff" /><ellipse cx="594.0" cy="1254.0" rx="19.0" ry="20.0" stroke="#231f20" stroke-width="6.00" fill="none" /><ellipse cx="501.0" cy="1254.0" rx="27.0" ry="28.0" stroke="#1d9ad6" stroke-width="12.00" fill="#fff" /><ellipse cx="501.0" cy="1254.0" rx="19.0" ry="20.0" stroke="#231f20" stroke-width="6.00" fill="none" /><ellipse cx="410.0" cy="1233.2" rx="27.0" ry="28.0" stroke="#1d9ad6" stroke-width="12.00" fill="#fff" /><ellipse cx="410.0" cy="1233.2" rx="19.0" ry="20.0" stroke="#231f20" stroke-width="6.00" fill="none" /><ellipse cx="325.0" cy="1192.5" rx="27.0" ry="28.0" stroke="#1d9ad6" stroke-width="12.00" fill="#fff" /><ellipse cx="325.0" cy="1192.5" rx="19.0" ry="20.0" stroke="#231f20" stroke-width="6.00" fill="none" /><ellipse cx="249.7" cy="1133.7" rx="27.0" ry="28.0" stroke="#1d9ad6" stroke-width="12.00" fill="#fff" /><ellipse cx="249.7" cy="1133.7" rx="19.0" ry="20.0" stroke="#231f20" stroke-width="6.00" fill="none" /><ellipse cx="187.5" cy="1059.3" rx="27.0" ry="28.0" stroke="#1d9ad6" stroke-width="12.00" fill="#fff" /><ellipse cx="187.5" cy="1059.3" rx="19.0" ry="20.0" stroke="#231f20" stroke-width="6.00" fill="none" /><ellipse cx="141.0" cy="972.7" rx="27.0" ry="28.0" stroke="#1d9ad6" stroke-width="12.00" fill="#fff" /><ellipse cx="141.0" cy="972.7" rx="19.0" ry="20.0" stroke="#231f20" stroke-width="6.00" fill="none" /><ellipse cx="112.2" cy="877.5" rx="27.0" ry="28.0" stroke="#1d9ad6" stroke-width="12.00" fill="#fff" /><ellipse cx="112.2" cy="877.5" rx="19.0" ry="20.0" stroke="#231f20" stroke-width="6.00" fill="none" /><ellipse cx="102.5" cy="778.0" rx="27.0" ry="28.0" stroke="#1d9ad6" stroke-width="12.00" fill="#fff" /><ellipse cx="102.5" cy="778.0" rx="19.0" ry="20.0" stroke="#231f20" stroke-width="6.00" fill="none" /><ellipse cx="112.2" cy="678.5" rx="27.0" ry="28.0" stroke="#1d9ad6" stroke-width="12.00" fill="#fff" /><ellipse cx="112.2" cy="678.5" rx="19.0" ry="20.0" stroke="#231f20" stroke-width="6.00" fill="none" /><ellipse cx="141.0" cy="583.3" rx="27.0" ry="28.0" stroke="#1d9ad6" stroke-width="12.00" fill="#fff" /><ellipse cx="141.0" cy="583.3" rx="19.0" ry="20.0" stroke="#231f20" stroke-width="6.00" fill="none" /><ellipse cx="187.5" cy="496.7" rx="27.0" ry="28.0" stroke="#1d9ad6" stroke-width="12.00" fill="#fff" /><ellipse cx="187.5" cy="496.7" rx="19.0" ry="20.0" stroke="#231f20" stroke-width="6.00" fill="none" /><ellipse cx="249.7" cy="422.3" rx="27.0" ry="28.0" stroke="#1d9ad6" stroke-width="12.00" fill="#fff" /><ellipse cx="249.7" cy="422.3" rx="19.0" ry="20.0" stroke="#231f20" stroke-width="6.00" fill="none" /><ellipse cx="325.0" cy="363.5" rx="27.0" ry="28.0" stroke="#1d9ad6" stroke-width="12.00" fill="#fff" /><ellipse cx="325.0" cy="363.5" rx="19.0" ry="20.0" stroke="#231f20" stroke-width="6.00" fill="none" /><ellipse cx="410.0" cy="322.8" rx="27.0" ry="28.0" stroke="#1d9ad6" stroke-width="12.00" fill="#fff" /><ellipse cx="410.0" cy="322.8" rx="19.0" ry="20.0" stroke="#231f20" stroke-width="6.00" fill="none" /><ellipse cx="501.0" cy="302.0" rx="27.0" ry="28.0" stroke="#1d9ad6" stroke-width="12.00" fill="#fff" /><ellipse cx="501.0" cy="302.0" rx="19.0" ry="20.0" stroke="#231f20" stroke-width="6.00" fill="none" /><ellipse cx="545.0" cy="777.0" rx="403.0" ry="437.0" stroke="#231f20" stroke-width="12.00" fill="#fff" /><ellipse cx="547.0" cy="777.0" rx="390.0" ry="423.0" stroke="#231f20" stroke-width="4.50" fill="none" /><ellipse cx="560.0" cy="777.0" rx="372.0" ry="410.0" stroke="#231f20" stroke-width="4.50" fill="none" /><path d="M925.0,777.0 L955.0,777.0 M923.2,816.4 L953.5,810.8 M918.0,855.4 L948.9,844.3 M909.3,893.7 L941.4,877.1 M897.2,930.8 L931.0,909.0 M881.9,966.5 L917.8,939.6 M863.5,1000.3 L901.9,968.7 M842.1,1032.0 L883.5,995.9 M818.1,1061.3 L862.7,1021.0 M791.6,1087.8 L839.8,1043.7 M762.8,1111.3 L815.0,1063.9 M732.1,1131.5 L788.5,1081.3 M699.7,1148.4 L760.5,1095.7 M666.0,1161.7 L731.4,1107.1 M631.2,1171.3 L701.5,1115.4 M595.8,1177.1 L670.9,1120.3 M560.0,1179.0 L640.0,1122.0 M524.2,1177.1 L609.1,1120.3 M488.8,1171.3 L578.5,1115.4 M454.0,1161.7 L548.6,1107.1 M420.3,1148.4 L519.5,1095.7 M387.9,1131.5 L491.5,1081.3 M357.2,1111.3 L465.0,1063.9 M328.4,1087.8 L440.2,1043.7 M301.9,1061.3 L417.3,1021.0 M277.9,1032.0 L396.5,995.9 M256.5,1000.3 L378.1,968.7 M238.1,966.5 L362.2,939.6 M222.8,930.8 L349.0,909.0 M210.7,893.7 L338.6,877.1 M202.0,855.4 L331.1,844.3 M196.8,816.4 L326.5,810.8 M195.0,777.0 L325.0,777.0 M196.8,737.6 L326.5,743.2 M202.0,698.6 L331.1,709.7 M210.7,660.3 L338.6,676.9 M222.8,623.2 L349.0,645.0 M238.1,587.5 L362.2,614.4 M256.5,553.7 L378.1,585.3 M277.9,522.0 L396.5,558.1 M301.9,492.7 L417.3,533.0 M328.4,466.2 L440.2,510.3 M357.2,442.7 L465.0,490.1 M387.9,422.5 L491.5,472.7 M420.3,405.6 L519.5,458.3 M454.0,392.3 L548.6,446.9 M488.8,382.7 L578.5,438.6 M524.2,376.9 L609.1,433.7 M560.0,375.0 L640.0,432.0 M595.8,376.9 L670.9,433.7 M631.2,382.7 L701.5,438.6 M666.0,392.3 L731.4,446.9 M699.7,405.6 L760.5,458.3 M732.1,422.5 L788.5,472.7 M762.8,442.7 L815.0,490.1 M791.6,466.2 L839.8,510.3 M818.1,492.7 L862.7,533.0 M842.1,522.0 L883.5,558.1 M863.5,553.7 L901.9,585.3 M881.9,587.5 L917.8,614.4 M897.2,623.2 L931.0,645.0 M909.3,660.3 L941.4,676.9 M918.0,698.6 L948.9,709.7 M923.2,737.6 L953.5,743.2 " stroke="#231f20" stroke-width="13.50" fill="none" /><ellipse cx="607.0" cy="777.0" rx="282.0" ry="347.0" stroke="#231f20" stroke-width="7.50" fill="#fff" /><ellipse cx="612.0" cy="777.0" rx="262.0" ry="322.0" stroke="#231f20" stroke-width="4.50" fill="#fff" /><ellipse cx="618.0" cy="777.0" rx="238.0" ry="293.0" stroke="#231f20" stroke-width="4.50" fill="#fff" /><ellipse cx="625.0" cy="777.0" rx="212.0" ry="262.0" stroke="#231f20" stroke-width="4.50" fill="#fff" /><ellipse cx="632.0" cy="777.0" rx="190.0" ry="236.0" stroke="#231f20" stroke-width="4.50" fill="#fff" /><ellipse cx="745.0" cy="505.0" rx="30.0" ry="38.0" stroke="#231f20" stroke-width="6.00" fill="#fff" /><path d="M730.0,470.0 L730.0,540.0" stroke="#231f20" stroke-width="4.50"/><path d="M760.0,470.0 L760.0,540.0" stroke="#231f20" stroke-width="4.50"/><ellipse cx="430.0" cy="860.0" rx="32.0" ry="36.0" stroke="#231f20" stroke-width="6.00" fill="#fff" /><ellipse cx="415.0" cy="858.0" rx="22.0" ry="30.0" stroke="#231f20" stroke-width="4.50" fill="none" /><path d="M848.8,789.2 L888.3,797.9 L883.2,832.3 L843.0,828.1 L834.1,855.0 L868.0,877.7 L851.4,907.9 L815.6,889.0 L798.2,910.6 L821.8,944.3 L796.1,966.1 L769.4,935.2 L745.9,948.6 L756.1,988.7 L724.8,999.2 L710.8,960.4 L684.3,963.8 L679.7,1005.0 L646.9,1002.7 L647.6,961.3 L621.7,954.2 L603.0,990.8 L573.1,976.1 L588.3,937.7 L566.6,921.1 L536.2,948.2 L513.4,923.1 L541.1,892.8 L526.4,868.9 L488.5,882.9 L475.7,850.7 L512.2,832.6 L506.6,804.7 L466.2,803.6 L465.3,768.8 L505.5,765.4 L509.7,737.2 L472.4,721.2 L483.4,688.3 L522.1,700.1 L535.5,675.4 L506.2,646.7 L527.7,620.3 L559.5,645.6 L580.3,627.8 L563.1,590.2 L592.1,573.8 L612.8,609.3 L638.3,600.7 L635.4,559.4 L668.0,555.2 L674.8,596.0 L701.4,597.9 L713.3,558.3 L745.1,566.9 L737.1,607.6 L761.3,619.6 L786.3,587.2 L813.1,607.4 L791.2,642.4 L809.7,663.0 L844.5,642.1 L862.6,671.3 L830.0,695.9 L840.3,722.2 L880.1,715.7 L887.1,749.8 L848.0,760.7Z" stroke="#231f20" stroke-width="9.00" fill="#fff" /><ellipse cx="678.0" cy="568.0" rx="11.0" ry="11.0" stroke="#231f20" stroke-width="7.50" fill="none" /><ellipse cx="795.0" cy="952.0" rx="14.0" ry="16.0" stroke="#231f20" stroke-width="7.50" fill="none" /><path d="M830.0,778.0 L789.0,884.1 L690.0,928.0 L591.0,884.1 L550.0,778.0 L591.0,671.9 L690.0,628.0 L789.0,671.9Z" stroke="#231f20" stroke-width="7.50" fill="#fff" /><path d="M775.0,690.0 L775.0,870.0" stroke="#231f20" stroke-width="4.50"/><path d="M800.0,720.0 L800.0,840.0" stroke="#231f20" stroke-width="4.50"/><path d="M560.0,655.0 L717.0,645.2 M560.0,690.0 L729.2,683.0 M560.0,725.0 L741.5,720.8 M560.0,760.0 L753.7,758.6 M560.0,795.0 L754.0,796.4 M560.0,830.0 L741.8,834.2 M560.0,865.0 L729.5,872.0 M560.0,900.0 L717.3,909.8 " stroke="#231f20" stroke-width="13.50" fill="none" /></g></g><g transform="translate(830,1590) scale(0.19216)"><ellipse cx="600.0" cy="797.0" rx="510.0" ry="550.0" stroke="#231f20" stroke-width="7.50" fill="#fff" /><ellipse cx="590.0" cy="795.0" rx="510.0" ry="550.0" stroke="#231f20" stroke-width="9.00" fill="#fff" /><ellipse cx="1062.4" cy="850.1" rx="37.0" ry="39.0" stroke="#231f20" stroke-width="6.00" fill="#fff" /><ellipse cx="1055.4" cy="848.1" rx="37.0" ry="39.0" stroke="#231f20" stroke-width="7.50" fill="#fff" /><ellipse cx="1042.1" cy="954.0" rx="37.0" ry="39.0" stroke="#231f20" stroke-width="6.00" fill="#fff" /><ellipse cx="1035.1" cy="952.0" rx="37.0" ry="39.0" stroke="#231f20" stroke-width="7.50" fill="#fff" /><ellipse cx="1002.3" cy="1051.0" rx="37.0" ry="39.0" stroke="#231f20" stroke-width="6.00" fill="#fff" /><ellipse cx="995.3" cy="1049.0" rx="37.0" ry="39.0" stroke="#231f20" stroke-width="7.50" fill="#fff" /><ellipse cx="944.8" cy="1136.9" rx="37.0" ry="39.0" stroke="#231f20" stroke-width="6.00" fill="#fff" /><ellipse cx="937.8" cy="1134.9" rx="37.0" ry="39.0" stroke="#231f20" stroke-width="7.50" fill="#fff" /><ellipse cx="872.1" cy="1208.0" rx="37.0" ry="39.0" stroke="#231f20" stroke-width="6.00" fill="#fff" /><ellipse cx="865.1" cy="1206.0" rx="37.0" ry="39.0" stroke="#231f20" stroke-width="7.50" fill="#fff" /><ellipse cx="787.4" cy="1261.1" rx="37.0" ry="39.0" stroke="#231f20" stroke-width="6.00" fill="#fff" /><ellipse cx="780.4" cy="1259.1" rx="37.0" ry="39.0" stroke="#231f20" stroke-width="7.50" fill="#fff" /><ellipse cx="694.3" cy="1293.9" rx="37.0" ry="39.0" stroke="#231f20" stroke-width="6.00" fill="#fff" /><ellipse cx="687.3" cy="1291.9" rx="37.0" ry="39.0" stroke="#231f20" stroke-width="7.50" fill="#fff" /><ellipse cx="597.0" cy="1305.0" rx="37.0" ry="39.0" stroke="#231f20" stroke-width="6.00" fill="#fff" /><ellipse cx="590.0" cy="1303.0" rx="37.0" ry="39.0" stroke="#231f20" stroke-width="7.50" fill="#fff" /><ellipse cx="499.7" cy="1293.9" rx="37.0" ry="39.0" stroke="#231f20" stroke-width="6.00" fill="#fff" /><ellipse cx="492.7" cy="1291.9" rx="37.0" ry="39.0" stroke="#231f20" stroke-width="7.50" fill="#fff" /><ellipse cx="406.6" cy="1261.1" rx="37.0" ry="39.0" stroke="#231f20" stroke-width="6.00" fill="#fff" /><ellipse cx="399.6" cy="1259.1" rx="37.0" ry="39.0" stroke="#231f20" stroke-width="7.50" fill="#fff" /><ellipse cx="321.9" cy="1208.0" rx="37.0" ry="39.0" stroke="#231f20" stroke-width="6.00" fill="#fff" /><ellipse cx="314.9" cy="1206.0" rx="37.0" ry="39.0" stroke="#231f20" stroke-width="7.50" fill="#fff" /><ellipse cx="249.2" cy="1136.9" rx="37.0" ry="39.0" stroke="#231f20" stroke-width="6.00" fill="#fff" /><ellipse cx="242.2" cy="1134.9" rx="37.0" ry="39.0" stroke="#231f20" stroke-width="7.50" fill="#fff" /><ellipse cx="191.7" cy="1051.0" rx="37.0" ry="39.0" stroke="#231f20" stroke-width="6.00" fill="#fff" /><ellipse cx="184.7" cy="1049.0" rx="37.0" ry="39.0" stroke="#231f20" stroke-width="7.50" fill="#fff" /><ellipse cx="151.9" cy="954.0" rx="37.0" ry="39.0" stroke="#231f20" stroke-width="6.00" fill="#fff" /><ellipse cx="144.9" cy="952.0" rx="37.0" ry="39.0" stroke="#231f20" stroke-width="7.50" fill="#fff" /><ellipse cx="131.6" cy="850.1" rx="37.0" ry="39.0" stroke="#231f20" stroke-width="6.00" fill="#fff" /><ellipse cx="124.6" cy="848.1" rx="37.0" ry="39.0" stroke="#231f20" stroke-width="7.50" fill="#fff" /><ellipse cx="131.6" cy="743.9" rx="37.0" ry="39.0" stroke="#231f20" stroke-width="6.00" fill="#fff" /><ellipse cx="124.6" cy="741.9" rx="37.0" ry="39.0" stroke="#231f20" stroke-width="7.50" fill="#fff" /><ellipse cx="151.9" cy="640.0" rx="37.0" ry="39.0" stroke="#231f20" stroke-width="6.00" fill="#fff" /><ellipse cx="144.9" cy="638.0" rx="37.0" ry="39.0" stroke="#231f20" stroke-width="7.50" fill="#fff" /><ellipse cx="191.7" cy="543.0" rx="37.0" ry="39.0" stroke="#231f20" stroke-width="6.00" fill="#fff" /><ellipse cx="184.7" cy="541.0" rx="37.0" ry="39.0" stroke="#231f20" stroke-width="7.50" fill="#fff" /><ellipse cx="249.2" cy="457.1" rx="37.0" ry="39.0" stroke="#231f20" stroke-width="6.00" fill="#fff" /><ellipse cx="242.2" cy="455.1" rx="37.0" ry="39.0" stroke="#231f20" stroke-width="7.50" fill="#fff" /><ellipse cx="321.9" cy="386.0" rx="37.0" ry="39.0" stroke="#231f20" stroke-width="6.00" fill="#fff" /><ellipse cx="314.9" cy="384.0" rx="37.0" ry="39.0" stroke="#231f20" stroke-width="7.50" fill="#fff" /><ellipse cx="406.6" cy="332.9" rx="37.0" ry="39.0" stroke="#231f20" stroke-width="6.00" fill="#fff" /><ellipse cx="399.6" cy="330.9" rx="37.0" ry="39.0" stroke="#231f20" stroke-width="7.50" fill="#fff" /><ellipse cx="499.7" cy="300.1" rx="37.0" ry="39.0" stroke="#231f20" stroke-width="6.00" fill="#fff" /><ellipse cx="492.7" cy="298.1" rx="37.0" ry="39.0" stroke="#231f20" stroke-width="7.50" fill="#fff" /><ellipse cx="597.0" cy="289.0" rx="37.0" ry="39.0" stroke="#231f20" stroke-width="6.00" fill="#fff" /><ellipse cx="590.0" cy="287.0" rx="37.0" ry="39.0" stroke="#231f20" stroke-width="7.50" fill="#fff" /><ellipse cx="694.3" cy="300.1" rx="37.0" ry="39.0" stroke="#231f20" stroke-width="6.00" fill="#fff" /><ellipse cx="687.3" cy="298.1" rx="37.0" ry="39.0" stroke="#231f20" stroke-width="7.50" fill="#fff" /><ellipse cx="787.4" cy="332.9" rx="37.0" ry="39.0" stroke="#231f20" stroke-width="6.00" fill="#fff" /><ellipse cx="780.4" cy="330.9" rx="37.0" ry="39.0" stroke="#231f20" stroke-width="7.50" fill="#fff" /><ellipse cx="872.1" cy="386.0" rx="37.0" ry="39.0" stroke="#231f20" stroke-width="6.00" fill="#fff" /><ellipse cx="865.1" cy="384.0" rx="37.0" ry="39.0" stroke="#231f20" stroke-width="7.50" fill="#fff" /><ellipse cx="944.8" cy="457.1" rx="37.0" ry="39.0" stroke="#231f20" stroke-width="6.00" fill="#fff" /><ellipse cx="937.8" cy="455.1" rx="37.0" ry="39.0" stroke="#231f20" stroke-width="7.50" fill="#fff" /><ellipse cx="1002.3" cy="543.0" rx="37.0" ry="39.0" stroke="#231f20" stroke-width="6.00" fill="#fff" /><ellipse cx="995.3" cy="541.0" rx="37.0" ry="39.0" stroke="#231f20" stroke-width="7.50" fill="#fff" /><ellipse cx="1042.1" cy="640.0" rx="37.0" ry="39.0" stroke="#231f20" stroke-width="6.00" fill="#fff" /><ellipse cx="1035.1" cy="638.0" rx="37.0" ry="39.0" stroke="#231f20" stroke-width="7.50" fill="#fff" /><ellipse cx="1062.4" cy="743.9" rx="37.0" ry="39.0" stroke="#231f20" stroke-width="6.00" fill="#fff" /><ellipse cx="1055.4" cy="741.9" rx="37.0" ry="39.0" stroke="#231f20" stroke-width="7.50" fill="#fff" /><ellipse cx="585.0" cy="795.0" rx="415.0" ry="455.0" stroke="#231f20" stroke-width="13.50" fill="#fff" /><ellipse cx="590.0" cy="795.0" rx="350.0" ry="385.0" stroke="#231f20" stroke-width="7.50" fill="none" /><ellipse cx="555.0" cy="530.0" rx="70.0" ry="73.0" stroke="#231f20" stroke-width="7.50" fill="#fff" /><ellipse cx="380.0" cy="950.0" rx="70.0" ry="73.0" stroke="#231f20" stroke-width="7.50" fill="#fff" /><ellipse cx="810.0" cy="900.0" rx="70.0" ry="73.0" stroke="#231f20" stroke-width="7.50" fill="#fff" /><path d="M545.0,457.0 L548.0,435.0" stroke="#231f20" stroke-width="6.00"/><path d="M318.0,990.0 L305.0,1005.0" stroke="#231f20" stroke-width="6.00"/><path d="M872.0,935.0 L888.0,945.0" stroke="#231f20" stroke-width="6.00"/><g transform="translate(428,663) rotate(42)"><rect x="-85.0" y="-26.0" width="170.0" height="52.0" rx="10.0" stroke="#231f20" stroke-width="7.50" fill="#fff"/><rect x="-77.0" y="-16.0" width="154.0" height="32.0" rx="5.0" stroke="#231f20" stroke-width="4.50" fill="none"/></g><g transform="translate(735,672) rotate(-40)"><rect x="-85.0" y="-26.0" width="170.0" height="52.0" rx="10.0" stroke="#231f20" stroke-width="7.50" fill="#fff"/><rect x="-77.0" y="-16.0" width="154.0" height="32.0" rx="5.0" stroke="#231f20" stroke-width="4.50" fill="none"/></g><g transform="translate(605,990) rotate(86)"><rect x="-95.0" y="-26.0" width="190.0" height="52.0" rx="10.0" stroke="#231f20" stroke-width="7.50" fill="#fff"/><rect x="-87.0" y="-16.0" width="174.0" height="32.0" rx="5.0" stroke="#231f20" stroke-width="4.50" fill="none"/></g><ellipse cx="580.0" cy="795.0" rx="140.0" ry="148.0" stroke="#231f20" stroke-width="7.50" fill="#fff" /><ellipse cx="580.0" cy="795.0" rx="128.0" ry="135.0" stroke="#231f20" stroke-width="4.50" fill="none" /><ellipse cx="565.0" cy="795.0" rx="62.0" ry="66.0" stroke="#231f20" stroke-width="6.00" fill="none" /><ellipse cx="558.0" cy="795.0" rx="36.0" ry="38.0" stroke="#231f20" stroke-width="6.00" fill="none" /><path d="M610,770 L640,765 M610,820 L640,828" stroke="#231f20" stroke-width="4.50" fill="none" /><ellipse cx="215.0" cy="790.0" rx="30.0" ry="34.0" stroke="#231f20" stroke-width="7.50" fill="#fff" /><path d="M200.0,775.0 L232.0,778.0 L230.0,808.0 L198.0,805.0Z" stroke="#231f20" stroke-width="6.00" fill="none" /><path d="M262.0,795.0 L398.0,793.0" stroke="#231f20" stroke-width="7.50"/><text x="255" y="738" font-family="Liberation Sans, sans-serif" font-weight="bold" font-size="30" fill="#231f20" stroke="none">HORIZ.</text><text x="255" y="775" font-family="Liberation Sans, sans-serif" font-weight="bold" font-size="30" fill="#231f20" stroke="none">OIL FILL</text><text x="255" y="838" font-family="Liberation Sans, sans-serif" font-weight="bold" font-size="30" fill="#231f20" stroke="none">LEVEL</text><text transform="translate(218,860) rotate(90)" font-family="Liberation Sans, sans-serif" font-weight="bold" font-size="26" fill="#231f20" stroke="none">DRAIN</text></g><path d="M854.0,1607.0 L876.3,1644.0" stroke="#ed1c24" stroke-width="2.0"/><path d="M886.0,1660.0 L864.9,1642.4 L876.3,1644.0 L880.3,1633.1 Z" fill="#ed1c24" stroke="none"/><path d="M1002.0,1596.0 L1024.2,1632.1" stroke="#ed1c24" stroke-width="2.0"/><path d="M1034.0,1648.0 L1012.7,1630.6 L1024.2,1632.1 L1028.0,1621.1 Z" fill="#ed1c24" stroke="none"/><path d="M812.0,1836.0 L848.4,1795.9" stroke="#ed1c24" stroke-width="2.0"/><path d="M861.0,1782.0 L850.2,1807.3 L848.4,1795.9 L836.9,1795.2 Z" fill="#ed1c24" stroke="none"/>
<g transform="translate(100,1030) scale(0.32852)"><ellipse cx="1782.0" cy="765.0" rx="113.0" ry="135.0" stroke="#231f20" stroke-width="7.50" fill="#fff" /><path d="M1668.0,657.0 L1775.0,630.0 L1795.0,900.0 L1690.0,925.0Z" stroke="none" stroke-width="0.00" fill="#fff" /><path d="M1668.0,657.0 L1775.0,631.0" stroke="#231f20" stroke-width="7.50"/><path d="M1692.0,925.0 L1800.0,899.0" stroke="#231f20" stroke-width="7.50"/><ellipse cx="1680.0" cy="790.0" rx="115.0" ry="135.0" stroke="#231f20" stroke-width="7.50" fill="#fff" /><ellipse cx="1685.0" cy="797.0" rx="26.0" ry="46.0" stroke="#231f20" stroke-width="6.00" fill="#fff" /><path d="M632.0,1025.0 L1668.0,762.0 L1690.0,835.0 L650.0,1113.0Z" stroke="none" stroke-width="0.00" fill="#fff" /><path d="M632.0,1025.0 L1668.0,762.0" stroke="#231f20" stroke-width="7.50"/><path d="M650.0,1113.0 L1690.0,835.0" stroke="#231f20" stroke-width="7.50"/><ellipse cx="635.0" cy="1070.0" rx="38.0" ry="46.0" stroke="#231f20" stroke-width="12.00" fill="#fff" /><ellipse cx="637.0" cy="1070.0" rx="24.0" ry="31.0" stroke="#231f20" stroke-width="7.50" fill="#fff" /></g><path d="M419.0,1280.0 L455.4,1320.1" stroke="#ed1c24" stroke-width="2.0"/><path d="M468.0,1334.0 L443.9,1320.8 L455.4,1320.1 L457.2,1308.7 Z" fill="#ed1c24" stroke="none"/>
<path d="M2028.6,580.4 L2055.3,580.4 L2055.3,591.4 L2049.0,629.0 L2049.0,737.2 L2028.6,737.2 L2028.6,611.7 L2033.3,607.0 L2033.3,580.4Z" fill="#fff" stroke="none"/><path d="M2028.6,580.4 L2055.3,580.4 L2055.3,591.4 L2049.0,629.0 L2049.0,737.2 L2028.6,737.2 L2028.6,611.7 L2033.3,607.0 L2033.3,580.4Z" fill="url(#H45s)" stroke="#231f20" stroke-width="1.30"/><path d="M2049.0,641.5 L2099.2,641.5 L2099.2,647.8 L2113.3,732.5 L2114.8,737.2 L2049.0,737.2Z" fill="none" stroke="#231f20" stroke-width="1.00"/><path d="M2050.6,737.2 L2050.6,701.1 L2061.5,691.7 L2074.1,701.1 L2080.3,726.2 L2080.3,737.2" fill="none" stroke="#231f20" stroke-width="1.00"/><path d="M2060.0,737.2 L2060.0,710.5 L2067.8,704.2 L2075.6,715.2 L2078.8,737.2" fill="none" stroke="#231f20" stroke-width="1.00"/><path d="M1940.0,764.6 L1961.2,763.0 L2005.1,762.3 L2019.2,748.1 L2031.7,737.2 L2080.3,737.2 L2092.9,742.7 L2197.9,742.7 L2202.6,748.1 L2202.6,757.6 L2197.9,762.3 L2128.9,762.3 L2118.0,765.4 L2116.4,776.4 L2116.4,809.9 L2061.5,809.9 L2058.4,795.2 L2005.1,792.0 L2005.1,785.8 L1940.0,785.8Z" fill="#fff" stroke="none"/><path d="M1940.0,764.6 L1961.2,763.0 L2005.1,762.3 L2019.2,748.1 L2031.7,737.2 L2080.3,737.2 L2092.9,742.7 L2197.9,742.7 L2202.6,748.1 L2202.6,757.6 L2197.9,762.3 L2128.9,762.3 L2118.0,765.4 L2116.4,776.4 L2116.4,809.9 L2061.5,809.9 L2058.4,795.2 L2005.1,792.0 L2005.1,785.8 L1940.0,785.8Z" fill="url(#H45s)" stroke="#231f20" stroke-width="1.30"/><path d="M2038.0,770.1 L2042.7,763.8 L2053.7,763.8 L2060.0,771.7 L2060.0,785.8 L2049.0,788.9 L2041.1,785.8Z" fill="#fff" stroke="#231f20" stroke-width="1.00"/><path d="M2288.9,580.3 L2308.5,580.3 L2308.5,624.2 L2319.5,632.0 L2369.7,647.7 L2391.6,657.1 L2391.6,669.7 L2344.6,669.7 L2327.3,657.1 L2292.9,650.9 L2288.9,635.2Z" fill="#fff" stroke="none"/><path d="M2288.9,580.3 L2308.5,580.3 L2308.5,624.2 L2319.5,632.0 L2369.7,647.7 L2391.6,657.1 L2391.6,669.7 L2344.6,669.7 L2327.3,657.1 L2292.9,650.9 L2288.9,635.2Z" fill="url(#H45s)" stroke="#231f20" stroke-width="1.30"/><path d="M2339.1,568.5 L2342.2,567.5 L2367.3,567.5 L2370.5,569.3 L2370.5,647.7 L2366.5,646.2 L2366.5,570.9 L2342.2,570.9 L2341.5,583.4 L2335.2,588.1 L2310.1,588.1 L2310.1,581.9 L2335.2,581.9 L2339.1,578.7Z" fill="#fff" stroke="#231f20" stroke-width="1.00"/><path d="M2277.6,671.3 L2403.3,671.3 L2406.5,674.5 L2406.5,690.6 L2403.3,693.8 L2277.6,693.8Z" fill="#fff" stroke="none"/><path d="M2277.6,671.3 L2403.3,671.3 L2406.5,674.5 L2406.5,690.6 L2403.3,693.8 L2277.6,693.8Z" fill="url(#HSc)" stroke="#231f20" stroke-width="1.30"/><path d="M2377.5,661.6 L2390.4,661.6 L2390.4,703.5 L2377.5,703.5Z" fill="#fff" stroke="none"/><path d="M2377.5,661.6 L2390.4,661.6 L2390.4,703.5 L2377.5,703.5Z" fill="url(#HSc)" stroke="#231f20" stroke-width="1.30"/><path d="M2395.2,674.5 L2404.9,674.5 L2404.9,690.6 L2395.2,690.6Z" fill="#fff" stroke="#231f20" stroke-width="1.00"/><path d="M2280.8,697.1 L2377.5,697.1 L2382.4,703.5 L2382.4,735.7 L2367.9,759.9 L2277.6,759.9 L2277.6,735.7 L2238.9,735.7 L2238.9,722.8 L2280.8,722.8Z" fill="#fff" stroke="none"/><path d="M2280.8,697.1 L2377.5,697.1 L2382.4,703.5 L2382.4,735.7 L2367.9,759.9 L2277.6,759.9 L2277.6,735.7 L2238.9,735.7 L2238.9,722.8 L2280.8,722.8Z" fill="url(#H45s)" stroke="#231f20" stroke-width="1.30"/><path d="M2309.8,698.7 L2322.7,705.1 L2348.5,716.4 L2367.9,738.9 L2364.6,759.9 L2335.6,759.9 L2332.4,732.5 L2316.3,716.4Z" fill="#fff" stroke="#231f20" stroke-width="1.00"/><path d="M2365.8,760.0 L2375.2,764.7 L2445.8,764.7 L2448.9,761.6 L2464.6,761.6 L2467.7,764.7 L2514.8,764.7 L2515.5,785.1 L2452.0,785.9 L2452.0,791.4 L2430.1,793.7 L2422.3,800.8 L2419.9,807.0 L2370.5,807.0 L2365.8,796.1 L2361.1,775.7 L2353.3,744.3 L2345.4,713.0 L2376.8,713.0 L2376.8,744.3Z" fill="#fff" stroke="none"/><path d="M2365.8,760.0 L2375.2,764.7 L2445.8,764.7 L2448.9,761.6 L2464.6,761.6 L2467.7,764.7 L2514.8,764.7 L2515.5,785.1 L2452.0,785.9 L2452.0,791.4 L2430.1,793.7 L2422.3,800.8 L2419.9,807.0 L2370.5,807.0 L2365.8,796.1 L2361.1,775.7 L2353.3,744.3 L2345.4,713.0 L2376.8,713.0 L2376.8,744.3Z" fill="url(#H45s)" stroke="#231f20" stroke-width="1.30"/><path d="M2503.8,764.7 L2503.8,785.1" fill="none" stroke="#231f20" stroke-width="1.00"/><path d="M2259.2,750.6 L2343.9,750.6 L2350.1,783.5 L2359.5,822.7 L2314.1,822.7 L2307.8,814.9 L2287.4,807.0 L2259.2,797.6Z" fill="#fff" stroke="none"/><path d="M2259.2,750.6 L2343.9,750.6 L2350.1,783.5 L2359.5,822.7 L2314.1,822.7 L2307.8,814.9 L2287.4,807.0 L2259.2,797.6Z" fill="url(#HCR)" stroke="#231f20" stroke-width="1.30"/><path d="M1884.7,359.0 L1905.9,359.0 L1905.9,384.1 L1927.0,383.3 L1928.6,369.2 L1931.7,361.4 L1940.3,359.0 L1956.0,359.0 L1964.6,361.4 L1967.3,370.8 L1967.3,392.7 L1965.4,401.3 L1956.0,404.5 L1916.8,404.9 L1907.4,408.4 L1904.8,417.8 L1904.8,455.4 L1906.6,466.4 L1916.8,471.1 L1927.8,473.5 L1934.1,477.4 L1934.9,482.9 L1932.5,489.1 L1924.7,492.3 L1918.4,495.4 L1916.8,500.1 L1871.4,500.9 L1867.4,497.8 L1867.4,444.5 L1854.1,439.8 L1854.1,389.6 L1855.7,385.2 L1858.8,384.1 L1884.7,384.1Z" fill="#fff" stroke="none"/><path d="M1884.7,359.0 L1905.9,359.0 L1905.9,384.1 L1927.0,383.3 L1928.6,369.2 L1931.7,361.4 L1940.3,359.0 L1956.0,359.0 L1964.6,361.4 L1967.3,370.8 L1967.3,392.7 L1965.4,401.3 L1956.0,404.5 L1916.8,404.9 L1907.4,408.4 L1904.8,417.8 L1904.8,455.4 L1906.6,466.4 L1916.8,471.1 L1927.8,473.5 L1934.1,477.4 L1934.9,482.9 L1932.5,489.1 L1924.7,492.3 L1918.4,495.4 L1916.8,500.1 L1871.4,500.9 L1867.4,497.8 L1867.4,444.5 L1854.1,439.8 L1854.1,389.6 L1855.7,385.2 L1858.8,384.1 L1884.7,384.1Z" fill="url(#HC)" stroke="#231f20" stroke-width="1.30"/><path d="M1897.2,344.9 L1897.2,359.0" fill="none" stroke="#231f20" stroke-width="1.00"/><path d="M1897.2,500.9 L1897.2,514.2" fill="none" stroke="#231f20" stroke-width="1.00"/><circle cx="1948.2" cy="376.3" r="4.5" fill="#fff" stroke="#231f20" stroke-width="1"/><path d="M1916.8,439.8 L2048.5,439.8 L2048.5,455.4 L1917.6,455.4 L1916.8,453.9Z" fill="#fff" stroke="none"/><path d="M1916.8,439.8 L2048.5,439.8 L2048.5,455.4 L1917.6,455.4 L1916.8,453.9Z" fill="url(#HD)" stroke="#231f20" stroke-width="1.30"/><path d="M2296.8,439.2 L2428.5,439.2 L2428.5,454.9 L2296.8,454.9Z" fill="#fff" stroke="none"/><path d="M2296.8,439.2 L2428.5,439.2 L2428.5,454.9 L2296.8,454.9Z" fill="url(#HD)" stroke="#231f20" stroke-width="1.30"/><path d="M2061.1,439.8 L2145.7,439.8 L2145.7,442.9 L2068.9,442.9 L2068.9,455.4 L2061.1,455.4Z" fill="#fff" stroke="#231f20" stroke-width="1.00"/><path d="M2200.3,439.2 L2285.8,439.2 L2285.8,454.9 L2277.2,454.9 L2277.2,441.5 L2200.3,441.5Z" fill="#fff" stroke="#231f20" stroke-width="1.00"/><path d="M2068.9,455.4 L2078.3,455.4 L2078.3,446.8 L2112.8,446.8 L2137.9,446.8 L2137.9,468.0 L2126.9,468.0 L2142.6,544.8 L2126.9,544.8 L2115.9,502.5 L2106.5,488.4 L2097.1,475.8 L2084.6,469.5 L2061.1,469.5 L2061.1,455.4Z" fill="#fff" stroke="none"/><path d="M2068.9,455.4 L2078.3,455.4 L2078.3,446.8 L2112.8,446.8 L2137.9,446.8 L2137.9,468.0 L2126.9,468.0 L2142.6,544.8 L2126.9,544.8 L2115.9,502.5 L2106.5,488.4 L2097.1,475.8 L2084.6,469.5 L2061.1,469.5 L2061.1,455.4Z" fill="url(#HY)" stroke="#231f20" stroke-width="1.30"/><path d="M2208.2,447.0 L2268.5,447.0 L2268.5,453.3 L2277.2,453.3 L2277.2,454.9 L2285.8,454.9 L2285.8,467.4 L2264.6,467.4 L2250.5,473.7 L2236.4,487.8 L2225.4,501.9 L2216.0,544.2 L2205.0,544.2 L2205.0,469.0 L2208.2,469.0Z" fill="#fff" stroke="none"/><path d="M2208.2,447.0 L2268.5,447.0 L2268.5,453.3 L2277.2,453.3 L2277.2,454.9 L2285.8,454.9 L2285.8,467.4 L2264.6,467.4 L2250.5,473.7 L2236.4,487.8 L2225.4,501.9 L2216.0,544.2 L2205.0,544.2 L2205.0,469.0 L2208.2,469.0Z" fill="url(#HY)" stroke="#231f20" stroke-width="1.30"/><path d="M2044.6,429.6 L2065.8,429.6 L2065.8,438.2 L2061.1,438.2 L2061.1,475.8 L2048.5,475.8 L2048.5,438.2 L2044.6,438.2Z" fill="#fff" stroke="none"/><path d="M2044.6,429.6 L2065.8,429.6 L2065.8,438.2 L2061.1,438.2 L2061.1,475.8 L2048.5,475.8 L2048.5,438.2 L2044.6,438.2Z" fill="url(#HSc)" stroke="#231f20" stroke-width="1.30"/><path d="M2281.9,429.0 L2299.9,429.0 L2299.9,437.6 L2296.8,437.6 L2296.8,476.0 L2285.8,476.0 L2285.8,437.6 L2281.9,437.6Z" fill="#fff" stroke="none"/><path d="M2281.9,429.0 L2299.9,429.0 L2299.9,437.6 L2296.8,437.6 L2296.8,476.0 L2285.8,476.0 L2285.8,437.6 L2281.9,437.6Z" fill="url(#HSc)" stroke="#231f20" stroke-width="1.30"/><path d="M2079.9,432.7 L2082.2,429.6 L2099.5,429.6 L2101.8,432.7 L2101.8,439.0 L2079.9,439.0Z" fill="#fff" stroke="#231f20" stroke-width="1.00"/><path d="M2089.3,429.6 L2089.3,439.0" fill="none" stroke="#231f20" stroke-width="0.80"/><path d="M2246.6,432.1 L2248.9,429.0 L2266.2,429.0 L2268.5,432.1 L2268.5,438.4 L2246.6,438.4Z" fill="#fff" stroke="#231f20" stroke-width="1.00"/><path d="M2256.0,429.0 L2256.0,438.4" fill="none" stroke="#231f20" stroke-width="0.80"/><path d="M2173.2,429.9 L2194.9,429.9 L2196.0,431.0 L2196.0,478.4 L2205.0,483.1 L2205.0,649.9 L2141.4,649.9 L2141.4,483.1 L2150.5,478.4 L2150.5,431.0 L2151.6,429.9 L2173.2,429.9Z" fill="#fff" stroke="none"/><path d="M2173.2,429.9 L2194.9,429.9 L2196.0,431.0 L2196.0,478.4 L2205.0,483.1 L2205.0,649.9 L2141.4,649.9 L2141.4,483.1 L2150.5,478.4 L2150.5,431.0 L2151.6,429.9 L2173.2,429.9Z" fill="url(#HP)" stroke="#231f20" stroke-width="1.30"/><path d="M2196.6,440.0 L2202.7,440.0 L2208.2,469.0 L2196.6,469.0Z" fill="#fff" stroke="none"/><path d="M2196.6,440.0 L2202.7,440.0 L2208.2,469.0 L2196.6,469.0Z" fill="url(#HSc)" stroke="#231f20" stroke-width="1.00"/><path d="M2196.6,469.8 L2204.7,469.8 L2204.7,480.7 L2198.8,481.5 L2196.6,478.4Z" fill="#231f20" stroke="#231f20" stroke-width="1.00"/><path d="M2149.9,440.0 L2143.7,440.0 L2138.3,469.0 L2149.9,469.0Z" fill="#fff" stroke="none"/><path d="M2149.9,440.0 L2143.7,440.0 L2138.3,469.0 L2149.9,469.0Z" fill="url(#HSc)" stroke="#231f20" stroke-width="1.00"/><path d="M2149.9,469.8 L2141.7,469.8 L2141.7,480.7 L2147.7,481.5 L2149.9,478.4Z" fill="#231f20" stroke="#231f20" stroke-width="1.00"/><path d="M2094.5,649.4 L2099.2,647.0 L2139.1,645.4 L2139.1,560.0 L2206.6,560.0 L2206.6,645.4 L2230.9,650.2 L2249.7,654.1 L2224.6,729.3 L2205.8,734.8 L2139.9,732.5 L2121.1,730.9 L2116.4,726.2Z" fill="#fff" stroke="none"/><path d="M2094.5,649.4 L2099.2,647.0 L2139.1,645.4 L2139.1,560.0 L2206.6,560.0 L2206.6,645.4 L2230.9,650.2 L2249.7,654.1 L2224.6,729.3 L2205.8,734.8 L2139.9,732.5 L2121.1,730.9 L2116.4,726.2Z" fill="url(#HP)" stroke="#231f20" stroke-width="1.30"/><path d="M2249.7,654.1 L2270.1,657.2 L2275.5,663.5 L2275.5,754.4 L2257.5,756.0 L2257.5,734.0 L2227.7,730.1Z" fill="#fff" stroke="none"/><path d="M2249.7,654.1 L2270.1,657.2 L2275.5,663.5 L2275.5,754.4 L2257.5,756.0 L2257.5,734.0 L2227.7,730.1Z" fill="url(#HR)" stroke="#231f20" stroke-width="1.30"/><path d="M2230.9,651.7 L2249.7,655.6 L2227.7,729.3 L2216.8,723.8 L2213.6,716.8 L2229.3,660.3Z" fill="#fff" stroke="none"/><path d="M2230.9,651.7 L2249.7,655.6 L2227.7,729.3 L2216.8,723.8 L2213.6,716.8 L2229.3,660.3Z" fill="url(#HR)" stroke="#231f20" stroke-width="1.30"/><path d="M2252.9,512.1 L2261.5,512.1 L2262.3,525.4 L2269.3,536.4 L2280.3,542.7 L2325.0,543.5 L2327.3,545.8 L2327.3,578.7 L2243.5,578.7 L2243.5,558.4 L2247.4,550.5 L2247.4,536.4 L2252.9,536.4Z" fill="#fff" stroke="none"/><path d="M2252.9,512.1 L2261.5,512.1 L2262.3,525.4 L2269.3,536.4 L2280.3,542.7 L2325.0,543.5 L2327.3,545.8 L2327.3,578.7 L2243.5,578.7 L2243.5,558.4 L2247.4,550.5 L2247.4,536.4 L2252.9,536.4Z" fill="url(#H45)" stroke="#231f20" stroke-width="1.30"/><path d="M2093.6,512.1 L2084.9,512.1 L2084.2,525.4 L2077.1,536.4 L2066.1,542.7 L2021.4,543.5 L2019.1,545.8 L2019.1,578.7 L2103.0,578.7 L2103.0,558.4 L2099.1,550.5 L2099.1,536.4 L2093.6,536.4Z" fill="#fff" stroke="none"/><path d="M2093.6,512.1 L2084.9,512.1 L2084.2,525.4 L2077.1,536.4 L2066.1,542.7 L2021.4,543.5 L2019.1,545.8 L2019.1,578.7 L2103.0,578.7 L2103.0,558.4 L2099.1,550.5 L2099.1,536.4 L2093.6,536.4Z" fill="url(#H45)" stroke="#231f20" stroke-width="1.30"/><path d="M2251.3,602.3 L2281.9,602.3 L2281.9,628.9 L2251.3,628.9Z" fill="#fff" stroke="none"/><path d="M2251.3,602.3 L2281.9,602.3 L2281.9,628.9 L2251.3,628.9Z" fill="url(#H45)" stroke="#231f20" stroke-width="1.30"/><path d="M2067.0,582.0 L2113.3,582.0 L2113.3,589.8 L2094.5,597.6 L2094.5,629.0 L2067.0,629.0Z" fill="#fff" stroke="none"/><path d="M2067.0,582.0 L2113.3,582.0 L2113.3,589.8 L2094.5,597.6 L2094.5,629.0 L2067.0,629.0Z" fill="url(#H45)" stroke="#231f20" stroke-width="1.30"/><path d="M2287.4,531.7 L2310.1,531.7 L2310.1,541.1 L2312.4,541.1 L2312.4,543.5 L2285.0,543.5 L2285.0,541.1 L2287.4,541.1Z" fill="#fff" stroke="#231f20" stroke-width="1.00"/><path d="M2040.7,515.0 L2065.8,515.0 L2065.8,524.4 L2067.3,524.4 L2067.3,526.8 L2038.3,526.8 L2038.3,524.4 L2040.7,524.4Z" fill="#fff" stroke="#231f20" stroke-width="1.00"/><path d="M1862.7,515.0 L1937.2,515.0 L1937.2,551.9 L1894.9,551.9 L1890.2,548.7 L1862.7,544.8Z" fill="#fff" stroke="none"/><path d="M1862.7,515.0 L1937.2,515.0 L1937.2,551.9 L1894.9,551.9 L1890.2,548.7 L1862.7,544.8Z" fill="url(#H45b)" stroke="#231f20" stroke-width="1.30"/><path d="M1974.8,527.6 L2053.2,527.6 L2053.2,544.8 L2018.7,544.8 L2018.7,579.9 L2017.2,579.9 L2017.2,551.9 L1974.8,551.9Z" fill="#fff" stroke="none"/><path d="M1974.8,527.6 L2053.2,527.6 L2053.2,544.8 L2018.7,544.8 L2018.7,579.9 L2017.2,579.9 L2017.2,551.9 L1974.8,551.9Z" fill="url(#H45b)" stroke="#231f20" stroke-width="1.30"/><path d="M1937.2,515.0 L1981.1,515.0 L1990.5,522.9 L2006.2,526.8 L1974.8,527.6 L1974.8,551.9 L1937.2,551.9Z" fill="#fff" stroke="#231f20" stroke-width="1.00"/><path d="M1948.2,515.0 L1948.2,551.9" fill="none" stroke="#231f20" stroke-width="0.80"/><path d="M2205.8,546.6 L2225.4,546.6 L2227.0,556.8 L2216.0,582.7 L2205.8,582.7Z" fill="#fff" stroke="none"/><path d="M2205.8,546.6 L2225.4,546.6 L2227.0,556.8 L2216.0,582.7 L2205.8,582.7Z" fill="url(#HB)" stroke="#231f20" stroke-width="1.00"/><path d="M2140.6,546.6 L2121.0,546.6 L2119.4,556.8 L2130.4,582.7 L2140.6,582.7Z" fill="#fff" stroke="none"/><path d="M2140.6,546.6 L2121.0,546.6 L2119.4,556.8 L2130.4,582.7 L2140.6,582.7Z" fill="url(#HB)" stroke="#231f20" stroke-width="1.00"/><path d="M2234.8,556.8 L2242.7,556.8 L2242.7,582.7 L2223.9,582.7Z" fill="#fff" stroke="none"/><path d="M2234.8,556.8 L2242.7,556.8 L2242.7,582.7 L2223.9,582.7Z" fill="url(#HB)" stroke="#231f20" stroke-width="1.00"/><path d="M2111.6,556.8 L2103.8,556.8 L2103.8,582.7 L2122.6,582.7Z" fill="#fff" stroke="none"/><path d="M2111.6,556.8 L2103.8,556.8 L2103.8,582.7 L2122.6,582.7Z" fill="url(#HB)" stroke="#231f20" stroke-width="1.00"/><path d="M2206.6,602.3 L2219.2,602.3 L2230.1,644.6 L2206.6,644.6Z" fill="#fff" stroke="none"/><path d="M2206.6,602.3 L2219.2,602.3 L2230.1,644.6 L2206.6,644.6Z" fill="url(#HB)" stroke="#231f20" stroke-width="1.00"/><path d="M2139.8,602.3 L2127.3,602.3 L2116.3,644.6 L2139.8,644.6Z" fill="#fff" stroke="none"/><path d="M2139.8,602.3 L2127.3,602.3 L2116.3,644.6 L2139.8,644.6Z" fill="url(#HB)" stroke="#231f20" stroke-width="1.00"/><path d="M2230.1,596.0 L2250.5,596.0 L2250.5,628.9 L2241.1,628.9Z" fill="#fff" stroke="none"/><path d="M2230.1,596.0 L2250.5,596.0 L2250.5,628.9 L2241.1,628.9Z" fill="url(#HB)" stroke="#231f20" stroke-width="1.00"/><path d="M2116.3,596.0 L2095.9,596.0 L2095.9,628.9 L2105.3,628.9Z" fill="#fff" stroke="none"/><path d="M2116.3,596.0 L2095.9,596.0 L2095.9,628.9 L2105.3,628.9Z" fill="url(#HB)" stroke="#231f20" stroke-width="1.00"/><path d="M2206.6,580.3 L2212.9,580.3 L2212.9,602.3 L2206.6,602.3Z" fill="#fff" stroke="none"/><path d="M2206.6,580.3 L2212.9,580.3 L2212.9,602.3 L2206.6,602.3Z" fill="url(#HBh)" stroke="#231f20" stroke-width="1.00"/><path d="M2139.8,580.3 L2133.6,580.3 L2133.6,602.3 L2139.8,602.3Z" fill="#fff" stroke="none"/><path d="M2139.8,580.3 L2133.6,580.3 L2133.6,602.3 L2139.8,602.3Z" fill="url(#HBh)" stroke="#231f20" stroke-width="1.00"/><path d="M2222.3,494.1 L2255.2,494.1 L2259.9,497.2 L2270.1,519.2 L2266.2,519.9 L2256.8,501.9 L2223.9,501.9 L2221.5,508.2Z" fill="#fff" stroke="#231f20" stroke-width="1.20"/><path d="M2221.5,508.2 L2251.3,508.2 L2251.3,536.4 L2221.5,536.4Z" fill="#fff" stroke="#231f20" stroke-width="2.00"/><path d="M2225.4,512.9 L2247.4,512.9 L2247.4,520.7 L2230.1,520.7 L2230.1,525.4 L2247.4,525.4 L2247.4,533.3 L2225.4,533.3Z" fill="none" stroke="#231f20" stroke-width="1.60"/><path d="M2124.1,494.1 L2091.2,494.1 L2086.5,497.2 L2076.3,519.2 L2080.2,519.9 L2089.7,501.9 L2122.6,501.9 L2124.9,508.2Z" fill="#fff" stroke="#231f20" stroke-width="1.20"/><path d="M2124.9,508.2 L2095.1,508.2 L2095.1,536.4 L2124.9,536.4Z" fill="#fff" stroke="#231f20" stroke-width="2.00"/><path d="M2121.0,512.9 L2099.1,512.9 L2099.1,520.7 L2116.3,520.7 L2116.3,525.4 L2099.1,525.4 L2099.1,533.3 L2121.0,533.3Z" fill="none" stroke="#231f20" stroke-width="1.60"/><path d="M2079.9,836.4 L2116.8,834.9 L2119.9,827.0 L2167.7,824.7 L2170.9,815.3 L2194.4,811.4 L2210.1,838.0 L2210.1,856.8 L2145.8,856.8 L2145.8,844.3 L2141.9,844.3 L2141.9,849.0 L2081.5,849.0Z" fill="#fff" stroke="none"/><path d="M2079.9,836.4 L2116.8,834.9 L2119.9,827.0 L2167.7,824.7 L2170.9,815.3 L2194.4,811.4 L2210.1,838.0 L2210.1,856.8 L2145.8,856.8 L2145.8,844.3 L2141.9,844.3 L2141.9,849.0 L2081.5,849.0Z" fill="url(#HV)" stroke="#231f20" stroke-width="1.30"/><path d="M2079.9,943.1 L2116.8,944.6 L2119.9,952.5 L2167.7,954.8 L2170.9,964.2 L2194.4,968.1 L2210.1,941.5 L2210.1,922.7 L2145.8,922.7 L2145.8,935.2 L2141.9,935.2 L2141.9,930.5 L2081.5,930.5Z" fill="#fff" stroke="none"/><path d="M2079.9,943.1 L2116.8,944.6 L2119.9,952.5 L2167.7,954.8 L2170.9,964.2 L2194.4,968.1 L2210.1,941.5 L2210.1,922.7 L2145.8,922.7 L2145.8,935.2 L2141.9,935.2 L2141.9,930.5 L2081.5,930.5Z" fill="url(#HV)" stroke="#231f20" stroke-width="1.30"/><path d="M2141.9,849.0 L2141.9,930.5 L2145.8,930.5 L2145.8,849.0Z" fill="none" stroke="#231f20" stroke-width="1.00"/><path d="M2081.5,849.0 L2141.9,849.0 L2141.9,930.5 L2081.5,930.5Z" fill="#fff" stroke="#231f20" stroke-width="1.00"/><path d="M2148.1,856.8 L2210.1,856.8 L2210.1,921.9 L2148.1,921.9Z" fill="#2e2a2b" stroke="#231f20" stroke-width="1.00"/><path d="M2272.5,855.6 L2336.0,855.6 L2336.0,922.3 L2272.5,922.3Z" fill="#2e2a2b" stroke="#231f20" stroke-width="1.00"/><path d="M2148.1,856.8 L2210.1,856.8 L2210.1,921.9 L2148.1,921.9Z" fill="url(#HSP)" stroke="none"/><path d="M2272.5,855.6 L2336.0,855.6 L2336.0,922.3 L2272.5,922.3Z" fill="url(#HSP)" stroke="none"/><path d="M2272.5,838.4 L2285.9,819.6 L2307.8,816.4 L2314.1,841.5 L2339.2,844.7 L2339.2,855.6 L2272.5,855.6Z" fill="#fff" stroke="none"/><path d="M2272.5,838.4 L2285.9,819.6 L2307.8,816.4 L2314.1,841.5 L2339.2,844.7 L2339.2,855.6 L2272.5,855.6Z" fill="url(#HS)" stroke="#231f20" stroke-width="1.30"/><path d="M2272.5,939.4 L2285.9,958.2 L2307.8,961.3 L2314.1,936.2 L2339.2,933.1 L2339.2,922.1 L2272.5,922.1Z" fill="#fff" stroke="none"/><path d="M2272.5,939.4 L2285.9,958.2 L2307.8,961.3 L2314.1,936.2 L2339.2,933.1 L2339.2,922.1 L2272.5,922.1Z" fill="url(#HS)" stroke="#231f20" stroke-width="1.30"/><path d="M2343.9,849.4 L2401.9,849.4 L2401.9,927.0 L2343.9,927.0Z" fill="#fff" stroke="#231f20" stroke-width="1.00"/><path d="M2339.2,844.7 L2342.3,844.7 L2342.3,932.5 L2339.2,932.5Z" fill="none" stroke="#231f20" stroke-width="1.00"/><path d="M2314.1,822.7 L2361.1,824.3 L2364.2,833.7 L2401.9,835.3 L2401.9,849.4 L2343.9,849.4 L2342.3,844.7 L2314.1,841.5Z" fill="#fff" stroke="none"/><path d="M2314.1,822.7 L2361.1,824.3 L2364.2,833.7 L2401.9,835.3 L2401.9,849.4 L2343.9,849.4 L2342.3,844.7 L2314.1,841.5Z" fill="url(#HCR)" stroke="#231f20" stroke-width="1.30"/><path d="M2314.1,955.0 L2361.1,953.5 L2364.2,944.1 L2401.9,942.5 L2401.9,928.4 L2343.9,928.4 L2342.3,933.1 L2314.1,936.2Z" fill="#fff" stroke="none"/><path d="M2314.1,955.0 L2361.1,953.5 L2364.2,944.1 L2401.9,942.5 L2401.9,928.4 L2343.9,928.4 L2342.3,933.1 L2314.1,936.2Z" fill="url(#HCR)" stroke="#231f20" stroke-width="1.30"/><path d="M2195.9,811.4 L2225.7,797.2 L2225.7,838.0 L2210.1,839.6Z" fill="#fff" stroke="none"/><path d="M2195.9,811.4 L2225.7,797.2 L2225.7,838.0 L2210.1,839.6Z" fill="url(#HBd)" stroke="#231f20" stroke-width="1.30"/><path d="M2195.9,968.1 L2225.7,982.3 L2225.7,941.5 L2210.1,939.9Z" fill="#fff" stroke="none"/><path d="M2195.9,968.1 L2225.7,982.3 L2225.7,941.5 L2210.1,939.9Z" fill="url(#HBd)" stroke="#231f20" stroke-width="1.30"/><path d="M2257.1,797.2 L2286.9,811.4 L2272.8,839.6 L2257.1,838.0Z" fill="#fff" stroke="none"/><path d="M2257.1,797.2 L2286.9,811.4 L2272.8,839.6 L2257.1,838.0Z" fill="url(#HBd)" stroke="#231f20" stroke-width="1.30"/><path d="M2257.1,982.3 L2286.9,968.1 L2272.8,939.9 L2257.1,941.5Z" fill="#fff" stroke="none"/><path d="M2257.1,982.3 L2286.9,968.1 L2272.8,939.9 L2257.1,941.5Z" fill="url(#HBd)" stroke="#231f20" stroke-width="1.30"/><path d="M2225.7,772.0 L2257.1,772.0 L2257.1,863.1 L2246.1,867.8 L2236.7,867.8 L2225.7,863.1Z" fill="#fff" stroke="none"/><path d="M2225.7,772.0 L2257.1,772.0 L2257.1,863.1 L2246.1,867.8 L2236.7,867.8 L2225.7,863.1Z" fill="url(#HX)" stroke="#231f20" stroke-width="1.30"/><path d="M2225.7,1008.9 L2257.1,1008.9 L2257.1,918.0 L2246.1,913.3 L2236.7,913.3 L2225.7,918.0Z" fill="#fff" stroke="none"/><path d="M2225.7,1008.9 L2257.1,1008.9 L2257.1,918.0 L2246.1,913.3 L2236.7,913.3 L2225.7,918.0Z" fill="url(#HX)" stroke="#231f20" stroke-width="1.30"/><path d="M2236.7,867.8 L2246.1,867.8 L2246.1,913.3 L2236.7,913.3Z" fill="none" stroke="#231f20" stroke-width="1.00"/><path d="M2211.6,841.1 L2224.2,847.4 L2211.6,853.7" fill="none" stroke="#231f20" stroke-width="0.90"/><path d="M2271.2,841.1 L2258.7,847.4 L2271.2,853.7" fill="none" stroke="#231f20" stroke-width="0.90"/><path d="M2211.6,861.5 L2224.2,867.8 L2211.6,874.1" fill="none" stroke="#231f20" stroke-width="0.90"/><path d="M2271.2,861.5 L2258.7,867.8 L2271.2,874.1" fill="none" stroke="#231f20" stroke-width="0.90"/><path d="M2211.6,883.5 L2224.2,889.8 L2211.6,896.0" fill="none" stroke="#231f20" stroke-width="0.90"/><path d="M2271.2,883.5 L2258.7,889.8 L2271.2,896.0" fill="none" stroke="#231f20" stroke-width="0.90"/><path d="M2211.6,905.4 L2224.2,911.7 L2211.6,918.0" fill="none" stroke="#231f20" stroke-width="0.90"/><path d="M2271.2,905.4 L2258.7,911.7 L2271.2,918.0" fill="none" stroke="#231f20" stroke-width="0.90"/><path d="M2211.6,925.8 L2224.2,932.1 L2211.6,938.4" fill="none" stroke="#231f20" stroke-width="0.90"/><path d="M2271.2,925.8 L2258.7,932.1 L2271.2,938.4" fill="none" stroke="#231f20" stroke-width="0.90"/><path d="M2061.1,805.9 L2079.1,805.9 L2079.1,824.7 L2065.8,824.7Z" fill="#fff" stroke="none"/><path d="M2061.1,805.9 L2079.1,805.9 L2079.1,824.7 L2065.8,824.7Z" fill="url(#HB)" stroke="#231f20" stroke-width="1.00"/><path d="M2080.7,806.7 L2116.0,806.7 L2116.0,833.3 L2080.7,833.3Z" fill="#fff" stroke="none"/><path d="M2080.7,806.7 L2116.0,806.7 L2116.0,833.3 L2080.7,833.3Z" fill="url(#HB)" stroke="#231f20" stroke-width="1.00"/><path d="M2061.1,942.3 L2079.1,942.3 L2079.1,961.1 L2065.8,961.1Z" fill="#fff" stroke="none"/><path d="M2061.1,942.3 L2079.1,942.3 L2079.1,961.1 L2065.8,961.1Z" fill="url(#HB)" stroke="#231f20" stroke-width="1.00"/><path d="M2080.7,943.1 L2116.0,943.1 L2116.0,969.7 L2080.7,969.7Z" fill="#fff" stroke="none"/><path d="M2080.7,943.1 L2116.0,943.1 L2116.0,969.7 L2080.7,969.7Z" fill="url(#HB)" stroke="#231f20" stroke-width="1.00"/><path d="M2363.5,807.0 L2400.3,807.0 L2400.3,835.3 L2363.5,835.3Z" fill="#fff" stroke="none"/><path d="M2363.5,807.0 L2400.3,807.0 L2400.3,835.3 L2363.5,835.3Z" fill="url(#HB)" stroke="#231f20" stroke-width="1.00"/><path d="M2401.9,807.0 L2419.1,807.0 L2419.1,822.7 L2405.0,822.7Z" fill="#fff" stroke="none"/><path d="M2401.9,807.0 L2419.1,807.0 L2419.1,822.7 L2405.0,822.7Z" fill="url(#HB)" stroke="#231f20" stroke-width="1.00"/><path d="M2363.5,941.9 L2400.3,941.9 L2400.3,970.1 L2363.5,970.1Z" fill="#fff" stroke="none"/><path d="M2363.5,941.9 L2400.3,941.9 L2400.3,970.1 L2363.5,970.1Z" fill="url(#HB)" stroke="#231f20" stroke-width="1.00"/><path d="M2401.9,970.1 L2419.1,970.1 L2419.1,954.4 L2405.0,954.4Z" fill="#fff" stroke="none"/><path d="M2401.9,970.1 L2419.1,970.1 L2419.1,954.4 L2405.0,954.4Z" fill="url(#HB)" stroke="#231f20" stroke-width="1.00"/><path d="M2063.5,811.4 L2048.6,811.4 L2048.6,822.3 L2063.5,822.3 L2063.5,833.3 L2048.6,833.3 L2048.6,844.3 L2063.5,844.3 L2063.5,855.3 L2048.6,855.3 L2048.6,866.2 L2063.5,866.2 L2063.5,877.2 L2048.6,877.2 L2048.6,888.2 L2063.5,888.2 L2063.5,899.2 L2048.6,899.2 L2048.6,910.1 L2063.5,910.1 L2063.5,921.1 L2048.6,921.1 L2048.6,932.1 L2063.5,932.1 L2063.5,943.1 L2048.6,943.1 L2048.6,954.0 L2063.5,954.0 L2063.5,954.0" fill="none" stroke="#231f20" stroke-width="1.10"/><path d="M2063.5,811.4 L2063.5,954.0" fill="none" stroke="#231f20" stroke-width="1.00"/><path d="M2072.9,822.3 L2072.9,954.0" fill="none" stroke="#231f20" stroke-width="1.00"/><path d="M2078.4,822.3 L2078.4,954.0" fill="none" stroke="#231f20" stroke-width="1.00"/><path d="M2417.6,811.7 L2432.4,811.7 L2432.4,822.8 L2417.6,822.8 L2417.6,833.9 L2432.4,833.9 L2432.4,845.0 L2417.6,845.0 L2417.6,856.1 L2432.4,856.1 L2432.4,867.2 L2417.6,867.2 L2417.6,878.3 L2432.4,878.3 L2432.4,889.4 L2417.6,889.4 L2417.6,900.5 L2432.4,900.5 L2432.4,911.6 L2417.6,911.6 L2417.6,922.7 L2432.4,922.7 L2432.4,933.8 L2417.6,933.8 L2417.6,944.9 L2432.4,944.9 L2432.4,956.0 L2417.6,956.0 L2417.6,956.0" fill="none" stroke="#231f20" stroke-width="1.10"/><path d="M2417.6,811.7 L2417.6,956.0" fill="none" stroke="#231f20" stroke-width="1.00"/><path d="M2405.0,822.7 L2405.0,954.4" fill="none" stroke="#231f20" stroke-width="1.00"/><path d="M2408.9,822.7 L2408.9,954.4" fill="none" stroke="#231f20" stroke-width="1.00"/><path d="M2058.0,970.5 L2113.6,970.5 L2113.6,1005.8 L2090.9,1005.8 L2089.3,993.2 L2058.0,991.7Z" fill="#fff" stroke="none"/><path d="M2058.0,970.5 L2113.6,970.5 L2113.6,1005.8 L2090.9,1005.8 L2089.3,993.2 L2058.0,991.7Z" fill="url(#HVd)" stroke="#231f20" stroke-width="1.30"/><path d="M2045.4,954.0 L2056.4,954.0 L2056.4,1002.6 L2043.9,1002.6 L2043.9,983.8Z" fill="#fff" stroke="none"/><path d="M2045.4,954.0 L2056.4,954.0 L2056.4,1002.6 L2043.9,1002.6 L2043.9,983.8Z" fill="url(#HB)" stroke="#231f20" stroke-width="1.00"/><path d="M2366.6,970.9 L2425.4,970.9 L2425.4,1007.7 L2392.5,1007.7 L2392.5,999.9 L2366.6,999.9Z" fill="#fff" stroke="none"/><path d="M2366.6,970.9 L2425.4,970.9 L2425.4,1007.7 L2392.5,1007.7 L2392.5,999.9 L2366.6,999.9Z" fill="url(#HBh)" stroke="#231f20" stroke-width="1.30"/><path d="M2422.3,956.0 L2436.4,956.0 L2439.5,1007.7 L2422.3,1007.7Z" fill="#fff" stroke="none"/><path d="M2422.3,956.0 L2436.4,956.0 L2439.5,1007.7 L2422.3,1007.7Z" fill="url(#HB)" stroke="#231f20" stroke-width="1.00"/><path d="M2164.6,972.9 L2195.9,965.0 L2225.7,982.3 L2225.7,1005.8 L2164.6,1005.8Z" fill="#fff" stroke="none"/><path d="M2164.6,972.9 L2195.9,965.0 L2225.7,982.3 L2225.7,1005.8 L2164.6,1005.8Z" fill="url(#HV)" stroke="#231f20" stroke-width="1.30"/><path d="M2164.6,806.7 L2195.9,814.5 L2225.7,797.2 L2225.7,773.7 L2164.6,773.7Z" fill="#fff" stroke="none"/><path d="M2164.6,806.7 L2195.9,814.5 L2225.7,797.2 L2225.7,773.7 L2164.6,773.7Z" fill="url(#HV)" stroke="#231f20" stroke-width="1.30"/><path d="M2147.3,976.0 L2164.6,976.0 L2164.6,999.5 L2147.3,999.5Z" fill="#fff" stroke="#231f20" stroke-width="1.00"/><path d="M2165.1,969.4 L2197.2,971.8 L2225.4,980.4 L2225.4,1006.3 L2165.1,1006.3Z" fill="#fff" stroke="none"/><path d="M2165.1,969.4 L2197.2,971.8 L2225.4,980.4 L2225.4,1006.3 L2165.1,1006.3Z" fill="url(#HV)" stroke="#231f20" stroke-width="1.30"/><path d="M2147.0,961.6 L2165.1,961.6 L2165.1,999.2 L2147.0,999.2Z" fill="#fff" stroke="#231f20" stroke-width="1.00"/><path d="M2258.4,982.0 L2285.0,974.1 L2302.3,974.1 L2308.5,978.8 L2350.9,982.0 L2339.9,1041.5 L2325.8,1069.8 L2311.7,1082.3 L2311.7,1085.4 L2277.2,1085.4 L2276.4,1029.0 L2272.5,1021.1 L2258.4,1021.1Z" fill="#fff" stroke="none"/><path d="M2258.4,982.0 L2285.0,974.1 L2302.3,974.1 L2308.5,978.8 L2350.9,982.0 L2339.9,1041.5 L2325.8,1069.8 L2311.7,1082.3 L2311.7,1085.4 L2277.2,1085.4 L2276.4,1029.0 L2272.5,1021.1 L2258.4,1021.1Z" fill="url(#HCR2)" stroke="#231f20" stroke-width="1.30"/><path d="M2256.0,1021.1 L2272.5,1021.1 L2275.6,1022.7 L2276.4,1029.0 L2277.2,1116.8 L2275.6,1121.5 L2270.9,1123.1 L2238.0,1133.3 L2233.3,1132.2 L2230.9,1126.2 L2213.7,1066.6 L2214.5,1061.9 L2219.2,1059.6 L2238.0,1054.1 L2256.0,1054.1Z" fill="#fff" stroke="none"/><path d="M2256.0,1021.1 L2272.5,1021.1 L2275.6,1022.7 L2276.4,1029.0 L2277.2,1116.8 L2275.6,1121.5 L2270.9,1123.1 L2238.0,1133.3 L2233.3,1132.2 L2230.9,1126.2 L2213.7,1066.6 L2214.5,1061.9 L2219.2,1059.6 L2238.0,1054.1 L2256.0,1054.1Z" fill="url(#HRG)" stroke="#231f20" stroke-width="1.30"/><path d="M2243.5,1018.8 L2256.0,1018.8 L2256.0,1052.5 L2243.5,1052.5Z" fill="#fff" stroke="#231f20" stroke-width="1.00"/><path d="M2243.5,1035.3 L2256.0,1035.3" fill="none" stroke="#231f20" stroke-width="0.80"/><path d="M2212.9,1006.3 L2212.9,1061.9" fill="none" stroke="#231f20" stroke-width="0.90"/><path d="M2219.2,1006.3 L2219.2,1060.3" fill="none" stroke="#231f20" stroke-width="0.90"/><path d="M2238.0,1005.5 L2238.0,1054.1" fill="none" stroke="#231f20" stroke-width="0.90"/><path d="M2119.2,780.7 L2160.4,774.3 L2160.4,809.2 L2147.7,825.1 L2119.2,834.6" fill="none" stroke="#231f20" stroke-width="0.90"/><path d="M2147.7,774.3 L2163.6,774.3 L2163.6,809.2 L2147.7,809.2Z" fill="none" stroke="#231f20" stroke-width="0.90"/><path d="M2206.7,736.2 L2225.1,736.2 L2225.1,771.1 L2206.7,771.1Z" fill="none" stroke="#231f20" stroke-width="0.90"/><path d="M2241.0,736.2 L2256.9,736.2 L2256.9,758.4 L2241.0,758.4Z" fill="none" stroke="#231f20" stroke-width="0.90"/><path d="M2215.6,736.2 L2215.6,771.1" fill="none" stroke="#231f20" stroke-width="0.80"/><path d="M2052.5,644.2 L2090.6,641.0 L2103.3,656.9 L2109.6,701.3" fill="none" stroke="#231f20" stroke-width="0.90"/><path d="M2309.5,809.2 L2357.1,802.9 L2360.3,825.1 L2312.7,834.6" fill="none" stroke="#231f20" stroke-width="0.90"/><path d="M2303.2,958.3 L2344.4,964.7 L2341.3,986.9 L2300.0,977.4" fill="none" stroke="#231f20" stroke-width="0.90"/>
<path d="M1718.5,1574.8 L2610.1,1574.8 L2612.9,1583.1 L2612.9,1628.4 L2610.1,1636.6 L1717.4,1636.9 L1715.2,1605.7Z" fill="#fff" stroke="none"/><path d="M1718.5,1574.8 L2610.1,1574.8 L2612.9,1583.1 L2612.9,1628.4 L2610.1,1636.6 L1717.4,1636.9 L1715.2,1605.7Z" fill="url(#WSh)" stroke="#231f20" stroke-width="1.55"/><path d="M1719.6,1473.5 L1813.2,1494.2 L1825.2,1494.2 L1828.5,1481.1 L1835.0,1478.5 L1869.9,1477.9 L1885.1,1473.1 L1941.7,1473.1 L1941.7,1497.5 L1931.9,1498.6 L1931.9,1557.4 L1850.3,1557.4 L1830.7,1554.1 L1819.8,1548.7 L1728.3,1548.2 L1722.9,1516.0Z" fill="#fff" stroke="none"/><path d="M1719.6,1473.5 L1813.2,1494.2 L1825.2,1494.2 L1828.5,1481.1 L1835.0,1478.5 L1869.9,1477.9 L1885.1,1473.1 L1941.7,1473.1 L1941.7,1497.5 L1931.9,1498.6 L1931.9,1557.4 L1850.3,1557.4 L1830.7,1554.1 L1819.8,1548.7 L1728.3,1548.2 L1722.9,1516.0Z" fill="url(#WA)" stroke="#231f20" stroke-width="1.55"/><path d="M1719.6,1738.1 L1813.2,1717.4 L1825.2,1717.4 L1828.5,1730.5 L1835.0,1733.1 L1869.9,1733.7 L1885.1,1738.5 L1941.7,1738.5 L1941.7,1714.1 L1931.9,1713.0 L1931.9,1654.2 L1850.3,1654.2 L1830.7,1657.5 L1819.8,1662.9 L1728.3,1663.4 L1722.9,1695.6Z" fill="#fff" stroke="none"/><path d="M1719.6,1738.1 L1813.2,1717.4 L1825.2,1717.4 L1828.5,1730.5 L1835.0,1733.1 L1869.9,1733.7 L1885.1,1738.5 L1941.7,1738.5 L1941.7,1714.1 L1931.9,1713.0 L1931.9,1654.2 L1850.3,1654.2 L1830.7,1657.5 L1819.8,1662.9 L1728.3,1663.4 L1722.9,1695.6Z" fill="url(#WA)" stroke="#231f20" stroke-width="1.55"/><path d="M1721.8,1486.6 L1817.6,1493.1" fill="none" stroke="#231f20" stroke-width="1.20"/><path d="M1721.8,1725.0 L1817.6,1718.5" fill="none" stroke="#231f20" stroke-width="1.20"/><path d="M1726.1,1509.5 L1808.9,1508.4 L1822.0,1500.7" fill="none" stroke="#231f20" stroke-width="1.20"/><path d="M1726.1,1702.1 L1808.9,1703.2 L1822.0,1710.9" fill="none" stroke="#231f20" stroke-width="1.20"/><path d="M1728.3,1548.2 L1728.3,1574.8" fill="none" stroke="#231f20" stroke-width="1.55"/><path d="M1728.3,1663.4 L1728.3,1636.8" fill="none" stroke="#231f20" stroke-width="1.55"/><path d="M1791.5,1548.2 L1791.5,1574.8" fill="none" stroke="#231f20" stroke-width="1.55"/><path d="M1791.5,1663.4 L1791.5,1636.8" fill="none" stroke="#231f20" stroke-width="1.55"/><path d="M1931.9,1557.4 L1931.9,1574.8" fill="none" stroke="#231f20" stroke-width="1.55"/><path d="M1931.9,1654.2 L1931.9,1636.8" fill="none" stroke="#231f20" stroke-width="1.55"/><path d="M1850.3,1557.4 L1931.9,1557.4" fill="none" stroke="#231f20" stroke-width="1.55"/><path d="M1850.3,1654.2 L1931.9,1654.2" fill="none" stroke="#231f20" stroke-width="1.55"/><path d="M1937.4,1563.9 L1950.4,1563.9 L1950.4,1574.8 L1937.4,1574.8Z" fill="none" stroke="#231f20" stroke-width="1.20"/><path d="M1937.4,1647.7 L1950.4,1647.7 L1950.4,1636.8 L1937.4,1636.8Z" fill="none" stroke="#231f20" stroke-width="1.20"/><path d="M1891.6,1430.0 L1973.3,1430.0 L1973.3,1443.0 L1885.1,1444.1 L1885.1,1437.6Z" fill="#fff" stroke="none"/><path d="M1891.6,1430.0 L1973.3,1430.0 L1973.3,1443.0 L1885.1,1444.1 L1885.1,1437.6Z" fill="url(#WA)" stroke="#231f20" stroke-width="1.55"/><path d="M1891.6,1781.6 L1973.3,1781.6 L1973.3,1768.6 L1885.1,1767.5 L1885.1,1774.0Z" fill="#fff" stroke="none"/><path d="M1891.6,1781.6 L1973.3,1781.6 L1973.3,1768.6 L1885.1,1767.5 L1885.1,1774.0Z" fill="url(#WA)" stroke="#231f20" stroke-width="1.55"/><path d="M1885.1,1444.1 L1994.0,1444.1 L1994.0,1473.5 L1885.1,1473.5Z" fill="#fff" stroke="#231f20" stroke-width="2.00"/><path d="M1885.1,1767.5 L1994.0,1767.5 L1994.0,1738.1 L1885.1,1738.1Z" fill="#fff" stroke="#231f20" stroke-width="2.00"/><path d="M1942.8,1444.1 L1942.8,1473.5" fill="none" stroke="#231f20" stroke-width="1.20"/><path d="M1942.8,1767.5 L1942.8,1738.1" fill="none" stroke="#231f20" stroke-width="1.20"/><path d="M1995.1,1431.1 L2009.2,1431.1 L2009.2,1492.0 L1995.1,1492.0Z" fill="#fff" stroke="#231f20" stroke-width="1.55"/><path d="M1995.1,1780.5 L2009.2,1780.5 L2009.2,1719.6 L1995.1,1719.6Z" fill="#fff" stroke="#231f20" stroke-width="1.55"/><path d="M2009.2,1438.7 L2037.5,1438.7 L2037.5,1489.9 L2009.2,1489.9Z" fill="#fff" stroke="#231f20" stroke-width="1.55"/><path d="M2009.2,1772.9 L2037.5,1772.9 L2037.5,1721.7 L2009.2,1721.7Z" fill="#fff" stroke="#231f20" stroke-width="1.55"/><path d="M2009.2,1456.1 L2037.5,1456.1" fill="none" stroke="#231f20" stroke-width="1.20"/><path d="M2009.2,1755.5 L2037.5,1755.5" fill="none" stroke="#231f20" stroke-width="1.20"/><path d="M2009.2,1472.4 L2037.5,1472.4" fill="none" stroke="#231f20" stroke-width="1.20"/><path d="M2009.2,1739.2 L2037.5,1739.2" fill="none" stroke="#231f20" stroke-width="1.20"/><path d="M1942.8,1473.5 L1973.3,1473.5 L1973.3,1489.9 L1983.1,1497.5 L2004.9,1498.6 L2022.3,1505.1 L2157.3,1508.4 L2232.2,1525.4 L2289.9,1526.4 L2308.4,1537.3 L2328.0,1539.5 L2450.0,1540.6 L2450.0,1550.4 L2493.6,1552.6 L2493.6,1564.6 L1950.4,1565.0 L1950.4,1562.2 L1931.9,1561.7 L1931.9,1498.6 L1941.7,1497.5Z" fill="#fff" stroke="none"/><path d="M1942.8,1473.5 L1973.3,1473.5 L1973.3,1489.9 L1983.1,1497.5 L2004.9,1498.6 L2022.3,1505.1 L2157.3,1508.4 L2232.2,1525.4 L2289.9,1526.4 L2308.4,1537.3 L2328.0,1539.5 L2450.0,1540.6 L2450.0,1550.4 L2493.6,1552.6 L2493.6,1564.6 L1950.4,1565.0 L1950.4,1562.2 L1931.9,1561.7 L1931.9,1498.6 L1941.7,1497.5Z" fill="url(#WS)" stroke="#231f20" stroke-width="1.55"/><path d="M1942.8,1738.1 L1973.3,1738.1 L1973.3,1721.7 L1983.1,1714.1 L2004.9,1713.0 L2022.3,1706.5 L2157.3,1703.2 L2232.2,1686.2 L2289.9,1685.2 L2308.4,1674.3 L2328.0,1672.1 L2450.0,1671.0 L2450.0,1661.2 L2493.6,1659.0 L2493.6,1647.0 L1950.4,1646.6 L1950.4,1649.4 L1931.9,1649.9 L1931.9,1713.0 L1941.7,1714.1Z" fill="#fff" stroke="none"/><path d="M1942.8,1738.1 L1973.3,1738.1 L1973.3,1721.7 L1983.1,1714.1 L2004.9,1713.0 L2022.3,1706.5 L2157.3,1703.2 L2232.2,1686.2 L2289.9,1685.2 L2308.4,1674.3 L2328.0,1672.1 L2450.0,1671.0 L2450.0,1661.2 L2493.6,1659.0 L2493.6,1647.0 L1950.4,1646.6 L1950.4,1649.4 L1931.9,1649.9 L1931.9,1713.0 L1941.7,1714.1Z" fill="url(#WS)" stroke="#231f20" stroke-width="1.55"/><path d="M2328.1,1527.6 L2450.0,1527.6 L2450.0,1540.6 L2330.3,1539.5Z" fill="#fff" stroke="none"/><path d="M2328.1,1527.6 L2450.0,1527.6 L2450.0,1540.6 L2330.3,1539.5Z" fill="url(#WSd)" stroke="#231f20" stroke-width="1.55"/><path d="M2328.1,1684.0 L2450.0,1684.0 L2450.0,1670.9 L2330.3,1672.0Z" fill="#fff" stroke="none"/><path d="M2328.1,1684.0 L2450.0,1684.0 L2450.0,1670.9 L2330.3,1672.0Z" fill="url(#WSd)" stroke="#231f20" stroke-width="1.55"/><path d="M1968.9,1332.0 L2089.8,1332.0 L2118.1,1365.7 L2065.9,1365.7 L2065.9,1377.7 L2032.1,1377.7 L2032.1,1394.0 L1995.1,1394.0 L1995.1,1415.8 L1974.4,1437.6 L1974.4,1428.9 L1968.9,1428.9Z" fill="#fff" stroke="none"/><path d="M1968.9,1332.0 L2089.8,1332.0 L2118.1,1365.7 L2065.9,1365.7 L2065.9,1377.7 L2032.1,1377.7 L2032.1,1394.0 L1995.1,1394.0 L1995.1,1415.8 L1974.4,1437.6 L1974.4,1428.9 L1968.9,1428.9Z" fill="url(#WB)" stroke="#231f20" stroke-width="1.55"/><path d="M1968.9,1879.6 L2089.8,1879.6 L2118.1,1845.9 L2065.9,1845.9 L2065.9,1833.9 L2032.1,1833.9 L2032.1,1817.6 L1995.1,1817.6 L1995.1,1795.8 L1974.4,1774.0 L1974.4,1782.7 L1968.9,1782.7Z" fill="#fff" stroke="none"/><path d="M1968.9,1879.6 L2089.8,1879.6 L2118.1,1845.9 L2065.9,1845.9 L2065.9,1833.9 L2032.1,1833.9 L2032.1,1817.6 L1995.1,1817.6 L1995.1,1795.8 L1974.4,1774.0 L1974.4,1782.7 L1968.9,1782.7Z" fill="url(#WB)" stroke="#231f20" stroke-width="1.55"/><path d="M2089.8,1332.0 L2137.7,1332.0 L2174.7,1340.7 L2183.4,1349.4 L2184.5,1407.1 L2188.9,1412.6 L2200.0,1412.6 L2200.0,1424.5 L2183.4,1424.5 L2149.7,1394.0 L2149.7,1373.4 L2123.6,1373.4 L2118.1,1365.7Z" fill="#fff" stroke="none"/><path d="M2089.8,1332.0 L2137.7,1332.0 L2174.7,1340.7 L2183.4,1349.4 L2184.5,1407.1 L2188.9,1412.6 L2200.0,1412.6 L2200.0,1424.5 L2183.4,1424.5 L2149.7,1394.0 L2149.7,1373.4 L2123.6,1373.4 L2118.1,1365.7Z" fill="url(#WBr)" stroke="#231f20" stroke-width="1.55"/><path d="M2089.8,1879.6 L2137.7,1879.6 L2174.7,1870.9 L2183.4,1862.2 L2184.5,1804.5 L2188.9,1799.1 L2200.0,1799.1 L2200.0,1787.1 L2183.4,1787.1 L2149.7,1817.6 L2149.7,1838.2 L2123.6,1838.2 L2118.1,1845.9Z" fill="#fff" stroke="none"/><path d="M2089.8,1879.6 L2137.7,1879.6 L2174.7,1870.9 L2183.4,1862.2 L2184.5,1804.5 L2188.9,1799.1 L2200.0,1799.1 L2200.0,1787.1 L2183.4,1787.1 L2149.7,1817.6 L2149.7,1838.2 L2123.6,1838.2 L2118.1,1845.9Z" fill="url(#WBr)" stroke="#231f20" stroke-width="1.55"/><path d="M1965.7,1345.0 L2102.9,1345.0 L2102.9,1365.7 L1965.7,1365.7Z" fill="#fff" stroke="#231f20" stroke-width="2.00"/><path d="M1965.7,1866.6 L2102.9,1866.6 L2102.9,1845.9 L1965.7,1845.9Z" fill="#fff" stroke="#231f20" stroke-width="2.00"/><path d="M2102.9,1347.2 L2117.0,1347.2 L2122.5,1354.8 L2117.0,1363.6 L2102.9,1363.6Z" fill="#fff" stroke="#231f20" stroke-width="1.55"/><path d="M2102.9,1864.4 L2117.0,1864.4 L2122.5,1856.8 L2117.0,1848.0 L2102.9,1848.0Z" fill="#fff" stroke="#231f20" stroke-width="1.55"/><path d="M1953.7,1338.5 L1965.7,1338.5 L1965.7,1377.7 L1953.7,1377.7Z" fill="#fff" stroke="#231f20" stroke-width="1.55"/><path d="M1953.7,1873.1 L1965.7,1873.1 L1965.7,1833.9 L1953.7,1833.9Z" fill="#fff" stroke="#231f20" stroke-width="1.55"/><path d="M1953.7,1393.0 L1965.7,1393.0 L1965.7,1426.7 L1953.7,1426.7Z" fill="#fff" stroke="#231f20" stroke-width="1.55"/><path d="M1953.7,1818.6 L1965.7,1818.6 L1965.7,1784.9 L1953.7,1784.9Z" fill="#fff" stroke="#231f20" stroke-width="1.55"/><path d="M1995.1,1394.0 L2031.0,1394.0 L2032.1,1377.7 L2065.9,1377.7 L2065.9,1462.6 L2048.4,1463.7 L2041.9,1428.9 L2035.4,1418.0 L1995.1,1415.8Z" fill="#fff" stroke="none"/><path d="M1995.1,1394.0 L2031.0,1394.0 L2032.1,1377.7 L2065.9,1377.7 L2065.9,1462.6 L2048.4,1463.7 L2041.9,1428.9 L2035.4,1418.0 L1995.1,1415.8Z" fill="url(#WP)" stroke="#231f20" stroke-width="1.55"/><path d="M1995.1,1817.6 L2031.0,1817.6 L2032.1,1833.9 L2065.9,1833.9 L2065.9,1749.0 L2048.4,1747.9 L2041.9,1782.7 L2035.4,1793.6 L1995.1,1795.8Z" fill="#fff" stroke="none"/><path d="M1995.1,1817.6 L2031.0,1817.6 L2032.1,1833.9 L2065.9,1833.9 L2065.9,1749.0 L2048.4,1747.9 L2041.9,1782.7 L2035.4,1793.6 L1995.1,1795.8Z" fill="url(#WP)" stroke="#231f20" stroke-width="1.55"/><path d="M2008.1,1395.1 L2015.8,1395.1 L2015.8,1403.8 L2008.1,1403.8Z" fill="#231f20" stroke="#231f20" stroke-width="1.55"/><path d="M2008.1,1816.5 L2015.8,1816.5 L2015.8,1807.8 L2008.1,1807.8Z" fill="#231f20" stroke="#231f20" stroke-width="1.55"/><path d="M2046.3,1378.8 L2053.9,1378.8 L2053.9,1387.5 L2046.3,1387.5Z" fill="#231f20" stroke="#231f20" stroke-width="1.55"/><path d="M2046.3,1832.8 L2053.9,1832.8 L2053.9,1824.1 L2046.3,1824.1Z" fill="#231f20" stroke="#231f20" stroke-width="1.55"/><path d="M2066.9,1373.4 L2149.7,1373.4 L2149.7,1472.4 L2066.9,1472.4Z" fill="#fff" stroke="none"/><path d="M2066.9,1373.4 L2149.7,1373.4 L2149.7,1472.4 L2066.9,1472.4Z" fill="url(#WDK)" stroke="#231f20" stroke-width="1.40"/><path d="M2066.9,1838.2 L2149.7,1838.2 L2149.7,1739.2 L2066.9,1739.2Z" fill="#fff" stroke="none"/><path d="M2066.9,1838.2 L2149.7,1838.2 L2149.7,1739.2 L2066.9,1739.2Z" fill="url(#WDK)" stroke="#231f20" stroke-width="1.40"/><path d="M2070.2,1377.7 L2076.1,1377.7 L2076.1,1473.5 L2070.2,1473.5Z" fill="#fff" stroke="#231f20" stroke-width="0.90"/><path d="M2070.2,1833.9 L2076.1,1833.9 L2076.1,1738.1 L2070.2,1738.1Z" fill="#fff" stroke="#231f20" stroke-width="0.90"/><path d="M2081.5,1377.7 L2087.4,1377.7 L2087.4,1473.5 L2081.5,1473.5Z" fill="#fff" stroke="#231f20" stroke-width="0.90"/><path d="M2081.5,1833.9 L2087.4,1833.9 L2087.4,1738.1 L2081.5,1738.1Z" fill="#fff" stroke="#231f20" stroke-width="0.90"/><path d="M2092.9,1377.7 L2098.7,1377.7 L2098.7,1473.5 L2092.9,1473.5Z" fill="#fff" stroke="#231f20" stroke-width="0.90"/><path d="M2092.9,1833.9 L2098.7,1833.9 L2098.7,1738.1 L2092.9,1738.1Z" fill="#fff" stroke="#231f20" stroke-width="0.90"/><path d="M2104.2,1377.7 L2110.1,1377.7 L2110.1,1473.5 L2104.2,1473.5Z" fill="#fff" stroke="#231f20" stroke-width="0.90"/><path d="M2104.2,1833.9 L2110.1,1833.9 L2110.1,1738.1 L2104.2,1738.1Z" fill="#fff" stroke="#231f20" stroke-width="0.90"/><path d="M2115.5,1377.7 L2121.4,1377.7 L2121.4,1473.5 L2115.5,1473.5Z" fill="#fff" stroke="#231f20" stroke-width="0.90"/><path d="M2115.5,1833.9 L2121.4,1833.9 L2121.4,1738.1 L2115.5,1738.1Z" fill="#fff" stroke="#231f20" stroke-width="0.90"/><path d="M2126.8,1377.7 L2132.7,1377.7 L2132.7,1473.5 L2126.8,1473.5Z" fill="#fff" stroke="#231f20" stroke-width="0.90"/><path d="M2126.8,1833.9 L2132.7,1833.9 L2132.7,1738.1 L2126.8,1738.1Z" fill="#fff" stroke="#231f20" stroke-width="0.90"/><path d="M2138.2,1377.7 L2144.0,1377.7 L2144.0,1473.5 L2138.2,1473.5Z" fill="#fff" stroke="#231f20" stroke-width="0.90"/><path d="M2138.2,1833.9 L2144.0,1833.9 L2144.0,1738.1 L2138.2,1738.1Z" fill="#fff" stroke="#231f20" stroke-width="0.90"/><path d="M2060.4,1472.4 L2234.4,1472.0 L2232.2,1487.2 L2231.4,1525.4 L2157.3,1506.2 L2060.4,1500.7Z" fill="#fff" stroke="none"/><path d="M2060.4,1472.4 L2234.4,1472.0 L2232.2,1487.2 L2231.4,1525.4 L2157.3,1506.2 L2060.4,1500.7Z" fill="url(#WS)" stroke="#231f20" stroke-width="1.55"/><path d="M2060.4,1739.2 L2234.4,1739.6 L2232.2,1724.4 L2231.4,1686.2 L2157.3,1705.4 L2060.4,1710.9Z" fill="#fff" stroke="none"/><path d="M2060.4,1739.2 L2234.4,1739.6 L2232.2,1724.4 L2231.4,1686.2 L2157.3,1705.4 L2060.4,1710.9Z" fill="url(#WS)" stroke="#231f20" stroke-width="1.55"/><path d="M2198.5,1444.8 L2212.7,1444.8 L2217.0,1452.4 L2212.7,1461.1 L2198.5,1461.1Z" fill="#231f20" stroke="#231f20" stroke-width="1.55"/><path d="M2198.5,1766.8 L2212.7,1766.8 L2217.0,1759.1 L2212.7,1750.4 L2198.5,1750.4Z" fill="#231f20" stroke="#231f20" stroke-width="1.55"/><path d="M2163.9,1446.3 L2179.1,1446.3 L2183.4,1453.9 L2179.1,1461.6 L2163.9,1461.6Z" fill="#231f20" stroke="#231f20" stroke-width="1.55"/><path d="M2163.9,1765.3 L2179.1,1765.3 L2183.4,1757.7 L2179.1,1750.1 L2163.9,1750.1Z" fill="#231f20" stroke="#231f20" stroke-width="1.55"/><path d="M2188.7,1492.7 L2229.0,1492.7 L2229.0,1511.2 L2188.7,1511.2Z" fill="#fff" stroke="#231f20" stroke-width="3.00"/><path d="M2188.7,1718.9 L2229.0,1718.9 L2229.0,1700.3 L2188.7,1700.3Z" fill="#fff" stroke="#231f20" stroke-width="3.00"/><path d="M2195.2,1498.2 L2206.1,1498.2 L2206.1,1506.9 L2195.2,1506.9Z" fill="none" stroke="#231f20" stroke-width="2.00"/><path d="M2195.2,1713.4 L2206.1,1713.4 L2206.1,1704.7 L2195.2,1704.7Z" fill="none" stroke="#231f20" stroke-width="2.00"/><path d="M2212.7,1498.2 L2223.6,1498.2 L2223.6,1506.9 L2212.7,1506.9Z" fill="none" stroke="#231f20" stroke-width="2.00"/><path d="M2212.7,1713.4 L2223.6,1713.4 L2223.6,1704.7 L2212.7,1704.7Z" fill="none" stroke="#231f20" stroke-width="2.00"/><path d="M2242.1,1365.3 L2297.6,1363.2 L2299.3,1355.5 L2299.3,1319.6 L2306.3,1318.5 L2306.3,1306.5 L2334.6,1306.5 L2335.1,1355.5 L2336.4,1370.8 L2342.2,1373.4 L2430.4,1375.1 L2606.8,1381.7 L2606.8,1413.2 L2528.4,1413.2 L2521.9,1402.4 L2513.2,1399.1 L2430.4,1399.1 L2419.5,1404.5 L2417.4,1415.4 L2417.4,1480.7 L2374.9,1481.8 L2374.9,1491.6 L2358.6,1492.7 L2352.0,1485.1 L2341.1,1479.7 L2325.9,1479.7 L2315.0,1485.1 L2308.5,1492.7 L2290.0,1492.7 L2288.9,1482.9 L2242.1,1480.7Z" fill="#fff" stroke="none"/><path d="M2242.1,1365.3 L2297.6,1363.2 L2299.3,1355.5 L2299.3,1319.6 L2306.3,1318.5 L2306.3,1306.5 L2334.6,1306.5 L2335.1,1355.5 L2336.4,1370.8 L2342.2,1373.4 L2430.4,1375.1 L2606.8,1381.7 L2606.8,1413.2 L2528.4,1413.2 L2521.9,1402.4 L2513.2,1399.1 L2430.4,1399.1 L2419.5,1404.5 L2417.4,1415.4 L2417.4,1480.7 L2374.9,1481.8 L2374.9,1491.6 L2358.6,1492.7 L2352.0,1485.1 L2341.1,1479.7 L2325.9,1479.7 L2315.0,1485.1 L2308.5,1492.7 L2290.0,1492.7 L2288.9,1482.9 L2242.1,1480.7Z" fill="url(#WH)" stroke="#231f20" stroke-width="1.55"/><path d="M2242.1,1846.3 L2297.6,1848.4 L2299.3,1856.1 L2299.3,1892.0 L2306.3,1893.1 L2306.3,1905.1 L2334.6,1905.1 L2335.1,1856.1 L2336.4,1840.8 L2342.2,1838.2 L2430.4,1836.5 L2606.8,1829.9 L2606.8,1798.3 L2528.4,1798.3 L2521.9,1809.2 L2513.2,1812.5 L2430.4,1812.5 L2419.5,1807.1 L2417.4,1796.2 L2417.4,1730.8 L2374.9,1729.7 L2374.9,1719.9 L2358.6,1718.9 L2352.0,1726.5 L2341.1,1731.9 L2325.9,1731.9 L2315.0,1726.5 L2308.5,1718.9 L2290.0,1718.9 L2288.9,1728.7 L2242.1,1730.8Z" fill="#fff" stroke="none"/><path d="M2242.1,1846.3 L2297.6,1848.4 L2299.3,1856.1 L2299.3,1892.0 L2306.3,1893.1 L2306.3,1905.1 L2334.6,1905.1 L2335.1,1856.1 L2336.4,1840.8 L2342.2,1838.2 L2430.4,1836.5 L2606.8,1829.9 L2606.8,1798.3 L2528.4,1798.3 L2521.9,1809.2 L2513.2,1812.5 L2430.4,1812.5 L2419.5,1807.1 L2417.4,1796.2 L2417.4,1730.8 L2374.9,1729.7 L2374.9,1719.9 L2358.6,1718.9 L2352.0,1726.5 L2341.1,1731.9 L2325.9,1731.9 L2315.0,1726.5 L2308.5,1718.9 L2290.0,1718.9 L2288.9,1728.7 L2242.1,1730.8Z" fill="url(#WH)" stroke="#231f20" stroke-width="1.55"/><path d="M2307.4,1321.8 L2367.3,1321.8 L2367.3,1353.4 L2307.4,1353.4Z" fill="#fff" stroke="#231f20" stroke-width="2.00"/><path d="M2307.4,1889.8 L2367.3,1889.8 L2367.3,1858.2 L2307.4,1858.2Z" fill="#fff" stroke="#231f20" stroke-width="2.00"/><path d="M2299.3,1319.6 L2307.4,1319.6 L2307.4,1354.4 L2299.3,1354.4Z" fill="#fff" stroke="#231f20" stroke-width="1.55"/><path d="M2299.3,1892.0 L2307.4,1892.0 L2307.4,1857.1 L2299.3,1857.1Z" fill="#fff" stroke="#231f20" stroke-width="1.55"/><path d="M2367.3,1325.0 L2386.9,1325.0 L2386.9,1351.2 L2367.3,1351.2Z" fill="#fff" stroke="#231f20" stroke-width="1.55"/><path d="M2367.3,1886.5 L2386.9,1886.5 L2386.9,1860.4 L2367.3,1860.4Z" fill="#fff" stroke="#231f20" stroke-width="1.55"/><path d="M2386.9,1309.8 L2392.3,1309.8 L2399.9,1318.5 L2399.9,1365.3 L2392.3,1373.0 L2386.9,1373.0Z" fill="#fff" stroke="#231f20" stroke-width="2.00"/><path d="M2386.9,1901.8 L2392.3,1901.8 L2399.9,1893.1 L2399.9,1846.3 L2392.3,1838.6 L2386.9,1838.6Z" fill="#fff" stroke="#231f20" stroke-width="2.00"/><path d="M2399.9,1318.5 L2426.1,1318.5 L2426.1,1373.0 L2399.9,1373.0Z" fill="#fff" stroke="#231f20" stroke-width="2.00"/><path d="M2399.9,1893.1 L2426.1,1893.1 L2426.1,1838.6 L2399.9,1838.6Z" fill="#fff" stroke="#231f20" stroke-width="2.00"/><path d="M2399.9,1338.1 L2426.1,1338.1" fill="none" stroke="#231f20" stroke-width="1.55"/><path d="M2399.9,1873.5 L2426.1,1873.5" fill="none" stroke="#231f20" stroke-width="1.55"/><path d="M2399.9,1356.6 L2426.1,1356.6" fill="none" stroke="#231f20" stroke-width="1.55"/><path d="M2399.9,1855.0 L2426.1,1855.0" fill="none" stroke="#231f20" stroke-width="1.55"/><path d="M2426.1,1325.0 L2432.6,1325.0 L2432.6,1349.0 L2426.1,1349.0Z" fill="#fff" stroke="#231f20" stroke-width="1.55"/><path d="M2426.1,1886.5 L2432.6,1886.5 L2432.6,1862.6 L2426.1,1862.6Z" fill="#fff" stroke="#231f20" stroke-width="1.55"/><path d="M2335.7,1358.8 L2371.6,1358.8 L2371.6,1371.9 L2339.0,1371.9Z" fill="#fff" stroke="#231f20" stroke-width="1.55"/><path d="M2335.7,1852.8 L2371.6,1852.8 L2371.6,1839.7 L2339.0,1839.7Z" fill="#fff" stroke="#231f20" stroke-width="1.55"/><path d="M2201.8,1413.2 L2242.1,1402.4 L2242.1,1480.7 L2232.3,1487.3 L2193.1,1428.5 L2201.8,1426.3Z" fill="#fff" stroke="none"/><path d="M2201.8,1413.2 L2242.1,1402.4 L2242.1,1480.7 L2232.3,1487.3 L2193.1,1428.5 L2201.8,1426.3Z" fill="url(#WBr)" stroke="#231f20" stroke-width="1.55"/><path d="M2201.8,1798.3 L2242.1,1809.2 L2242.1,1730.8 L2232.3,1724.3 L2193.1,1783.1 L2201.8,1785.3Z" fill="#fff" stroke="none"/><path d="M2201.8,1798.3 L2242.1,1809.2 L2242.1,1730.8 L2232.3,1724.3 L2193.1,1783.1 L2201.8,1785.3Z" fill="url(#WBr)" stroke="#231f20" stroke-width="1.55"/><path d="M2220.3,1363.2 L2246.4,1363.2 L2246.4,1369.7 L2241.0,1370.8 L2241.0,1381.7 L2220.3,1381.7Z" fill="#fff" stroke="#231f20" stroke-width="1.55"/><path d="M2220.3,1848.4 L2246.4,1848.4 L2246.4,1841.9 L2241.0,1840.8 L2241.0,1829.9 L2220.3,1829.9Z" fill="#fff" stroke="#231f20" stroke-width="1.55"/><path d="M2220.3,1363.2 L2241.0,1381.7" fill="none" stroke="#231f20" stroke-width="1.10"/><path d="M2220.3,1848.4 L2241.0,1829.9" fill="none" stroke="#231f20" stroke-width="1.10"/><path d="M2220.3,1381.7 L2241.0,1363.2" fill="none" stroke="#231f20" stroke-width="1.10"/><path d="M2220.3,1829.9 L2241.0,1848.4" fill="none" stroke="#231f20" stroke-width="1.10"/><path d="M2197.4,1377.3 L2219.2,1377.3 L2219.2,1412.2 L2197.4,1412.2Z" fill="#fff" stroke="#231f20" stroke-width="1.55"/><path d="M2197.4,1834.3 L2219.2,1834.3 L2219.2,1799.4 L2197.4,1799.4Z" fill="#fff" stroke="#231f20" stroke-width="1.55"/><path d="M2219.2,1381.7 L2288.9,1381.7 L2296.5,1389.3 L2288.9,1400.6 L2219.2,1400.6Z" fill="#fff" stroke="#231f20" stroke-width="2.00"/><path d="M2219.2,1829.9 L2288.9,1829.9 L2296.5,1822.3 L2288.9,1811.0 L2219.2,1811.0Z" fill="#fff" stroke="#231f20" stroke-width="2.00"/><path d="M2238.8,1481.8 L2287.8,1481.8 L2288.9,1492.7 L2238.8,1487.3Z" fill="#fff" stroke="#231f20" stroke-width="1.55"/><path d="M2238.8,1729.7 L2287.8,1729.7 L2288.9,1718.9 L2238.8,1724.3Z" fill="#fff" stroke="#231f20" stroke-width="1.55"/><path d="M2238.8,1488.4 L2287.8,1497.1 L2285.6,1514.5 L2235.5,1501.4Z" fill="#fff" stroke="#231f20" stroke-width="2.00"/><path d="M2238.8,1723.2 L2287.8,1714.5 L2285.6,1697.1 L2235.5,1710.1Z" fill="#fff" stroke="#231f20" stroke-width="2.00"/><path d="M2233.4,1501.4 L2285.6,1515.6 L2290.0,1525.4 L2232.3,1525.4Z" fill="#fff" stroke="#231f20" stroke-width="1.55"/><path d="M2233.4,1710.1 L2285.6,1696.0 L2290.0,1686.2 L2232.3,1686.2Z" fill="#fff" stroke="#231f20" stroke-width="1.55"/><path d="M2425.0,1481.8 L2376.0,1481.8 L2374.9,1492.7 L2425.0,1487.3Z" fill="#fff" stroke="#231f20" stroke-width="1.55"/><path d="M2425.0,1729.7 L2376.0,1729.7 L2374.9,1718.9 L2425.0,1724.3Z" fill="#fff" stroke="#231f20" stroke-width="1.55"/><path d="M2425.0,1488.4 L2376.0,1497.1 L2378.2,1514.5 L2428.3,1501.4Z" fill="#fff" stroke="#231f20" stroke-width="2.00"/><path d="M2425.0,1723.2 L2376.0,1714.5 L2378.2,1697.1 L2428.3,1710.1Z" fill="#fff" stroke="#231f20" stroke-width="2.00"/><path d="M2430.4,1501.4 L2378.2,1515.6 L2373.8,1525.4 L2431.5,1525.4Z" fill="#fff" stroke="#231f20" stroke-width="1.55"/><path d="M2430.4,1710.1 L2378.2,1696.0 L2373.8,1686.2 L2431.5,1686.2Z" fill="#fff" stroke="#231f20" stroke-width="1.55"/><path d="M2309.6,1536.3 L2309.6,1496.0 L2319.4,1482.9 L2333.5,1478.6 L2347.7,1482.9 L2358.6,1496.0 L2358.6,1527.6" fill="none" stroke="#231f20" stroke-width="1.55"/><path d="M2309.6,1675.3 L2309.6,1715.6 L2319.4,1728.7 L2333.5,1733.0 L2347.7,1728.7 L2358.6,1715.6 L2358.6,1684.0" fill="none" stroke="#231f20" stroke-width="1.55"/><path d="M2463.1,1415.4 L2595.9,1415.4 L2595.9,1441.6 L2483.8,1442.6 L2463.1,1439.4Z" fill="#fff" stroke="none"/><path d="M2463.1,1415.4 L2595.9,1415.4 L2595.9,1441.6 L2483.8,1442.6 L2463.1,1439.4Z" fill="url(#WH)" stroke="#231f20" stroke-width="1.55"/><path d="M2463.1,1796.2 L2595.9,1796.2 L2595.9,1770.0 L2483.8,1768.9 L2463.1,1772.2Z" fill="#fff" stroke="none"/><path d="M2463.1,1796.2 L2595.9,1796.2 L2595.9,1770.0 L2483.8,1768.9 L2463.1,1772.2Z" fill="url(#WH)" stroke="#231f20" stroke-width="1.55"/><path d="M2504.5,1472.0 L2599.2,1472.0 L2599.2,1534.1 L2504.5,1534.1Z" fill="#fff" stroke="none"/><path d="M2504.5,1472.0 L2599.2,1472.0 L2599.2,1534.1 L2504.5,1534.1Z" fill="url(#WS)" stroke="#231f20" stroke-width="1.55"/><path d="M2504.5,1739.5 L2599.2,1739.5 L2599.2,1677.5 L2504.5,1677.5Z" fill="#fff" stroke="none"/><path d="M2504.5,1739.5 L2599.2,1739.5 L2599.2,1677.5 L2504.5,1677.5Z" fill="url(#WS)" stroke="#231f20" stroke-width="1.55"/><path d="M2504.5,1739.5 L2599.2,1739.5 L2599.2,1677.5 L2504.5,1677.5Z" fill="#fff" stroke="none"/><path d="M2504.5,1739.5 L2599.2,1739.5 L2599.2,1677.5 L2504.5,1677.5Z" fill="url(#WVL)" stroke="#231f20" stroke-width="1.55"/><path d="M2504.5,1443.7 L2599.2,1443.7 L2599.2,1472.0 L2504.5,1472.0Z" fill="#fff" stroke="#231f20" stroke-width="2.00"/><path d="M2504.5,1767.9 L2599.2,1767.9 L2599.2,1739.5 L2504.5,1739.5Z" fill="#fff" stroke="#231f20" stroke-width="2.00"/><path d="M2504.5,1452.4 L2599.2,1452.4" fill="none" stroke="#231f20" stroke-width="2.50"/><path d="M2504.5,1759.1 L2599.2,1759.1" fill="none" stroke="#231f20" stroke-width="2.50"/><path d="M2504.5,1465.5 L2599.2,1465.5" fill="none" stroke="#231f20" stroke-width="1.55"/><path d="M2504.5,1746.1 L2599.2,1746.1" fill="none" stroke="#231f20" stroke-width="1.55"/><path d="M2504.5,1534.1 L2599.2,1534.1 L2599.2,1552.6 L2504.5,1552.6Z" fill="#fff" stroke="#231f20" stroke-width="1.55"/><path d="M2504.5,1677.5 L2599.2,1677.5 L2599.2,1659.0 L2504.5,1659.0Z" fill="#fff" stroke="#231f20" stroke-width="1.55"/><path d="M2504.5,1543.9 L2599.2,1543.9" fill="none" stroke="#231f20" stroke-width="1.55"/><path d="M2504.5,1667.7 L2599.2,1667.7" fill="none" stroke="#231f20" stroke-width="1.55"/><path d="M2502.3,1552.6 L2602.5,1552.6 L2602.5,1572.2 L2502.3,1572.2Z" fill="#fff" stroke="none"/><path d="M2502.3,1552.6 L2602.5,1552.6 L2602.5,1572.2 L2502.3,1572.2Z" fill="url(#WHd)" stroke="#231f20" stroke-width="1.55"/><path d="M2502.3,1659.0 L2602.5,1659.0 L2602.5,1639.4 L2502.3,1639.4Z" fill="#fff" stroke="none"/><path d="M2502.3,1659.0 L2602.5,1659.0 L2602.5,1639.4 L2502.3,1639.4Z" fill="url(#WHd)" stroke="#231f20" stroke-width="1.55"/><path d="M2451.1,1439.4 L2482.7,1439.4 L2483.8,1460.1 L2465.3,1465.5 L2463.1,1535.2 L2495.8,1539.5 L2495.8,1551.5 L2451.1,1550.4Z" fill="#fff" stroke="none"/><path d="M2451.1,1439.4 L2482.7,1439.4 L2483.8,1460.1 L2465.3,1465.5 L2463.1,1535.2 L2495.8,1539.5 L2495.8,1551.5 L2451.1,1550.4Z" fill="url(#WS)" stroke="#231f20" stroke-width="1.55"/><path d="M2451.1,1772.2 L2482.7,1772.2 L2483.8,1751.5 L2465.3,1746.1 L2463.1,1676.4 L2495.8,1672.0 L2495.8,1660.1 L2451.1,1661.1Z" fill="#fff" stroke="none"/><path d="M2451.1,1772.2 L2482.7,1772.2 L2483.8,1751.5 L2465.3,1746.1 L2463.1,1676.4 L2495.8,1672.0 L2495.8,1660.1 L2451.1,1661.1Z" fill="url(#WS)" stroke="#231f20" stroke-width="1.55"/><path d="M2440.2,1452.4 L2460.9,1450.3 L2460.9,1535.2 L2451.1,1539.5 L2451.1,1550.4 L2437.0,1539.5 L2437.0,1474.2Z" fill="none" stroke="#231f20" stroke-width="1.30"/><path d="M2440.2,1759.1 L2460.9,1761.3 L2460.9,1676.4 L2451.1,1672.0 L2451.1,1661.1 L2437.0,1672.0 L2437.0,1737.4Z" fill="none" stroke="#231f20" stroke-width="1.30"/><path d="M2606.8,1381.7 L2624.3,1380.6 L2639.5,1383.2 L2640.6,1580.9 L2636.2,1580.9 L2635.1,1422.0 L2624.3,1418.7 L2606.8,1413.2Z" fill="#fff" stroke="none"/><path d="M2606.8,1381.7 L2624.3,1380.6 L2639.5,1383.2 L2640.6,1580.9 L2636.2,1580.9 L2635.1,1422.0 L2624.3,1418.7 L2606.8,1413.2Z" fill="url(#WBr)" stroke="#231f20" stroke-width="1.55"/><path d="M2606.8,1829.9 L2624.3,1831.0 L2639.5,1828.4 L2640.6,1630.7 L2636.2,1630.7 L2635.1,1789.6 L2624.3,1792.9 L2606.8,1798.3Z" fill="#fff" stroke="none"/><path d="M2606.8,1829.9 L2624.3,1831.0 L2639.5,1828.4 L2640.6,1630.7 L2636.2,1630.7 L2635.1,1789.6 L2624.3,1792.9 L2606.8,1798.3Z" fill="url(#WBr)" stroke="#231f20" stroke-width="1.55"/><path d="M2554.6,1388.2 L2624.3,1388.2 L2624.3,1407.8 L2554.6,1407.8 L2550.2,1398.0Z" fill="#fff" stroke="#231f20" stroke-width="1.55"/><path d="M2554.6,1823.4 L2624.3,1823.4 L2624.3,1803.8 L2554.6,1803.8 L2550.2,1813.6Z" fill="#fff" stroke="#231f20" stroke-width="1.55"/><path d="M2636.2,1387.1 L2640.6,1393.6 L2636.2,1399.1" fill="none" stroke="#231f20" stroke-width="1.10"/><path d="M2636.2,1824.5 L2640.6,1817.9 L2636.2,1812.5" fill="none" stroke="#231f20" stroke-width="1.10"/><path d="M2636.2,1400.2 L2640.6,1406.7 L2636.2,1412.2" fill="none" stroke="#231f20" stroke-width="1.10"/><path d="M2636.2,1811.4 L2640.6,1804.9 L2636.2,1799.4" fill="none" stroke="#231f20" stroke-width="1.10"/><path d="M2636.2,1413.2 L2640.6,1419.8 L2636.2,1425.2" fill="none" stroke="#231f20" stroke-width="1.10"/><path d="M2636.2,1798.3 L2640.6,1791.8 L2636.2,1786.4" fill="none" stroke="#231f20" stroke-width="1.10"/><path d="M2636.2,1426.3 L2640.6,1432.8 L2636.2,1438.3" fill="none" stroke="#231f20" stroke-width="1.10"/><path d="M2636.2,1785.3 L2640.6,1778.7 L2636.2,1773.3" fill="none" stroke="#231f20" stroke-width="1.10"/><path d="M2636.2,1439.4 L2640.6,1445.9 L2636.2,1451.4" fill="none" stroke="#231f20" stroke-width="1.10"/><path d="M2636.2,1772.2 L2640.6,1765.7 L2636.2,1760.2" fill="none" stroke="#231f20" stroke-width="1.10"/><path d="M2636.2,1452.4 L2640.6,1459.0 L2636.2,1464.4" fill="none" stroke="#231f20" stroke-width="1.10"/><path d="M2636.2,1759.1 L2640.6,1752.6 L2636.2,1747.2" fill="none" stroke="#231f20" stroke-width="1.10"/><path d="M2636.2,1465.5 L2640.6,1472.0 L2636.2,1477.5" fill="none" stroke="#231f20" stroke-width="1.10"/><path d="M2636.2,1746.1 L2640.6,1739.5 L2636.2,1734.1" fill="none" stroke="#231f20" stroke-width="1.10"/><path d="M2636.2,1478.6 L2640.6,1485.1 L2636.2,1490.5" fill="none" stroke="#231f20" stroke-width="1.10"/><path d="M2636.2,1733.0 L2640.6,1726.5 L2636.2,1721.0" fill="none" stroke="#231f20" stroke-width="1.10"/><path d="M2636.2,1491.6 L2640.6,1498.2 L2636.2,1503.6" fill="none" stroke="#231f20" stroke-width="1.10"/><path d="M2636.2,1719.9 L2640.6,1713.4 L2636.2,1708.0" fill="none" stroke="#231f20" stroke-width="1.10"/><path d="M2636.2,1504.7 L2640.6,1511.2 L2636.2,1516.7" fill="none" stroke="#231f20" stroke-width="1.10"/><path d="M2636.2,1706.9 L2640.6,1700.3 L2636.2,1694.9" fill="none" stroke="#231f20" stroke-width="1.10"/><path d="M2636.2,1517.8 L2640.6,1524.3 L2636.2,1529.7" fill="none" stroke="#231f20" stroke-width="1.10"/><path d="M2636.2,1693.8 L2640.6,1687.3 L2636.2,1681.8" fill="none" stroke="#231f20" stroke-width="1.10"/><path d="M2636.2,1530.8 L2640.6,1537.4 L2636.2,1542.8" fill="none" stroke="#231f20" stroke-width="1.10"/><path d="M2636.2,1680.7 L2640.6,1674.2 L2636.2,1668.8" fill="none" stroke="#231f20" stroke-width="1.10"/><path d="M2636.2,1543.9 L2640.6,1550.4 L2636.2,1555.9" fill="none" stroke="#231f20" stroke-width="1.10"/><path d="M2636.2,1667.7 L2640.6,1661.1 L2636.2,1655.7" fill="none" stroke="#231f20" stroke-width="1.10"/><path d="M2636.2,1557.0 L2640.6,1563.5 L2636.2,1568.9" fill="none" stroke="#231f20" stroke-width="1.10"/><path d="M2636.2,1654.6 L2640.6,1648.1 L2636.2,1642.6" fill="none" stroke="#231f20" stroke-width="1.10"/><path d="M2636.2,1570.0 L2640.6,1576.6 L2636.2,1582.0" fill="none" stroke="#231f20" stroke-width="1.10"/><path d="M2636.2,1641.6 L2640.6,1635.0 L2636.2,1629.6" fill="none" stroke="#231f20" stroke-width="1.10"/><path d="M2603.6,1434.5 L2615.1,1442.1 L2620.9,1499.8 L2630.5,1545.9 L2653.6,1584.3 L2656.6,1607.3 L2651.6,1630.4 L2630.5,1665.0 L2620.9,1714.9 L2615.1,1772.5 L2603.6,1780.2 L2609.4,1722.6 L2615.1,1665.0 L2626.7,1638.1 L2630.5,1607.3 L2626.7,1576.6 L2615.1,1549.7 L2609.4,1492.1Z" fill="#fff" stroke="none"/><path d="M2603.6,1434.5 L2615.1,1442.1 L2620.9,1499.8 L2630.5,1545.9 L2653.6,1584.3 L2656.6,1607.3 L2651.6,1630.4 L2630.5,1665.0 L2620.9,1714.9 L2615.1,1772.5 L2603.6,1780.2 L2609.4,1722.6 L2615.1,1665.0 L2626.7,1638.1 L2630.5,1607.3 L2626.7,1576.6 L2615.1,1549.7 L2609.4,1492.1Z" fill="url(#WPr)" stroke="#231f20" stroke-width="1.40"/><path d="M2630.5,1426.8 L2641.3,1426.8 L2641.3,1787.9 L2630.5,1787.9Z" fill="none" stroke="#231f20" stroke-width="1.20"/><path d="M1841.8,1679.1 L1867.2,1679.1 L1867.2,1691.8 L1862.1,1698.2 L1862.1,1726.7 L1871.7,1726.7 L1871.7,1742.6 L1836.8,1742.6 L1836.8,1726.7 L1846.3,1726.7 L1846.3,1698.2 L1841.8,1691.8Z" fill="#fff" stroke="#231f20" stroke-width="1.30"/><path d="M1930.7,1663.3 L1937.0,1663.3 L1937.0,1714.0 L1930.7,1714.0Z" fill="#231f20" stroke="#231f20" stroke-width="1.00"/><path d="M2593.8,1594.0 L2648.2,1594.0 L2648.2,1605.7 L2593.8,1605.7Z" fill="#fff" stroke="none"/><path d="M2593.8,1594.0 L2648.2,1594.0 L2648.2,1605.7 L2593.8,1605.7Z" fill="url(#WBr)" stroke="#231f20" stroke-width="1.55"/><path d="M2593.8,1617.6 L2648.2,1617.6 L2648.2,1605.8 L2593.8,1605.8Z" fill="#fff" stroke="none"/><path d="M2593.8,1617.6 L2648.2,1617.6 L2648.2,1605.8 L2593.8,1605.8Z" fill="url(#WBr)" stroke="#231f20" stroke-width="1.55"/><path d="M2578.5,1599.4 L2593.8,1594.0 L2593.8,1605.7 L2578.5,1605.7Z" fill="#fff" stroke="#231f20" stroke-width="1.55"/><path d="M2578.5,1612.2 L2593.8,1617.6 L2593.8,1605.8 L2578.5,1605.8Z" fill="#fff" stroke="#231f20" stroke-width="1.55"/>
</svg>
<div class="t sans" style="top:195.0px;font-size:24.0px;left:146.0px;">&lt;2&gt;</div>
<div class="t sans" style="top:195.0px;font-size:24.0px;left:193.0px;"><span class="serif" style="letter-spacing:1.5px">安装齿圈及托架总成</span></div>
<div class="t sans" style="top:586.0px;font-size:24.0px;left:146.0px;">&lt;3&gt;</div>
<div class="t sans" style="top:586.0px;font-size:24.0px;left:193.0px;"><span class="serif" style="letter-spacing:1.5px">安装轴头螺母及防转螺钉，轴头螺母安装</span></div>
<div class="t sans" style="top:624.0px;font-size:24.0px;left:193.0px;"><span class="serif" style="letter-spacing:1.5px">标准见<span style="margin-left:9px">“</span><span style="letter-spacing:2.6px">4.3.3</span>轮边及整桥维修标准<span style="margin-right:9px">”</span>。</span></div>
<div class="t sans" style="top:1044.0px;font-size:28.0px;left:120.0px;letter-spacing:-0.9px;">3.5.8</div>
<div class="t sans" style="top:1044.0px;font-size:28.0px;left:193.4px;"><span style="letter-spacing:0.85px">安装太阳齿轮止推垫片后，使用专用</span></div>
<div class="t sans" style="top:1088.0px;font-size:28.0px;left:193.4px;"><span style="letter-spacing:0.85px">工装安装半轴<span style="margin:0 4.5px">-</span>太阳齿轮总成</span></div>
<div class="t sans" style="top:1500.0px;font-size:28.0px;left:120.0px;letter-spacing:-0.9px;">3.5.9</div>
<div class="t sans" style="top:1500.0px;font-size:28.0px;left:193.4px;"><span style="letter-spacing:0.84px">安装轮边减速器总成。拧入六角头紧固螺栓，拧紧力矩</span><span style="letter-spacing:0.55px">280±20Nm(普通)、190±10Nm(电动)。</span></div>
<div class="t sans b" style="top:217.8px;font-size:19.0px;left:763.0px;">齿圈及托架总成</div>
<div class="t sans b" style="top:597.8px;font-size:19.0px;right:1901.0px;text-align:right;">防转螺钉</div>
<div class="t sans b" style="top:623.8px;font-size:19.0px;right:1901.0px;text-align:right;">涂螺纹紧固胶 Loctite 243</div>
<div class="t sans b" style="top:649.8px;font-size:19.0px;right:1901.0px;text-align:right;">拧紧力矩34±3Nm</div>
<div class="t sans b" style="top:717.8px;font-size:19.0px;left:845.0px;">轴头螺母</div>
<div class="t sans b" style="top:1133.8px;font-size:19.0px;left:869.0px;">太阳轮</div>
<div class="t sans b" style="top:1105.8px;font-size:19.0px;left:1169.0px;">太阳齿轮止推垫片</div>
<div class="t sans b" style="top:1237.8px;font-size:19.0px;left:846.0px;">挡圈</div>
<div class="t sans b" style="top:1364.8px;font-size:19.0px;left:895.0px;">半轴</div>
<div class="t sans b" style="top:1228.8px;font-size:19.0px;right:2497.0px;text-align:right;">半轴专用工装</div>
<div class="t sans b" style="top:1254.8px;font-size:19.0px;right:2497.0px;text-align:right;">(FHW-Q2-06965)</div>
<div class="t sans b" style="top:1580.8px;font-size:19.0px;left:717.0px;">轮边减速器总成</div>
<div class="t sans b" style="top:1567.8px;font-size:19.0px;left:965.0px;">涂密封胶Loctite 5699</div>
<div class="t sans b" style="top:1831.8px;font-size:19.0px;right:2105.0px;text-align:right;">六角头螺栓</div>
<div class="t sans b" style="top:1857.8px;font-size:19.0px;right:2105.0px;text-align:right;">涂螺纹紧固胶 Loctite 243</div>
<div class="t sans b" style="top:1883.8px;font-size:19.0px;right:2105.0px;text-align:right;">拧紧力矩280±20Nm</div>
<div class="t sans" style="top:193.0px;font-size:32.0px;left:1559.0px;letter-spacing:-0.5px;">3.6</div>
<div class="t sans" style="top:193.0px;font-size:32.0px;left:1620.6px;"><span style="letter-spacing:1.4px">剖视图</span></div>
<div class="t sans" style="top:262.4px;font-size:27.5px;left:1575.7px;letter-spacing:-0.5px;"><b>3.6.1</b></div>
<div class="t sans" style="top:262.4px;font-size:27.5px;left:1649.0px;"><span style="letter-spacing:1.2px">主减剖视图</span></div>
<div class="t sans" style="top:1197.4px;font-size:27.5px;left:1575.7px;letter-spacing:-0.5px;"><b>3.6.2</b></div>
<div class="t sans" style="top:1197.4px;font-size:27.5px;left:1649.0px;"><span style="letter-spacing:1.2px">轮边剖视图</span></div>
<div class="t sans" style="top:1976.0px;font-size:24.0px;left:621.0px;word-spacing:7.4px;"><span class="serif">第</span> <b>35</b> <span class="serif">页</span>/<span class="serif">共</span> <b>43</b> <span class="serif">页</span></div>
<div class="t sans" style="top:1976.0px;font-size:24.0px;left:2077.0px;word-spacing:7.4px;"><span class="serif">第</span> <b>36</b> <span class="serif">页</span>/<span class="serif">共</span> <b>43</b> <span class="serif">页</span></div>
</body></html>
